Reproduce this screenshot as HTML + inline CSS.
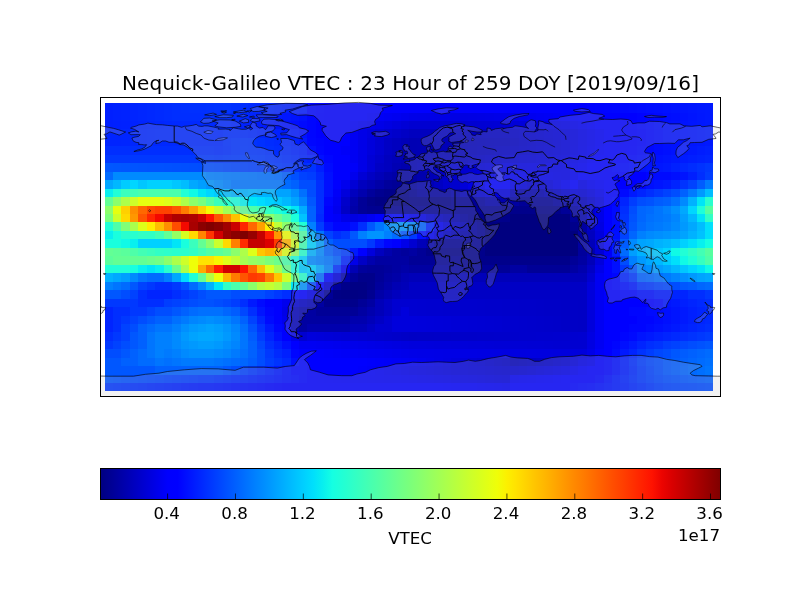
<!DOCTYPE html>
<html lang="en"><head><meta charset="utf-8"><title>Nequick-Galileo VTEC</title>
<style>
html,body{margin:0;padding:0;background:#fff;}
body{width:800px;height:600px;overflow:hidden;}
svg{display:block;}
text{font-family:"DejaVu Sans","Liberation Sans",sans-serif;fill:#000;filter:grayscale(100%);}
</style></head><body>
<svg width="800" height="600" viewBox="0 0 800 600">
<rect width="800" height="600" fill="#fff"/>
<defs>
<clipPath id="ax"><rect x="100" y="97" width="620" height="299"/></clipPath>
<linearGradient id="jet" x1="0" x2="1" y1="0" y2="0"><stop offset="0.0000" stop-color="#000080"/><stop offset="0.0156" stop-color="#000092"/><stop offset="0.0312" stop-color="#0000a4"/><stop offset="0.0469" stop-color="#0000b6"/><stop offset="0.0625" stop-color="#0000c8"/><stop offset="0.0781" stop-color="#0000da"/><stop offset="0.0938" stop-color="#0000ec"/><stop offset="0.1094" stop-color="#0000fe"/><stop offset="0.1250" stop-color="#0000ff"/><stop offset="0.1406" stop-color="#0010ff"/><stop offset="0.1562" stop-color="#0020ff"/><stop offset="0.1719" stop-color="#0030ff"/><stop offset="0.1875" stop-color="#0040ff"/><stop offset="0.2031" stop-color="#0050ff"/><stop offset="0.2188" stop-color="#0060ff"/><stop offset="0.2344" stop-color="#0070ff"/><stop offset="0.2500" stop-color="#0080ff"/><stop offset="0.2656" stop-color="#008fff"/><stop offset="0.2812" stop-color="#009fff"/><stop offset="0.2969" stop-color="#00afff"/><stop offset="0.3125" stop-color="#00bfff"/><stop offset="0.3281" stop-color="#00cfff"/><stop offset="0.3438" stop-color="#00dffc"/><stop offset="0.3594" stop-color="#08efef"/><stop offset="0.3750" stop-color="#15ffe2"/><stop offset="0.3906" stop-color="#21ffd5"/><stop offset="0.4062" stop-color="#2effc9"/><stop offset="0.4219" stop-color="#3bffbc"/><stop offset="0.4375" stop-color="#48ffaf"/><stop offset="0.4531" stop-color="#55ffa2"/><stop offset="0.4688" stop-color="#62ff95"/><stop offset="0.4844" stop-color="#6fff88"/><stop offset="0.5000" stop-color="#7bff7b"/><stop offset="0.5156" stop-color="#88ff6f"/><stop offset="0.5312" stop-color="#95ff62"/><stop offset="0.5469" stop-color="#a2ff55"/><stop offset="0.5625" stop-color="#afff48"/><stop offset="0.5781" stop-color="#bcff3b"/><stop offset="0.5938" stop-color="#c9ff2e"/><stop offset="0.6094" stop-color="#d5ff21"/><stop offset="0.6250" stop-color="#e2ff15"/><stop offset="0.6406" stop-color="#effe08"/><stop offset="0.6562" stop-color="#fcf000"/><stop offset="0.6719" stop-color="#ffe100"/><stop offset="0.6875" stop-color="#ffd200"/><stop offset="0.7031" stop-color="#ffc300"/><stop offset="0.7188" stop-color="#ffb500"/><stop offset="0.7344" stop-color="#ffa600"/><stop offset="0.7500" stop-color="#ff9700"/><stop offset="0.7656" stop-color="#ff8800"/><stop offset="0.7812" stop-color="#ff7a00"/><stop offset="0.7969" stop-color="#ff6b00"/><stop offset="0.8125" stop-color="#ff5c00"/><stop offset="0.8281" stop-color="#ff4d00"/><stop offset="0.8438" stop-color="#ff3f00"/><stop offset="0.8594" stop-color="#ff3000"/><stop offset="0.8750" stop-color="#ff2100"/><stop offset="0.8906" stop-color="#fe1200"/><stop offset="0.9062" stop-color="#ec0400"/><stop offset="0.9219" stop-color="#da0000"/><stop offset="0.9375" stop-color="#c80000"/><stop offset="0.9531" stop-color="#b60000"/><stop offset="0.9688" stop-color="#a40000"/><stop offset="0.9844" stop-color="#920000"/><stop offset="1.0000" stop-color="#800000"/></linearGradient>
</defs>
<g shape-rendering="crispEdges">
<rect x="105" y="103" width="8" height="10" fill="#001fff"/><rect x="113" y="103" width="8" height="10" fill="#0021ff"/><rect x="121" y="103" width="9" height="10" fill="#0022ff"/><rect x="130" y="103" width="8" height="10" fill="#0024ff"/><rect x="138" y="103" width="9" height="10" fill="#0026ff"/><rect x="147" y="103" width="8" height="10" fill="#0028ff"/><rect x="155" y="103" width="9" height="10" fill="#002aff"/><rect x="164" y="103" width="8" height="10" fill="#002cff"/><rect x="172" y="103" width="9" height="10" fill="#002eff"/><rect x="181" y="103" width="8" height="10" fill="#002fff"/><rect x="189" y="103" width="17" height="10" fill="#0030ff"/><rect x="206" y="103" width="8" height="10" fill="#0031ff"/><rect x="214" y="103" width="9" height="10" fill="#0032ff"/><rect x="223" y="103" width="8" height="10" fill="#0033ff"/><rect x="231" y="103" width="9" height="10" fill="#0030ff"/><rect x="240" y="103" width="8" height="10" fill="#002dff"/><rect x="248" y="103" width="9" height="10" fill="#002aff"/><rect x="257" y="103" width="8" height="10" fill="#0028ff"/><rect x="265" y="103" width="9" height="10" fill="#0025ff"/><rect x="274" y="103" width="8" height="10" fill="#0022ff"/><rect x="282" y="103" width="9" height="10" fill="#001fff"/><rect x="291" y="103" width="8" height="10" fill="#001cff"/><rect x="299" y="103" width="8" height="10" fill="#0019ff"/><rect x="307" y="103" width="9" height="10" fill="#0005ff"/><rect x="316" y="103" width="8" height="10" fill="#0003ff"/><rect x="324" y="103" width="263" height="10" fill="#0000ff"/><rect x="587" y="103" width="8" height="10" fill="#0002ff"/><rect x="595" y="103" width="9" height="10" fill="#0003ff"/><rect x="604" y="103" width="8" height="10" fill="#0004ff"/><rect x="612" y="103" width="8" height="10" fill="#0005ff"/><rect x="620" y="103" width="9" height="10" fill="#0007ff"/><rect x="629" y="103" width="8" height="10" fill="#0009ff"/><rect x="637" y="103" width="9" height="10" fill="#000bff"/><rect x="646" y="103" width="8" height="10" fill="#000dff"/><rect x="654" y="103" width="9" height="10" fill="#000eff"/><rect x="663" y="103" width="8" height="10" fill="#0010ff"/><rect x="671" y="103" width="9" height="10" fill="#0012ff"/><rect x="680" y="103" width="8" height="10" fill="#0014ff"/><rect x="688" y="103" width="9" height="10" fill="#0016ff"/><rect x="697" y="103" width="8" height="10" fill="#0018ff"/><rect x="705" y="103" width="8" height="10" fill="#0019ff"/>
<rect x="105" y="113" width="8" height="8" fill="#001fff"/><rect x="113" y="113" width="8" height="8" fill="#0021ff"/><rect x="121" y="113" width="9" height="8" fill="#0022ff"/><rect x="130" y="113" width="8" height="8" fill="#0024ff"/><rect x="138" y="113" width="9" height="8" fill="#0026ff"/><rect x="147" y="113" width="8" height="8" fill="#0028ff"/><rect x="155" y="113" width="9" height="8" fill="#002aff"/><rect x="164" y="113" width="8" height="8" fill="#002cff"/><rect x="172" y="113" width="59" height="8" fill="#002eff"/><rect x="231" y="113" width="9" height="8" fill="#002bff"/><rect x="240" y="113" width="8" height="8" fill="#0027ff"/><rect x="248" y="113" width="9" height="8" fill="#0024ff"/><rect x="257" y="113" width="8" height="8" fill="#0020ff"/><rect x="265" y="113" width="9" height="8" fill="#001dff"/><rect x="274" y="113" width="8" height="8" fill="#001aff"/><rect x="282" y="113" width="9" height="8" fill="#0016ff"/><rect x="291" y="113" width="8" height="8" fill="#0013ff"/><rect x="299" y="113" width="8" height="8" fill="#000fff"/><rect x="307" y="113" width="9" height="8" fill="#0005ff"/><rect x="316" y="113" width="8" height="8" fill="#0002ff"/><rect x="324" y="113" width="43" height="8" fill="#0000ff"/><rect x="367" y="113" width="8" height="8" fill="#0000fb"/><rect x="375" y="113" width="9" height="8" fill="#0000f7"/><rect x="384" y="113" width="8" height="8" fill="#0000f3"/><rect x="392" y="113" width="9" height="8" fill="#0000f0"/><rect x="401" y="113" width="8" height="8" fill="#0000ec"/><rect x="409" y="113" width="8" height="8" fill="#0000e8"/><rect x="417" y="113" width="9" height="8" fill="#0000e7"/><rect x="426" y="113" width="8" height="8" fill="#0000e6"/><rect x="434" y="113" width="9" height="8" fill="#0000e5"/><rect x="443" y="113" width="8" height="8" fill="#0000e4"/><rect x="451" y="113" width="9" height="8" fill="#0000e3"/><rect x="460" y="113" width="8" height="8" fill="#0000e2"/><rect x="468" y="113" width="9" height="8" fill="#0000e3"/><rect x="477" y="113" width="8" height="8" fill="#0000e4"/><rect x="485" y="113" width="9" height="8" fill="#0000e5"/><rect x="494" y="113" width="8" height="8" fill="#0000e7"/><rect x="502" y="113" width="8" height="8" fill="#0000e8"/><rect x="510" y="113" width="9" height="8" fill="#0000ea"/><rect x="519" y="113" width="8" height="8" fill="#0000ed"/><rect x="527" y="113" width="9" height="8" fill="#0000f0"/><rect x="536" y="113" width="8" height="8" fill="#0000f3"/><rect x="544" y="113" width="9" height="8" fill="#0000f5"/><rect x="553" y="113" width="8" height="8" fill="#0000f8"/><rect x="561" y="113" width="9" height="8" fill="#0000fb"/><rect x="570" y="113" width="8" height="8" fill="#0000fd"/><rect x="578" y="113" width="59" height="8" fill="#0000ff"/><rect x="637" y="113" width="9" height="8" fill="#0003ff"/><rect x="646" y="113" width="8" height="8" fill="#0006ff"/><rect x="654" y="113" width="9" height="8" fill="#0009ff"/><rect x="663" y="113" width="8" height="8" fill="#000cff"/><rect x="671" y="113" width="9" height="8" fill="#000eff"/><rect x="680" y="113" width="8" height="8" fill="#0011ff"/><rect x="688" y="113" width="9" height="8" fill="#0014ff"/><rect x="697" y="113" width="8" height="8" fill="#0017ff"/><rect x="705" y="113" width="8" height="8" fill="#0019ff"/>
<rect x="105" y="121" width="8" height="8" fill="#001fff"/><rect x="113" y="121" width="8" height="8" fill="#0020ff"/><rect x="121" y="121" width="9" height="8" fill="#0021ff"/><rect x="130" y="121" width="8" height="8" fill="#0022ff"/><rect x="138" y="121" width="9" height="8" fill="#0024ff"/><rect x="147" y="121" width="8" height="8" fill="#0025ff"/><rect x="155" y="121" width="9" height="8" fill="#0026ff"/><rect x="164" y="121" width="8" height="8" fill="#0028ff"/><rect x="172" y="121" width="59" height="8" fill="#0029ff"/><rect x="231" y="121" width="9" height="8" fill="#0025ff"/><rect x="240" y="121" width="8" height="8" fill="#0022ff"/><rect x="248" y="121" width="9" height="8" fill="#001fff"/><rect x="257" y="121" width="8" height="8" fill="#001bff"/><rect x="265" y="121" width="9" height="8" fill="#0018ff"/><rect x="274" y="121" width="8" height="8" fill="#0014ff"/><rect x="282" y="121" width="9" height="8" fill="#0011ff"/><rect x="291" y="121" width="8" height="8" fill="#000eff"/><rect x="299" y="121" width="8" height="8" fill="#000aff"/><rect x="307" y="121" width="9" height="8" fill="#0005ff"/><rect x="316" y="121" width="34" height="8" fill="#0000ff"/><rect x="350" y="121" width="8" height="8" fill="#0000f9"/><rect x="358" y="121" width="9" height="8" fill="#0000f3"/><rect x="367" y="121" width="8" height="8" fill="#0000ee"/><rect x="375" y="121" width="9" height="8" fill="#0000e8"/><rect x="384" y="121" width="8" height="8" fill="#0000e2"/><rect x="392" y="121" width="9" height="8" fill="#0000dc"/><rect x="401" y="121" width="8" height="8" fill="#0000d6"/><rect x="409" y="121" width="59" height="8" fill="#0000d1"/><rect x="468" y="121" width="9" height="8" fill="#0000d2"/><rect x="477" y="121" width="8" height="8" fill="#0000d3"/><rect x="485" y="121" width="9" height="8" fill="#0000d4"/><rect x="494" y="121" width="8" height="8" fill="#0000d5"/><rect x="502" y="121" width="8" height="8" fill="#0000d6"/><rect x="510" y="121" width="9" height="8" fill="#0000d9"/><rect x="519" y="121" width="8" height="8" fill="#0000db"/><rect x="527" y="121" width="9" height="8" fill="#0000de"/><rect x="536" y="121" width="8" height="8" fill="#0000e0"/><rect x="544" y="121" width="9" height="8" fill="#0000e3"/><rect x="553" y="121" width="8" height="8" fill="#0000e5"/><rect x="561" y="121" width="9" height="8" fill="#0000e8"/><rect x="570" y="121" width="8" height="8" fill="#0000ee"/><rect x="578" y="121" width="9" height="8" fill="#0000f3"/><rect x="587" y="121" width="8" height="8" fill="#0000f9"/><rect x="595" y="121" width="34" height="8" fill="#0000ff"/><rect x="629" y="121" width="8" height="8" fill="#0002ff"/><rect x="637" y="121" width="9" height="8" fill="#0005ff"/><rect x="646" y="121" width="8" height="8" fill="#0008ff"/><rect x="654" y="121" width="9" height="8" fill="#000cff"/><rect x="663" y="121" width="8" height="8" fill="#000fff"/><rect x="671" y="121" width="9" height="8" fill="#0011ff"/><rect x="680" y="121" width="8" height="8" fill="#0013ff"/><rect x="688" y="121" width="9" height="8" fill="#0015ff"/><rect x="697" y="121" width="8" height="8" fill="#0017ff"/><rect x="705" y="121" width="8" height="8" fill="#0019ff"/>
<rect x="105" y="129" width="16" height="9" fill="#0024ff"/><rect x="121" y="129" width="9" height="9" fill="#0025ff"/><rect x="130" y="129" width="17" height="9" fill="#0026ff"/><rect x="147" y="129" width="8" height="9" fill="#0027ff"/><rect x="155" y="129" width="17" height="9" fill="#0028ff"/><rect x="172" y="129" width="51" height="9" fill="#0029ff"/><rect x="223" y="129" width="17" height="9" fill="#002cff"/><rect x="240" y="129" width="8" height="9" fill="#002bff"/><rect x="248" y="129" width="9" height="9" fill="#0029ff"/><rect x="257" y="129" width="8" height="9" fill="#0025ff"/><rect x="265" y="129" width="9" height="9" fill="#0022ff"/><rect x="274" y="129" width="8" height="9" fill="#001fff"/><rect x="282" y="129" width="9" height="9" fill="#001bff"/><rect x="291" y="129" width="8" height="9" fill="#0017ff"/><rect x="299" y="129" width="8" height="9" fill="#0011ff"/><rect x="307" y="129" width="9" height="9" fill="#0005ff"/><rect x="316" y="129" width="34" height="9" fill="#0000ff"/><rect x="350" y="129" width="8" height="9" fill="#0000f3"/><rect x="358" y="129" width="9" height="9" fill="#0000e8"/><rect x="367" y="129" width="8" height="9" fill="#0000e0"/><rect x="375" y="129" width="9" height="9" fill="#0000d8"/><rect x="384" y="129" width="8" height="9" fill="#0000d1"/><rect x="392" y="129" width="9" height="9" fill="#0000cb"/><rect x="401" y="129" width="8" height="9" fill="#0000c5"/><rect x="409" y="129" width="59" height="9" fill="#0000bf"/><rect x="468" y="129" width="9" height="9" fill="#0000c0"/><rect x="477" y="129" width="8" height="9" fill="#0000c2"/><rect x="485" y="129" width="9" height="9" fill="#0000c3"/><rect x="494" y="129" width="8" height="9" fill="#0000c4"/><rect x="502" y="129" width="8" height="9" fill="#0000c5"/><rect x="510" y="129" width="9" height="9" fill="#0000c8"/><rect x="519" y="129" width="8" height="9" fill="#0000cc"/><rect x="527" y="129" width="9" height="9" fill="#0000cf"/><rect x="536" y="129" width="8" height="9" fill="#0000d2"/><rect x="544" y="129" width="9" height="9" fill="#0000d6"/><rect x="553" y="129" width="8" height="9" fill="#0000d9"/><rect x="561" y="129" width="9" height="9" fill="#0000dc"/><rect x="570" y="129" width="8" height="9" fill="#0000e3"/><rect x="578" y="129" width="9" height="9" fill="#0000ea"/><rect x="587" y="129" width="8" height="9" fill="#0000f1"/><rect x="595" y="129" width="9" height="9" fill="#0000f7"/><rect x="604" y="129" width="8" height="9" fill="#0000fe"/><rect x="612" y="129" width="25" height="9" fill="#0000ff"/><rect x="637" y="129" width="9" height="9" fill="#0003ff"/><rect x="646" y="129" width="8" height="9" fill="#0007ff"/><rect x="654" y="129" width="9" height="9" fill="#000bff"/><rect x="663" y="129" width="8" height="9" fill="#000fff"/><rect x="671" y="129" width="9" height="9" fill="#0011ff"/><rect x="680" y="129" width="8" height="9" fill="#0013ff"/><rect x="688" y="129" width="9" height="9" fill="#0015ff"/><rect x="697" y="129" width="8" height="9" fill="#0017ff"/><rect x="705" y="129" width="8" height="9" fill="#0019ff"/>
<rect x="105" y="138" width="16" height="8" fill="#0024ff"/><rect x="121" y="138" width="9" height="8" fill="#0025ff"/><rect x="130" y="138" width="17" height="8" fill="#0026ff"/><rect x="147" y="138" width="8" height="8" fill="#0027ff"/><rect x="155" y="138" width="17" height="8" fill="#0028ff"/><rect x="172" y="138" width="51" height="8" fill="#0029ff"/><rect x="223" y="138" width="8" height="8" fill="#002fff"/><rect x="231" y="138" width="9" height="8" fill="#0032ff"/><rect x="240" y="138" width="8" height="8" fill="#0034ff"/><rect x="248" y="138" width="9" height="8" fill="#0033ff"/><rect x="257" y="138" width="8" height="8" fill="#0030ff"/><rect x="265" y="138" width="9" height="8" fill="#002cff"/><rect x="274" y="138" width="8" height="8" fill="#0029ff"/><rect x="282" y="138" width="9" height="8" fill="#0025ff"/><rect x="291" y="138" width="8" height="8" fill="#0020ff"/><rect x="299" y="138" width="8" height="8" fill="#0018ff"/><rect x="307" y="138" width="9" height="8" fill="#0006ff"/><rect x="316" y="138" width="8" height="8" fill="#0003ff"/><rect x="324" y="138" width="26" height="8" fill="#0000ff"/><rect x="350" y="138" width="8" height="8" fill="#0000f3"/><rect x="358" y="138" width="9" height="8" fill="#0000e8"/><rect x="367" y="138" width="8" height="8" fill="#0000dc"/><rect x="375" y="138" width="9" height="8" fill="#0000d1"/><rect x="384" y="138" width="8" height="8" fill="#0000c5"/><rect x="392" y="138" width="9" height="8" fill="#0000bf"/><rect x="401" y="138" width="8" height="8" fill="#0000b9"/><rect x="409" y="138" width="8" height="8" fill="#0000b4"/><rect x="417" y="138" width="9" height="8" fill="#0000b5"/><rect x="426" y="138" width="8" height="8" fill="#0000b6"/><rect x="434" y="138" width="9" height="8" fill="#0000b7"/><rect x="443" y="138" width="17" height="8" fill="#0000b8"/><rect x="460" y="138" width="8" height="8" fill="#0000b9"/><rect x="468" y="138" width="9" height="8" fill="#0000bb"/><rect x="477" y="138" width="8" height="8" fill="#0000bc"/><rect x="485" y="138" width="9" height="8" fill="#0000bd"/><rect x="494" y="138" width="8" height="8" fill="#0000be"/><rect x="502" y="138" width="8" height="8" fill="#0000bf"/><rect x="510" y="138" width="9" height="8" fill="#0000c3"/><rect x="519" y="138" width="8" height="8" fill="#0000c8"/><rect x="527" y="138" width="9" height="8" fill="#0000cc"/><rect x="536" y="138" width="8" height="8" fill="#0000d0"/><rect x="544" y="138" width="9" height="8" fill="#0000d4"/><rect x="553" y="138" width="8" height="8" fill="#0000d8"/><rect x="561" y="138" width="9" height="8" fill="#0000dc"/><rect x="570" y="138" width="8" height="8" fill="#0000e3"/><rect x="578" y="138" width="9" height="8" fill="#0000ea"/><rect x="587" y="138" width="8" height="8" fill="#0000f1"/><rect x="595" y="138" width="9" height="8" fill="#0000f7"/><rect x="604" y="138" width="8" height="8" fill="#0000fe"/><rect x="612" y="138" width="25" height="8" fill="#0000ff"/><rect x="637" y="138" width="9" height="8" fill="#0003ff"/><rect x="646" y="138" width="8" height="8" fill="#0007ff"/><rect x="654" y="138" width="9" height="8" fill="#000bff"/><rect x="663" y="138" width="8" height="8" fill="#000fff"/><rect x="671" y="138" width="9" height="8" fill="#0011ff"/><rect x="680" y="138" width="8" height="8" fill="#0013ff"/><rect x="688" y="138" width="9" height="8" fill="#0015ff"/><rect x="697" y="138" width="8" height="8" fill="#0017ff"/><rect x="705" y="138" width="8" height="8" fill="#0019ff"/>
<rect x="105" y="146" width="109" height="9" fill="#002eff"/><rect x="214" y="146" width="9" height="9" fill="#002bff"/><rect x="223" y="146" width="8" height="9" fill="#002eff"/><rect x="231" y="146" width="9" height="9" fill="#0032ff"/><rect x="240" y="146" width="8" height="9" fill="#0035ff"/><rect x="248" y="146" width="9" height="9" fill="#0034ff"/><rect x="257" y="146" width="8" height="9" fill="#0032ff"/><rect x="265" y="146" width="9" height="9" fill="#002fff"/><rect x="274" y="146" width="8" height="9" fill="#002cff"/><rect x="282" y="146" width="9" height="9" fill="#0029ff"/><rect x="291" y="146" width="8" height="9" fill="#0024ff"/><rect x="299" y="146" width="8" height="9" fill="#001eff"/><rect x="307" y="146" width="9" height="9" fill="#000fff"/><rect x="316" y="146" width="8" height="9" fill="#0005ff"/><rect x="324" y="146" width="17" height="9" fill="#0000ff"/><rect x="341" y="146" width="9" height="9" fill="#0000f9"/><rect x="350" y="146" width="8" height="9" fill="#0000f3"/><rect x="358" y="146" width="9" height="9" fill="#0000e8"/><rect x="367" y="146" width="8" height="9" fill="#0000dc"/><rect x="375" y="146" width="9" height="9" fill="#0000d1"/><rect x="384" y="146" width="8" height="9" fill="#0000c5"/><rect x="392" y="146" width="9" height="9" fill="#0000bf"/><rect x="401" y="146" width="8" height="9" fill="#0000b9"/><rect x="409" y="146" width="8" height="9" fill="#0000b4"/><rect x="417" y="146" width="9" height="9" fill="#0000b5"/><rect x="426" y="146" width="8" height="9" fill="#0000b6"/><rect x="434" y="146" width="9" height="9" fill="#0000b7"/><rect x="443" y="146" width="17" height="9" fill="#0000b8"/><rect x="460" y="146" width="8" height="9" fill="#0000b9"/><rect x="468" y="146" width="9" height="9" fill="#0000bc"/><rect x="477" y="146" width="8" height="9" fill="#0000be"/><rect x="485" y="146" width="9" height="9" fill="#0000c0"/><rect x="494" y="146" width="8" height="9" fill="#0000c3"/><rect x="502" y="146" width="8" height="9" fill="#0000c5"/><rect x="510" y="146" width="9" height="9" fill="#0000c8"/><rect x="519" y="146" width="8" height="9" fill="#0000cc"/><rect x="527" y="146" width="9" height="9" fill="#0000cf"/><rect x="536" y="146" width="8" height="9" fill="#0000d2"/><rect x="544" y="146" width="9" height="9" fill="#0000d6"/><rect x="553" y="146" width="8" height="9" fill="#0000d9"/><rect x="561" y="146" width="9" height="9" fill="#0000dc"/><rect x="570" y="146" width="8" height="9" fill="#0000e4"/><rect x="578" y="146" width="9" height="9" fill="#0000ec"/><rect x="587" y="146" width="8" height="9" fill="#0000f3"/><rect x="595" y="146" width="9" height="9" fill="#0000fb"/><rect x="604" y="146" width="25" height="9" fill="#0000ff"/><rect x="629" y="146" width="8" height="9" fill="#0002ff"/><rect x="637" y="146" width="9" height="9" fill="#0005ff"/><rect x="646" y="146" width="8" height="9" fill="#0008ff"/><rect x="654" y="146" width="9" height="9" fill="#000cff"/><rect x="663" y="146" width="8" height="9" fill="#000fff"/><rect x="671" y="146" width="9" height="9" fill="#0012ff"/><rect x="680" y="146" width="8" height="9" fill="#0015ff"/><rect x="688" y="146" width="9" height="9" fill="#0018ff"/><rect x="697" y="146" width="8" height="9" fill="#001cff"/><rect x="705" y="146" width="8" height="9" fill="#001fff"/>
<rect x="105" y="155" width="109" height="8" fill="#0038ff"/><rect x="214" y="155" width="9" height="8" fill="#0035ff"/><rect x="223" y="155" width="8" height="8" fill="#0037ff"/><rect x="231" y="155" width="9" height="8" fill="#0039ff"/><rect x="240" y="155" width="8" height="8" fill="#003bff"/><rect x="248" y="155" width="9" height="8" fill="#0039ff"/><rect x="257" y="155" width="8" height="8" fill="#0037ff"/><rect x="265" y="155" width="9" height="8" fill="#0034ff"/><rect x="274" y="155" width="8" height="8" fill="#0031ff"/><rect x="282" y="155" width="9" height="8" fill="#002eff"/><rect x="291" y="155" width="8" height="8" fill="#002aff"/><rect x="299" y="155" width="8" height="8" fill="#0024ff"/><rect x="307" y="155" width="9" height="8" fill="#001fff"/><rect x="316" y="155" width="8" height="8" fill="#000fff"/><rect x="324" y="155" width="9" height="8" fill="#0005ff"/><rect x="333" y="155" width="17" height="8" fill="#0000ff"/><rect x="350" y="155" width="8" height="8" fill="#0000f3"/><rect x="358" y="155" width="9" height="8" fill="#0000e8"/><rect x="367" y="155" width="8" height="8" fill="#0000d6"/><rect x="375" y="155" width="9" height="8" fill="#0000cb"/><rect x="384" y="155" width="8" height="8" fill="#0000bf"/><rect x="392" y="155" width="9" height="8" fill="#0000b9"/><rect x="401" y="155" width="16" height="8" fill="#0000b4"/><rect x="417" y="155" width="9" height="8" fill="#0000b6"/><rect x="426" y="155" width="8" height="8" fill="#0000b8"/><rect x="434" y="155" width="9" height="8" fill="#0000b9"/><rect x="443" y="155" width="8" height="8" fill="#0000bb"/><rect x="451" y="155" width="9" height="8" fill="#0000bd"/><rect x="460" y="155" width="8" height="8" fill="#0000bf"/><rect x="468" y="155" width="9" height="8" fill="#0000c3"/><rect x="477" y="155" width="8" height="8" fill="#0000c6"/><rect x="485" y="155" width="9" height="8" fill="#0000ca"/><rect x="494" y="155" width="8" height="8" fill="#0000cd"/><rect x="502" y="155" width="8" height="8" fill="#0000d1"/><rect x="510" y="155" width="9" height="8" fill="#0000d3"/><rect x="519" y="155" width="8" height="8" fill="#0000d6"/><rect x="527" y="155" width="9" height="8" fill="#0000d8"/><rect x="536" y="155" width="8" height="8" fill="#0000db"/><rect x="544" y="155" width="9" height="8" fill="#0000dd"/><rect x="553" y="155" width="8" height="8" fill="#0000e0"/><rect x="561" y="155" width="9" height="8" fill="#0000e2"/><rect x="570" y="155" width="8" height="8" fill="#0000ea"/><rect x="578" y="155" width="9" height="8" fill="#0000f1"/><rect x="587" y="155" width="8" height="8" fill="#0000f9"/><rect x="595" y="155" width="25" height="8" fill="#0000ff"/><rect x="620" y="155" width="9" height="8" fill="#0003ff"/><rect x="629" y="155" width="8" height="8" fill="#0007ff"/><rect x="637" y="155" width="9" height="8" fill="#000aff"/><rect x="646" y="155" width="8" height="8" fill="#000eff"/><rect x="654" y="155" width="9" height="8" fill="#0011ff"/><rect x="663" y="155" width="8" height="8" fill="#0014ff"/><rect x="671" y="155" width="9" height="8" fill="#0017ff"/><rect x="680" y="155" width="8" height="8" fill="#001bff"/><rect x="688" y="155" width="9" height="8" fill="#001eff"/><rect x="697" y="155" width="8" height="8" fill="#0021ff"/><rect x="705" y="155" width="8" height="8" fill="#0024ff"/>
<rect x="105" y="163" width="8" height="9" fill="#0057ff"/><rect x="113" y="163" width="8" height="9" fill="#0056ff"/><rect x="121" y="163" width="9" height="9" fill="#0055ff"/><rect x="130" y="163" width="8" height="9" fill="#0054ff"/><rect x="138" y="163" width="9" height="9" fill="#0053ff"/><rect x="147" y="163" width="17" height="9" fill="#0052ff"/><rect x="164" y="163" width="8" height="9" fill="#0051ff"/><rect x="172" y="163" width="9" height="9" fill="#0050ff"/><rect x="181" y="163" width="8" height="9" fill="#004fff"/><rect x="189" y="163" width="9" height="9" fill="#004eff"/><rect x="198" y="163" width="16" height="9" fill="#004dff"/><rect x="214" y="163" width="9" height="9" fill="#004aff"/><rect x="223" y="163" width="8" height="9" fill="#0047ff"/><rect x="231" y="163" width="9" height="9" fill="#0044ff"/><rect x="240" y="163" width="8" height="9" fill="#0041ff"/><rect x="248" y="163" width="9" height="9" fill="#003fff"/><rect x="257" y="163" width="8" height="9" fill="#003cff"/><rect x="265" y="163" width="9" height="9" fill="#0039ff"/><rect x="274" y="163" width="8" height="9" fill="#0036ff"/><rect x="282" y="163" width="9" height="9" fill="#0033ff"/><rect x="291" y="163" width="8" height="9" fill="#0031ff"/><rect x="299" y="163" width="8" height="9" fill="#002eff"/><rect x="307" y="163" width="9" height="9" fill="#0033ff"/><rect x="316" y="163" width="8" height="9" fill="#001fff"/><rect x="324" y="163" width="9" height="9" fill="#000aff"/><rect x="333" y="163" width="17" height="9" fill="#0000ff"/><rect x="350" y="163" width="8" height="9" fill="#0000f9"/><rect x="358" y="163" width="9" height="9" fill="#0000e8"/><rect x="367" y="163" width="8" height="9" fill="#0000d6"/><rect x="375" y="163" width="9" height="9" fill="#0000c5"/><rect x="384" y="163" width="8" height="9" fill="#0000bf"/><rect x="392" y="163" width="9" height="9" fill="#0000b4"/><rect x="401" y="163" width="8" height="9" fill="#0000ae"/><rect x="409" y="163" width="8" height="9" fill="#0000b4"/><rect x="417" y="163" width="9" height="9" fill="#0000bb"/><rect x="426" y="163" width="8" height="9" fill="#0000c2"/><rect x="434" y="163" width="9" height="9" fill="#0000c9"/><rect x="443" y="163" width="25" height="9" fill="#0000d1"/><rect x="468" y="163" width="9" height="9" fill="#0000d4"/><rect x="477" y="163" width="8" height="9" fill="#0000d8"/><rect x="485" y="163" width="9" height="9" fill="#0000db"/><rect x="494" y="163" width="8" height="9" fill="#0000df"/><rect x="502" y="163" width="8" height="9" fill="#0000e2"/><rect x="510" y="163" width="9" height="9" fill="#0000e3"/><rect x="519" y="163" width="8" height="9" fill="#0000e4"/><rect x="527" y="163" width="17" height="9" fill="#0000e5"/><rect x="544" y="163" width="9" height="9" fill="#0000e6"/><rect x="553" y="163" width="8" height="9" fill="#0000e7"/><rect x="561" y="163" width="9" height="9" fill="#0000e8"/><rect x="570" y="163" width="8" height="9" fill="#0000f0"/><rect x="578" y="163" width="9" height="9" fill="#0000f7"/><rect x="587" y="163" width="25" height="9" fill="#0000ff"/><rect x="612" y="163" width="8" height="9" fill="#0005ff"/><rect x="620" y="163" width="9" height="9" fill="#0008ff"/><rect x="629" y="163" width="8" height="9" fill="#000cff"/><rect x="637" y="163" width="9" height="9" fill="#000fff"/><rect x="646" y="163" width="8" height="9" fill="#0013ff"/><rect x="654" y="163" width="9" height="9" fill="#0016ff"/><rect x="663" y="163" width="8" height="9" fill="#0019ff"/><rect x="671" y="163" width="9" height="9" fill="#0020ff"/><rect x="680" y="163" width="8" height="9" fill="#0026ff"/><rect x="688" y="163" width="9" height="9" fill="#002cff"/><rect x="697" y="163" width="8" height="9" fill="#0032ff"/><rect x="705" y="163" width="8" height="9" fill="#0038ff"/>
<rect x="105" y="172" width="8" height="8" fill="#006bff"/><rect x="113" y="172" width="93" height="8" fill="#008aff"/><rect x="206" y="172" width="8" height="8" fill="#0080ff"/><rect x="214" y="172" width="9" height="8" fill="#007dff"/><rect x="223" y="172" width="8" height="8" fill="#007aff"/><rect x="231" y="172" width="9" height="8" fill="#0078ff"/><rect x="240" y="172" width="8" height="8" fill="#0075ff"/><rect x="248" y="172" width="9" height="8" fill="#0073ff"/><rect x="257" y="172" width="8" height="8" fill="#0070ff"/><rect x="265" y="172" width="9" height="8" fill="#006eff"/><rect x="274" y="172" width="8" height="8" fill="#006bff"/><rect x="282" y="172" width="9" height="8" fill="#005eff"/><rect x="291" y="172" width="8" height="8" fill="#0050ff"/><rect x="299" y="172" width="8" height="8" fill="#0042ff"/><rect x="307" y="172" width="9" height="8" fill="#003dff"/><rect x="316" y="172" width="8" height="8" fill="#0029ff"/><rect x="324" y="172" width="9" height="8" fill="#000fff"/><rect x="333" y="172" width="17" height="8" fill="#0000ff"/><rect x="350" y="172" width="8" height="8" fill="#0000ee"/><rect x="358" y="172" width="9" height="8" fill="#0000d6"/><rect x="367" y="172" width="8" height="8" fill="#0000c5"/><rect x="375" y="172" width="9" height="8" fill="#0000b9"/><rect x="384" y="172" width="8" height="8" fill="#0000ae"/><rect x="392" y="172" width="9" height="8" fill="#0000a8"/><rect x="401" y="172" width="8" height="8" fill="#0000a2"/><rect x="409" y="172" width="8" height="8" fill="#0000a6"/><rect x="417" y="172" width="9" height="8" fill="#0000ae"/><rect x="426" y="172" width="8" height="8" fill="#0000b7"/><rect x="434" y="172" width="9" height="8" fill="#0000c0"/><rect x="443" y="172" width="8" height="8" fill="#0000c9"/><rect x="451" y="172" width="9" height="8" fill="#0000cd"/><rect x="460" y="172" width="8" height="8" fill="#0000d1"/><rect x="468" y="172" width="9" height="8" fill="#0000d6"/><rect x="477" y="172" width="8" height="8" fill="#0000da"/><rect x="485" y="172" width="9" height="8" fill="#0000ec"/><rect x="494" y="172" width="8" height="8" fill="#0000f0"/><rect x="502" y="172" width="8" height="8" fill="#0000f3"/><rect x="510" y="172" width="9" height="8" fill="#0000f2"/><rect x="519" y="172" width="8" height="8" fill="#0000f0"/><rect x="527" y="172" width="9" height="8" fill="#0000ee"/><rect x="536" y="172" width="8" height="8" fill="#0000ed"/><rect x="544" y="172" width="9" height="8" fill="#0000eb"/><rect x="553" y="172" width="8" height="8" fill="#0000e9"/><rect x="561" y="172" width="9" height="8" fill="#0000e8"/><rect x="570" y="172" width="8" height="8" fill="#0000f0"/><rect x="578" y="172" width="68" height="8" fill="#0000ff"/><rect x="646" y="172" width="8" height="8" fill="#0005ff"/><rect x="654" y="172" width="17" height="8" fill="#000aff"/><rect x="671" y="172" width="9" height="8" fill="#000fff"/><rect x="680" y="172" width="8" height="8" fill="#0014ff"/><rect x="688" y="172" width="9" height="8" fill="#001fff"/><rect x="697" y="172" width="8" height="8" fill="#002eff"/><rect x="705" y="172" width="8" height="8" fill="#003dff"/>
<rect x="105" y="180" width="8" height="9" fill="#00a8ff"/><rect x="113" y="180" width="8" height="9" fill="#00b8ff"/><rect x="121" y="180" width="9" height="9" fill="#00ccff"/><rect x="130" y="180" width="8" height="9" fill="#00d6ff"/><rect x="138" y="180" width="9" height="9" fill="#00c7ff"/><rect x="147" y="180" width="25" height="9" fill="#00d1ff"/><rect x="172" y="180" width="9" height="9" fill="#00c7ff"/><rect x="181" y="180" width="8" height="9" fill="#00bdff"/><rect x="189" y="180" width="9" height="9" fill="#00a8ff"/><rect x="198" y="180" width="8" height="9" fill="#009eff"/><rect x="206" y="180" width="8" height="9" fill="#0094ff"/><rect x="214" y="180" width="9" height="9" fill="#008aff"/><rect x="223" y="180" width="8" height="9" fill="#0080ff"/><rect x="231" y="180" width="51" height="9" fill="#0075ff"/><rect x="282" y="180" width="9" height="9" fill="#006bff"/><rect x="291" y="180" width="8" height="9" fill="#0061ff"/><rect x="299" y="180" width="17" height="9" fill="#004dff"/><rect x="316" y="180" width="8" height="9" fill="#002eff"/><rect x="324" y="180" width="9" height="9" fill="#000fff"/><rect x="333" y="180" width="8" height="9" fill="#0000ff"/><rect x="341" y="180" width="9" height="9" fill="#0000ee"/><rect x="350" y="180" width="8" height="9" fill="#0000d6"/><rect x="358" y="180" width="9" height="9" fill="#0000bf"/><rect x="367" y="180" width="8" height="9" fill="#0000b4"/><rect x="375" y="180" width="9" height="9" fill="#0000a8"/><rect x="384" y="180" width="8" height="9" fill="#00009c"/><rect x="392" y="180" width="17" height="9" fill="#000097"/><rect x="409" y="180" width="8" height="9" fill="#0000a0"/><rect x="417" y="180" width="9" height="9" fill="#0000ac"/><rect x="426" y="180" width="8" height="9" fill="#0000b7"/><rect x="434" y="180" width="9" height="9" fill="#0000c3"/><rect x="443" y="180" width="17" height="9" fill="#0000ce"/><rect x="460" y="180" width="8" height="9" fill="#0000da"/><rect x="468" y="180" width="17" height="9" fill="#0000e6"/><rect x="485" y="180" width="25" height="9" fill="#0000ff"/><rect x="510" y="180" width="9" height="9" fill="#0000e8"/><rect x="519" y="180" width="8" height="9" fill="#0000dc"/><rect x="527" y="180" width="17" height="9" fill="#0000d1"/><rect x="544" y="180" width="9" height="9" fill="#0000dc"/><rect x="553" y="180" width="8" height="9" fill="#0000e8"/><rect x="561" y="180" width="9" height="9" fill="#0000f3"/><rect x="570" y="180" width="8" height="9" fill="#0000ff"/><rect x="578" y="180" width="9" height="9" fill="#0000e8"/><rect x="587" y="180" width="8" height="9" fill="#0000f3"/><rect x="595" y="180" width="9" height="9" fill="#0000f9"/><rect x="604" y="180" width="33" height="9" fill="#0000ff"/><rect x="637" y="180" width="9" height="9" fill="#0005ff"/><rect x="646" y="180" width="8" height="9" fill="#000fff"/><rect x="654" y="180" width="9" height="9" fill="#0014ff"/><rect x="663" y="180" width="8" height="9" fill="#0019ff"/><rect x="671" y="180" width="9" height="9" fill="#0024ff"/><rect x="680" y="180" width="8" height="9" fill="#0033ff"/><rect x="688" y="180" width="9" height="9" fill="#0042ff"/><rect x="697" y="180" width="8" height="9" fill="#005cff"/><rect x="705" y="180" width="8" height="9" fill="#007aff"/>
<rect x="105" y="189" width="8" height="8" fill="#08f0ef"/><rect x="113" y="189" width="8" height="8" fill="#21ffd6"/><rect x="121" y="189" width="9" height="8" fill="#3affbd"/><rect x="130" y="189" width="8" height="8" fill="#42ffb5"/><rect x="138" y="189" width="43" height="8" fill="#4affad"/><rect x="181" y="189" width="8" height="8" fill="#21ffd6"/><rect x="189" y="189" width="9" height="8" fill="#10fae6"/><rect x="198" y="189" width="8" height="8" fill="#00e5f7"/><rect x="206" y="189" width="8" height="8" fill="#00d6ff"/><rect x="214" y="189" width="9" height="8" fill="#00ccff"/><rect x="223" y="189" width="8" height="8" fill="#00bdff"/><rect x="231" y="189" width="17" height="8" fill="#00b2ff"/><rect x="248" y="189" width="9" height="8" fill="#00b8ff"/><rect x="257" y="189" width="17" height="8" fill="#00b2ff"/><rect x="274" y="189" width="17" height="8" fill="#00a3ff"/><rect x="291" y="189" width="8" height="8" fill="#008fff"/><rect x="299" y="189" width="8" height="8" fill="#0070ff"/><rect x="307" y="189" width="9" height="8" fill="#004dff"/><rect x="316" y="189" width="8" height="8" fill="#002eff"/><rect x="324" y="189" width="9" height="8" fill="#000fff"/><rect x="333" y="189" width="8" height="8" fill="#0000f9"/><rect x="341" y="189" width="9" height="8" fill="#0000dc"/><rect x="350" y="189" width="8" height="8" fill="#0000bf"/><rect x="358" y="189" width="9" height="8" fill="#0000ae"/><rect x="367" y="189" width="8" height="8" fill="#00009c"/><rect x="375" y="189" width="9" height="8" fill="#000091"/><rect x="384" y="189" width="25" height="8" fill="#00008b"/><rect x="409" y="189" width="8" height="8" fill="#000097"/><rect x="417" y="189" width="34" height="8" fill="#0000a2"/><rect x="451" y="189" width="9" height="8" fill="#0000ae"/><rect x="460" y="189" width="8" height="8" fill="#0000b9"/><rect x="468" y="189" width="9" height="8" fill="#0000c5"/><rect x="477" y="189" width="8" height="8" fill="#0000d1"/><rect x="485" y="189" width="25" height="8" fill="#0000dc"/><rect x="510" y="189" width="9" height="8" fill="#0000b9"/><rect x="519" y="189" width="25" height="8" fill="#0000ae"/><rect x="544" y="189" width="9" height="8" fill="#0000b9"/><rect x="553" y="189" width="8" height="8" fill="#0000c5"/><rect x="561" y="189" width="9" height="8" fill="#0000d1"/><rect x="570" y="189" width="8" height="8" fill="#0000dc"/><rect x="578" y="189" width="9" height="8" fill="#0000d6"/><rect x="587" y="189" width="8" height="8" fill="#0000e2"/><rect x="595" y="189" width="9" height="8" fill="#0000ee"/><rect x="604" y="189" width="16" height="8" fill="#0000ff"/><rect x="620" y="189" width="9" height="8" fill="#000aff"/><rect x="629" y="189" width="8" height="8" fill="#0019ff"/><rect x="637" y="189" width="9" height="8" fill="#0024ff"/><rect x="646" y="189" width="8" height="8" fill="#002eff"/><rect x="654" y="189" width="9" height="8" fill="#0038ff"/><rect x="663" y="189" width="8" height="8" fill="#0042ff"/><rect x="671" y="189" width="9" height="8" fill="#004dff"/><rect x="680" y="189" width="8" height="8" fill="#0061ff"/><rect x="688" y="189" width="9" height="8" fill="#007aff"/><rect x="697" y="189" width="8" height="8" fill="#0099ff"/><rect x="705" y="189" width="8" height="8" fill="#00bdff"/>
<rect x="105" y="197" width="8" height="9" fill="#63ff94"/><rect x="113" y="197" width="8" height="9" fill="#8cff6b"/><rect x="121" y="197" width="9" height="9" fill="#adff4a"/><rect x="130" y="197" width="8" height="9" fill="#ceff29"/><rect x="138" y="197" width="26" height="9" fill="#e6ff10"/><rect x="164" y="197" width="8" height="9" fill="#deff19"/><rect x="172" y="197" width="9" height="9" fill="#ceff29"/><rect x="181" y="197" width="8" height="9" fill="#adff4a"/><rect x="189" y="197" width="9" height="9" fill="#8cff6b"/><rect x="198" y="197" width="8" height="9" fill="#77ff80"/><rect x="206" y="197" width="8" height="9" fill="#56ffa0"/><rect x="214" y="197" width="9" height="9" fill="#3affbd"/><rect x="223" y="197" width="8" height="9" fill="#29ffce"/><rect x="231" y="197" width="9" height="9" fill="#19ffde"/><rect x="240" y="197" width="8" height="9" fill="#08f0ef"/><rect x="248" y="197" width="9" height="9" fill="#00e5f7"/><rect x="257" y="197" width="8" height="9" fill="#00dbff"/><rect x="265" y="197" width="9" height="9" fill="#00d1ff"/><rect x="274" y="197" width="8" height="9" fill="#00c7ff"/><rect x="282" y="197" width="9" height="9" fill="#00b8ff"/><rect x="291" y="197" width="8" height="9" fill="#00a3ff"/><rect x="299" y="197" width="8" height="9" fill="#0085ff"/><rect x="307" y="197" width="9" height="9" fill="#0057ff"/><rect x="316" y="197" width="8" height="9" fill="#002eff"/><rect x="324" y="197" width="9" height="9" fill="#0005ff"/><rect x="333" y="197" width="8" height="9" fill="#0000f3"/><rect x="341" y="197" width="9" height="9" fill="#0000cb"/><rect x="350" y="197" width="8" height="9" fill="#0000ae"/><rect x="358" y="197" width="9" height="9" fill="#000097"/><rect x="367" y="197" width="8" height="9" fill="#00008b"/><rect x="375" y="197" width="34" height="9" fill="#000085"/><rect x="409" y="197" width="42" height="9" fill="#00008b"/><rect x="451" y="197" width="26" height="9" fill="#000097"/><rect x="477" y="197" width="8" height="9" fill="#0000a2"/><rect x="485" y="197" width="25" height="9" fill="#0000ae"/><rect x="510" y="197" width="9" height="9" fill="#0000a2"/><rect x="519" y="197" width="34" height="9" fill="#000097"/><rect x="553" y="197" width="8" height="9" fill="#0000a2"/><rect x="561" y="197" width="9" height="9" fill="#0000ae"/><rect x="570" y="197" width="8" height="9" fill="#0000b9"/><rect x="578" y="197" width="9" height="9" fill="#0000bf"/><rect x="587" y="197" width="8" height="9" fill="#0000d1"/><rect x="595" y="197" width="9" height="9" fill="#0000e2"/><rect x="604" y="197" width="8" height="9" fill="#0000ff"/><rect x="612" y="197" width="8" height="9" fill="#0005ff"/><rect x="620" y="197" width="9" height="9" fill="#0024ff"/><rect x="629" y="197" width="8" height="9" fill="#003dff"/><rect x="637" y="197" width="9" height="9" fill="#004dff"/><rect x="646" y="197" width="8" height="9" fill="#0052ff"/><rect x="654" y="197" width="9" height="9" fill="#005cff"/><rect x="663" y="197" width="8" height="9" fill="#0061ff"/><rect x="671" y="197" width="9" height="9" fill="#0070ff"/><rect x="680" y="197" width="8" height="9" fill="#008aff"/><rect x="688" y="197" width="9" height="9" fill="#00b2ff"/><rect x="697" y="197" width="8" height="9" fill="#00e5f7"/><rect x="705" y="197" width="8" height="9" fill="#29ffce"/>
<rect x="105" y="206" width="8" height="8" fill="#8cff6b"/><rect x="113" y="206" width="8" height="8" fill="#e6ff10"/><rect x="121" y="206" width="9" height="8" fill="#ffd000"/><rect x="130" y="206" width="8" height="8" fill="#ff8e00"/><rect x="138" y="206" width="9" height="8" fill="#ff6800"/><rect x="147" y="206" width="8" height="8" fill="#ff4c00"/><rect x="155" y="206" width="17" height="8" fill="#ff4200"/><rect x="172" y="206" width="9" height="8" fill="#ff5500"/><rect x="181" y="206" width="8" height="8" fill="#ff7b00"/><rect x="189" y="206" width="9" height="8" fill="#ffa100"/><rect x="198" y="206" width="8" height="8" fill="#ffd000"/><rect x="206" y="206" width="8" height="8" fill="#f3fa04"/><rect x="214" y="206" width="9" height="8" fill="#caff2d"/><rect x="223" y="206" width="8" height="8" fill="#a0ff56"/><rect x="231" y="206" width="9" height="8" fill="#80ff77"/><rect x="240" y="206" width="8" height="8" fill="#63ff94"/><rect x="248" y="206" width="9" height="8" fill="#4effa9"/><rect x="257" y="206" width="8" height="8" fill="#42ffb5"/><rect x="265" y="206" width="9" height="8" fill="#31ffc5"/><rect x="274" y="206" width="8" height="8" fill="#21ffd6"/><rect x="282" y="206" width="9" height="8" fill="#10fae6"/><rect x="291" y="206" width="8" height="8" fill="#00e5f7"/><rect x="299" y="206" width="8" height="8" fill="#00adff"/><rect x="307" y="206" width="9" height="8" fill="#0061ff"/><rect x="316" y="206" width="8" height="8" fill="#002eff"/><rect x="324" y="206" width="9" height="8" fill="#0000ff"/><rect x="333" y="206" width="8" height="8" fill="#0000ee"/><rect x="341" y="206" width="9" height="8" fill="#0000c5"/><rect x="350" y="206" width="8" height="8" fill="#0000a8"/><rect x="358" y="206" width="9" height="8" fill="#000097"/><rect x="367" y="206" width="17" height="8" fill="#000091"/><rect x="384" y="206" width="118" height="8" fill="#000097"/><rect x="502" y="206" width="59" height="8" fill="#00008b"/><rect x="561" y="206" width="9" height="8" fill="#000097"/><rect x="570" y="206" width="8" height="8" fill="#0000a2"/><rect x="578" y="206" width="9" height="8" fill="#0000b4"/><rect x="587" y="206" width="8" height="8" fill="#0000d1"/><rect x="595" y="206" width="9" height="8" fill="#0000e8"/><rect x="604" y="206" width="8" height="8" fill="#0000ff"/><rect x="612" y="206" width="8" height="8" fill="#000aff"/><rect x="620" y="206" width="9" height="8" fill="#002eff"/><rect x="629" y="206" width="8" height="8" fill="#004dff"/><rect x="637" y="206" width="9" height="8" fill="#0066ff"/><rect x="646" y="206" width="8" height="8" fill="#006bff"/><rect x="654" y="206" width="9" height="8" fill="#0075ff"/><rect x="663" y="206" width="8" height="8" fill="#0080ff"/><rect x="671" y="206" width="9" height="8" fill="#008fff"/><rect x="680" y="206" width="8" height="8" fill="#00a8ff"/><rect x="688" y="206" width="9" height="8" fill="#00d6ff"/><rect x="697" y="206" width="8" height="8" fill="#1dffda"/><rect x="705" y="206" width="8" height="8" fill="#56ffa0"/>
<rect x="105" y="214" width="8" height="8" fill="#7bff7b"/><rect x="113" y="214" width="8" height="8" fill="#ceff29"/><rect x="121" y="214" width="9" height="8" fill="#ffd900"/><rect x="130" y="214" width="8" height="8" fill="#ff9700"/><rect x="138" y="214" width="9" height="8" fill="#ff5500"/><rect x="147" y="214" width="8" height="8" fill="#ff2600"/><rect x="155" y="214" width="9" height="8" fill="#f30900"/><rect x="164" y="214" width="8" height="8" fill="#c50000"/><rect x="172" y="214" width="9" height="8" fill="#ae0000"/><rect x="181" y="214" width="8" height="8" fill="#a80000"/><rect x="189" y="214" width="9" height="8" fill="#ae0000"/><rect x="198" y="214" width="8" height="8" fill="#cb0000"/><rect x="206" y="214" width="8" height="8" fill="#ff1300"/><rect x="214" y="214" width="9" height="8" fill="#ff5500"/><rect x="223" y="214" width="8" height="8" fill="#ff8900"/><rect x="231" y="214" width="9" height="8" fill="#ffc200"/><rect x="240" y="214" width="8" height="8" fill="#efff08"/><rect x="248" y="214" width="9" height="8" fill="#c1ff35"/><rect x="257" y="214" width="8" height="8" fill="#adff4a"/><rect x="265" y="214" width="9" height="8" fill="#8cff6b"/><rect x="274" y="214" width="8" height="8" fill="#6bff8c"/><rect x="282" y="214" width="9" height="8" fill="#4effa9"/><rect x="291" y="214" width="8" height="8" fill="#1dffda"/><rect x="299" y="214" width="8" height="8" fill="#00c2ff"/><rect x="307" y="214" width="9" height="8" fill="#0061ff"/><rect x="316" y="214" width="8" height="8" fill="#0029ff"/><rect x="324" y="214" width="9" height="8" fill="#0000ff"/><rect x="333" y="214" width="8" height="8" fill="#0000f9"/><rect x="341" y="214" width="9" height="8" fill="#0000e8"/><rect x="350" y="214" width="8" height="8" fill="#0000e2"/><rect x="358" y="214" width="9" height="8" fill="#0000e8"/><rect x="367" y="214" width="8" height="8" fill="#0000f3"/><rect x="375" y="214" width="17" height="8" fill="#0000ff"/><rect x="392" y="214" width="9" height="8" fill="#0005ff"/><rect x="401" y="214" width="8" height="8" fill="#0000ff"/><rect x="409" y="214" width="8" height="8" fill="#0000f3"/><rect x="417" y="214" width="9" height="8" fill="#0000e8"/><rect x="426" y="214" width="8" height="8" fill="#0000d1"/><rect x="434" y="214" width="9" height="8" fill="#0000c5"/><rect x="443" y="214" width="8" height="8" fill="#0000b9"/><rect x="451" y="214" width="9" height="8" fill="#0000ae"/><rect x="460" y="214" width="8" height="8" fill="#0000a2"/><rect x="468" y="214" width="9" height="8" fill="#000097"/><rect x="477" y="214" width="33" height="8" fill="#00008b"/><rect x="510" y="214" width="60" height="8" fill="#000080"/><rect x="570" y="214" width="8" height="8" fill="#000097"/><rect x="578" y="214" width="9" height="8" fill="#0000ae"/><rect x="587" y="214" width="8" height="8" fill="#0000d1"/><rect x="595" y="214" width="9" height="8" fill="#0000e8"/><rect x="604" y="214" width="8" height="8" fill="#0000ff"/><rect x="612" y="214" width="8" height="8" fill="#000aff"/><rect x="620" y="214" width="9" height="8" fill="#0033ff"/><rect x="629" y="214" width="8" height="8" fill="#0052ff"/><rect x="637" y="214" width="9" height="8" fill="#0066ff"/><rect x="646" y="214" width="8" height="8" fill="#0070ff"/><rect x="654" y="214" width="9" height="8" fill="#0075ff"/><rect x="663" y="214" width="8" height="8" fill="#007aff"/><rect x="671" y="214" width="9" height="8" fill="#0085ff"/><rect x="680" y="214" width="8" height="8" fill="#009eff"/><rect x="688" y="214" width="9" height="8" fill="#00b8ff"/><rect x="697" y="214" width="8" height="8" fill="#00e5f7"/><rect x="705" y="214" width="8" height="8" fill="#31ffc5"/>
<rect x="105" y="222" width="8" height="9" fill="#21ffd6"/><rect x="113" y="222" width="8" height="9" fill="#4effa9"/><rect x="121" y="222" width="9" height="9" fill="#80ff77"/><rect x="130" y="222" width="8" height="9" fill="#a9ff4e"/><rect x="138" y="222" width="9" height="9" fill="#deff19"/><rect x="147" y="222" width="8" height="9" fill="#ffec00"/><rect x="155" y="222" width="9" height="9" fill="#ffbd00"/><rect x="164" y="222" width="8" height="9" fill="#ff8e00"/><rect x="172" y="222" width="9" height="9" fill="#ff4c00"/><rect x="181" y="222" width="8" height="9" fill="#f30900"/><rect x="189" y="222" width="9" height="9" fill="#a80000"/><rect x="198" y="222" width="8" height="9" fill="#8b0000"/><rect x="206" y="222" width="8" height="9" fill="#800000"/><rect x="214" y="222" width="9" height="9" fill="#8b0000"/><rect x="223" y="222" width="8" height="9" fill="#a20000"/><rect x="231" y="222" width="9" height="9" fill="#cb0000"/><rect x="240" y="222" width="8" height="9" fill="#ff2600"/><rect x="248" y="222" width="9" height="9" fill="#ff6800"/><rect x="257" y="222" width="8" height="9" fill="#ffa100"/><rect x="265" y="222" width="9" height="9" fill="#ffec00"/><rect x="274" y="222" width="8" height="9" fill="#bdff3a"/><rect x="282" y="222" width="9" height="9" fill="#8cff6b"/><rect x="291" y="222" width="8" height="9" fill="#56ffa0"/><rect x="299" y="222" width="8" height="9" fill="#21ffd6"/><rect x="307" y="222" width="9" height="9" fill="#0080ff"/><rect x="316" y="222" width="8" height="9" fill="#003dff"/><rect x="324" y="222" width="9" height="9" fill="#0014ff"/><rect x="333" y="222" width="17" height="9" fill="#0005ff"/><rect x="350" y="222" width="8" height="9" fill="#000fff"/><rect x="358" y="222" width="9" height="9" fill="#002eff"/><rect x="367" y="222" width="8" height="9" fill="#0057ff"/><rect x="375" y="222" width="9" height="9" fill="#0075ff"/><rect x="384" y="222" width="8" height="9" fill="#008aff"/><rect x="392" y="222" width="17" height="9" fill="#0094ff"/><rect x="409" y="222" width="8" height="9" fill="#008aff"/><rect x="417" y="222" width="9" height="9" fill="#0061ff"/><rect x="426" y="222" width="8" height="9" fill="#0024ff"/><rect x="434" y="222" width="9" height="9" fill="#0000f3"/><rect x="443" y="222" width="8" height="9" fill="#0000dc"/><rect x="451" y="222" width="9" height="9" fill="#0000c5"/><rect x="460" y="222" width="8" height="9" fill="#0000b9"/><rect x="468" y="222" width="9" height="9" fill="#0000a2"/><rect x="477" y="222" width="8" height="9" fill="#000097"/><rect x="485" y="222" width="85" height="9" fill="#000080"/><rect x="570" y="222" width="8" height="9" fill="#00008b"/><rect x="578" y="222" width="9" height="9" fill="#0000a2"/><rect x="587" y="222" width="8" height="9" fill="#0000c5"/><rect x="595" y="222" width="9" height="9" fill="#0000e2"/><rect x="604" y="222" width="8" height="9" fill="#0000ff"/><rect x="612" y="222" width="8" height="9" fill="#000aff"/><rect x="620" y="222" width="9" height="9" fill="#0038ff"/><rect x="629" y="222" width="8" height="9" fill="#0057ff"/><rect x="637" y="222" width="9" height="9" fill="#006bff"/><rect x="646" y="222" width="8" height="9" fill="#0075ff"/><rect x="654" y="222" width="9" height="9" fill="#007aff"/><rect x="663" y="222" width="8" height="9" fill="#0080ff"/><rect x="671" y="222" width="9" height="9" fill="#008aff"/><rect x="680" y="222" width="8" height="9" fill="#0099ff"/><rect x="688" y="222" width="9" height="9" fill="#00a8ff"/><rect x="697" y="222" width="8" height="9" fill="#00bdff"/><rect x="705" y="222" width="8" height="9" fill="#00e0fb"/>
<rect x="105" y="231" width="8" height="8" fill="#08f0ef"/><rect x="113" y="231" width="8" height="8" fill="#19ffde"/><rect x="121" y="231" width="17" height="8" fill="#29ffce"/><rect x="138" y="231" width="17" height="8" fill="#31ffc5"/><rect x="155" y="231" width="9" height="8" fill="#42ffb5"/><rect x="164" y="231" width="8" height="8" fill="#63ff94"/><rect x="172" y="231" width="9" height="8" fill="#94ff63"/><rect x="181" y="231" width="8" height="8" fill="#d6ff21"/><rect x="189" y="231" width="9" height="8" fill="#ffd900"/><rect x="198" y="231" width="8" height="8" fill="#ff8400"/><rect x="206" y="231" width="8" height="8" fill="#ff3400"/><rect x="214" y="231" width="9" height="8" fill="#d10000"/><rect x="223" y="231" width="8" height="8" fill="#9c0000"/><rect x="231" y="231" width="9" height="8" fill="#8b0000"/><rect x="240" y="231" width="8" height="8" fill="#800000"/><rect x="248" y="231" width="9" height="8" fill="#970000"/><rect x="257" y="231" width="8" height="8" fill="#c50000"/><rect x="265" y="231" width="9" height="8" fill="#ff1c00"/><rect x="274" y="231" width="8" height="8" fill="#ff9700"/><rect x="282" y="231" width="9" height="8" fill="#efff08"/><rect x="291" y="231" width="8" height="8" fill="#a5ff52"/><rect x="299" y="231" width="8" height="8" fill="#52ffa5"/><rect x="307" y="231" width="9" height="8" fill="#00b2ff"/><rect x="316" y="231" width="8" height="8" fill="#0075ff"/><rect x="324" y="231" width="9" height="8" fill="#0042ff"/><rect x="333" y="231" width="8" height="8" fill="#002eff"/><rect x="341" y="231" width="9" height="8" fill="#0038ff"/><rect x="350" y="231" width="8" height="8" fill="#0057ff"/><rect x="358" y="231" width="9" height="8" fill="#0080ff"/><rect x="367" y="231" width="17" height="8" fill="#0094ff"/><rect x="384" y="231" width="8" height="8" fill="#0080ff"/><rect x="392" y="231" width="9" height="8" fill="#006bff"/><rect x="401" y="231" width="8" height="8" fill="#0057ff"/><rect x="409" y="231" width="8" height="8" fill="#0038ff"/><rect x="417" y="231" width="9" height="8" fill="#000fff"/><rect x="426" y="231" width="8" height="8" fill="#0000f3"/><rect x="434" y="231" width="9" height="8" fill="#0000dc"/><rect x="443" y="231" width="8" height="8" fill="#0000c5"/><rect x="451" y="231" width="9" height="8" fill="#0000b9"/><rect x="460" y="231" width="8" height="8" fill="#0000ae"/><rect x="468" y="231" width="9" height="8" fill="#0000a2"/><rect x="477" y="231" width="8" height="8" fill="#000097"/><rect x="485" y="231" width="93" height="8" fill="#000080"/><rect x="578" y="231" width="9" height="8" fill="#0000a2"/><rect x="587" y="231" width="8" height="8" fill="#0000bf"/><rect x="595" y="231" width="9" height="8" fill="#0000dc"/><rect x="604" y="231" width="8" height="8" fill="#0000ff"/><rect x="612" y="231" width="8" height="8" fill="#000fff"/><rect x="620" y="231" width="9" height="8" fill="#0042ff"/><rect x="629" y="231" width="8" height="8" fill="#0066ff"/><rect x="637" y="231" width="9" height="8" fill="#0080ff"/><rect x="646" y="231" width="8" height="8" fill="#008aff"/><rect x="654" y="231" width="9" height="8" fill="#008fff"/><rect x="663" y="231" width="8" height="8" fill="#0094ff"/><rect x="671" y="231" width="9" height="8" fill="#0099ff"/><rect x="680" y="231" width="8" height="8" fill="#00a3ff"/><rect x="688" y="231" width="9" height="8" fill="#00b2ff"/><rect x="697" y="231" width="8" height="8" fill="#00c2ff"/><rect x="705" y="231" width="8" height="8" fill="#00e0fb"/>
<rect x="105" y="239" width="16" height="9" fill="#19ffde"/><rect x="121" y="239" width="9" height="9" fill="#10fae6"/><rect x="130" y="239" width="8" height="9" fill="#08f0ef"/><rect x="138" y="239" width="34" height="9" fill="#00d1ff"/><rect x="172" y="239" width="9" height="9" fill="#00e5f7"/><rect x="181" y="239" width="8" height="9" fill="#19ffde"/><rect x="189" y="239" width="9" height="9" fill="#3affbd"/><rect x="198" y="239" width="8" height="9" fill="#63ff94"/><rect x="206" y="239" width="8" height="9" fill="#8cff6b"/><rect x="214" y="239" width="9" height="9" fill="#caff2d"/><rect x="223" y="239" width="8" height="9" fill="#ffd900"/><rect x="231" y="239" width="9" height="9" fill="#ff8000"/><rect x="240" y="239" width="8" height="9" fill="#ff2b00"/><rect x="248" y="239" width="17" height="9" fill="#c50000"/><rect x="265" y="239" width="9" height="9" fill="#dc0000"/><rect x="274" y="239" width="8" height="9" fill="#ff3900"/><rect x="282" y="239" width="9" height="9" fill="#ffb300"/><rect x="291" y="239" width="8" height="9" fill="#ceff29"/><rect x="299" y="239" width="8" height="9" fill="#42ffb5"/><rect x="307" y="239" width="9" height="9" fill="#00d1ff"/><rect x="316" y="239" width="8" height="9" fill="#009eff"/><rect x="324" y="239" width="9" height="9" fill="#0061ff"/><rect x="333" y="239" width="34" height="9" fill="#004dff"/><rect x="367" y="239" width="8" height="9" fill="#0038ff"/><rect x="375" y="239" width="9" height="9" fill="#0019ff"/><rect x="384" y="239" width="8" height="9" fill="#0005ff"/><rect x="392" y="239" width="9" height="9" fill="#0000ff"/><rect x="401" y="239" width="8" height="9" fill="#0000e8"/><rect x="409" y="239" width="8" height="9" fill="#0000d1"/><rect x="417" y="239" width="9" height="9" fill="#0000b9"/><rect x="426" y="239" width="8" height="9" fill="#0000ae"/><rect x="434" y="239" width="51" height="9" fill="#000097"/><rect x="485" y="239" width="93" height="9" fill="#000080"/><rect x="578" y="239" width="9" height="9" fill="#0000a2"/><rect x="587" y="239" width="8" height="9" fill="#0000b9"/><rect x="595" y="239" width="9" height="9" fill="#0000dc"/><rect x="604" y="239" width="8" height="9" fill="#0000ff"/><rect x="612" y="239" width="8" height="9" fill="#0019ff"/><rect x="620" y="239" width="9" height="9" fill="#005cff"/><rect x="629" y="239" width="8" height="9" fill="#008aff"/><rect x="637" y="239" width="9" height="9" fill="#00a3ff"/><rect x="646" y="239" width="8" height="9" fill="#00a8ff"/><rect x="654" y="239" width="9" height="9" fill="#00b2ff"/><rect x="663" y="239" width="8" height="9" fill="#00b8ff"/><rect x="671" y="239" width="9" height="9" fill="#00c2ff"/><rect x="680" y="239" width="8" height="9" fill="#00d1ff"/><rect x="688" y="239" width="9" height="9" fill="#00e0fb"/><rect x="697" y="239" width="8" height="9" fill="#08f0ef"/><rect x="705" y="239" width="8" height="9" fill="#15ffe2"/>
<rect x="105" y="248" width="8" height="8" fill="#63ff94"/><rect x="113" y="248" width="8" height="8" fill="#5fff98"/><rect x="121" y="248" width="9" height="8" fill="#5aff9c"/><rect x="130" y="248" width="8" height="8" fill="#4effa9"/><rect x="138" y="248" width="9" height="8" fill="#42ffb5"/><rect x="147" y="248" width="8" height="8" fill="#3affbd"/><rect x="155" y="248" width="9" height="8" fill="#31ffc5"/><rect x="164" y="248" width="8" height="8" fill="#2dffca"/><rect x="172" y="248" width="17" height="8" fill="#29ffce"/><rect x="189" y="248" width="9" height="8" fill="#31ffc5"/><rect x="198" y="248" width="8" height="8" fill="#42ffb5"/><rect x="206" y="248" width="8" height="8" fill="#52ffa5"/><rect x="214" y="248" width="9" height="8" fill="#5aff9c"/><rect x="223" y="248" width="8" height="8" fill="#67ff90"/><rect x="231" y="248" width="9" height="8" fill="#8cff6b"/><rect x="240" y="248" width="8" height="8" fill="#adff4a"/><rect x="248" y="248" width="9" height="8" fill="#deff19"/><rect x="257" y="248" width="8" height="8" fill="#ffc600"/><rect x="265" y="248" width="9" height="8" fill="#ffb300"/><rect x="274" y="248" width="8" height="8" fill="#ffc600"/><rect x="282" y="248" width="9" height="8" fill="#deff19"/><rect x="291" y="248" width="8" height="8" fill="#8cff6b"/><rect x="299" y="248" width="8" height="8" fill="#29ffce"/><rect x="307" y="248" width="9" height="8" fill="#00b2ff"/><rect x="316" y="248" width="8" height="8" fill="#008aff"/><rect x="324" y="248" width="9" height="8" fill="#0061ff"/><rect x="333" y="248" width="8" height="8" fill="#004dff"/><rect x="341" y="248" width="9" height="8" fill="#003dff"/><rect x="350" y="248" width="8" height="8" fill="#0019ff"/><rect x="358" y="248" width="9" height="8" fill="#0000ff"/><rect x="367" y="248" width="8" height="8" fill="#0000dc"/><rect x="375" y="248" width="9" height="8" fill="#0000bf"/><rect x="384" y="248" width="8" height="8" fill="#0000ae"/><rect x="392" y="248" width="9" height="8" fill="#0000a2"/><rect x="401" y="248" width="8" height="8" fill="#00009c"/><rect x="409" y="248" width="8" height="8" fill="#0000a2"/><rect x="417" y="248" width="9" height="8" fill="#000097"/><rect x="426" y="248" width="59" height="8" fill="#00008b"/><rect x="485" y="248" width="93" height="8" fill="#000080"/><rect x="578" y="248" width="9" height="8" fill="#00009c"/><rect x="587" y="248" width="8" height="8" fill="#0000b4"/><rect x="595" y="248" width="9" height="8" fill="#0000d6"/><rect x="604" y="248" width="8" height="8" fill="#0000f9"/><rect x="612" y="248" width="8" height="8" fill="#001fff"/><rect x="620" y="248" width="9" height="8" fill="#006bff"/><rect x="629" y="248" width="8" height="8" fill="#009eff"/><rect x="637" y="248" width="9" height="8" fill="#00b2ff"/><rect x="646" y="248" width="8" height="8" fill="#00c2ff"/><rect x="654" y="248" width="9" height="8" fill="#00c7ff"/><rect x="663" y="248" width="8" height="8" fill="#00d6ff"/><rect x="671" y="248" width="9" height="8" fill="#10fae6"/><rect x="680" y="248" width="8" height="8" fill="#21ffd6"/><rect x="688" y="248" width="9" height="8" fill="#31ffc5"/><rect x="697" y="248" width="8" height="8" fill="#42ffb5"/><rect x="705" y="248" width="8" height="8" fill="#56ffa0"/>
<rect x="105" y="256" width="8" height="9" fill="#5aff9c"/><rect x="113" y="256" width="34" height="9" fill="#63ff94"/><rect x="147" y="256" width="8" height="9" fill="#6bff8c"/><rect x="155" y="256" width="9" height="9" fill="#73ff84"/><rect x="164" y="256" width="8" height="9" fill="#8cff6b"/><rect x="172" y="256" width="9" height="9" fill="#adff4a"/><rect x="181" y="256" width="8" height="9" fill="#ceff29"/><rect x="189" y="256" width="9" height="9" fill="#efff08"/><rect x="198" y="256" width="16" height="9" fill="#ffe300"/><rect x="214" y="256" width="9" height="9" fill="#f7f600"/><rect x="223" y="256" width="8" height="9" fill="#deff19"/><rect x="231" y="256" width="9" height="9" fill="#c5ff31"/><rect x="240" y="256" width="8" height="9" fill="#a5ff52"/><rect x="248" y="256" width="9" height="9" fill="#94ff63"/><rect x="257" y="256" width="8" height="9" fill="#8cff6b"/><rect x="265" y="256" width="9" height="9" fill="#7bff7b"/><rect x="274" y="256" width="8" height="9" fill="#6bff8c"/><rect x="282" y="256" width="9" height="9" fill="#4affad"/><rect x="291" y="256" width="8" height="9" fill="#19ffde"/><rect x="299" y="256" width="8" height="9" fill="#00d1ff"/><rect x="307" y="256" width="9" height="9" fill="#008aff"/><rect x="316" y="256" width="8" height="9" fill="#0080ff"/><rect x="324" y="256" width="9" height="9" fill="#0075ff"/><rect x="333" y="256" width="8" height="9" fill="#0061ff"/><rect x="341" y="256" width="9" height="9" fill="#0024ff"/><rect x="350" y="256" width="8" height="9" fill="#0000e8"/><rect x="358" y="256" width="9" height="9" fill="#0000c5"/><rect x="367" y="256" width="8" height="9" fill="#0000ae"/><rect x="375" y="256" width="34" height="9" fill="#0000a2"/><rect x="409" y="256" width="51" height="9" fill="#000097"/><rect x="460" y="256" width="8" height="9" fill="#000091"/><rect x="468" y="256" width="102" height="9" fill="#00008b"/><rect x="570" y="256" width="8" height="9" fill="#000097"/><rect x="578" y="256" width="9" height="9" fill="#0000a2"/><rect x="587" y="256" width="8" height="9" fill="#0000b9"/><rect x="595" y="256" width="9" height="9" fill="#0000dc"/><rect x="604" y="256" width="8" height="9" fill="#0000ff"/><rect x="612" y="256" width="8" height="9" fill="#000fff"/><rect x="620" y="256" width="9" height="9" fill="#004dff"/><rect x="629" y="256" width="8" height="9" fill="#0080ff"/><rect x="637" y="256" width="9" height="9" fill="#0099ff"/><rect x="646" y="256" width="8" height="9" fill="#00a8ff"/><rect x="654" y="256" width="9" height="9" fill="#00b8ff"/><rect x="663" y="256" width="8" height="9" fill="#00ccff"/><rect x="671" y="256" width="9" height="9" fill="#00e0fb"/><rect x="680" y="256" width="8" height="9" fill="#10fae6"/><rect x="688" y="256" width="9" height="9" fill="#21ffd6"/><rect x="697" y="256" width="8" height="9" fill="#35ffc1"/><rect x="705" y="256" width="8" height="9" fill="#4effa9"/>
<rect x="105" y="265" width="25" height="8" fill="#21ffd6"/><rect x="130" y="265" width="8" height="8" fill="#19ffde"/><rect x="138" y="265" width="9" height="8" fill="#08f0ef"/><rect x="147" y="265" width="8" height="8" fill="#00e5f7"/><rect x="155" y="265" width="9" height="8" fill="#08f0ef"/><rect x="164" y="265" width="8" height="8" fill="#29ffce"/><rect x="172" y="265" width="9" height="8" fill="#6bff8c"/><rect x="181" y="265" width="8" height="8" fill="#adff4a"/><rect x="189" y="265" width="9" height="8" fill="#efff08"/><rect x="198" y="265" width="8" height="8" fill="#ffaa00"/><rect x="206" y="265" width="8" height="8" fill="#ff6800"/><rect x="214" y="265" width="9" height="8" fill="#ff1c00"/><rect x="223" y="265" width="17" height="8" fill="#d10000"/><rect x="240" y="265" width="8" height="8" fill="#ff1300"/><rect x="248" y="265" width="9" height="8" fill="#ff6800"/><rect x="257" y="265" width="8" height="8" fill="#ffbd00"/><rect x="265" y="265" width="9" height="8" fill="#deff19"/><rect x="274" y="265" width="8" height="8" fill="#a5ff52"/><rect x="282" y="265" width="9" height="8" fill="#6bff8c"/><rect x="291" y="265" width="8" height="8" fill="#19ffde"/><rect x="299" y="265" width="8" height="8" fill="#00c7ff"/><rect x="307" y="265" width="9" height="8" fill="#00d1ff"/><rect x="316" y="265" width="8" height="8" fill="#00a8ff"/><rect x="324" y="265" width="9" height="8" fill="#0080ff"/><rect x="333" y="265" width="8" height="8" fill="#002eff"/><rect x="341" y="265" width="9" height="8" fill="#0000f3"/><rect x="350" y="265" width="8" height="8" fill="#0000b4"/><rect x="358" y="265" width="9" height="8" fill="#00009c"/><rect x="367" y="265" width="17" height="8" fill="#000097"/><rect x="384" y="265" width="8" height="8" fill="#00009c"/><rect x="392" y="265" width="9" height="8" fill="#0000a2"/><rect x="401" y="265" width="8" height="8" fill="#0000a8"/><rect x="409" y="265" width="51" height="8" fill="#0000a2"/><rect x="460" y="265" width="50" height="8" fill="#000097"/><rect x="510" y="265" width="17" height="8" fill="#0000a2"/><rect x="527" y="265" width="43" height="8" fill="#000097"/><rect x="570" y="265" width="8" height="8" fill="#0000a2"/><rect x="578" y="265" width="9" height="8" fill="#0000ae"/><rect x="587" y="265" width="8" height="8" fill="#0000c5"/><rect x="595" y="265" width="9" height="8" fill="#0000e8"/><rect x="604" y="265" width="8" height="8" fill="#0000ff"/><rect x="612" y="265" width="8" height="8" fill="#000fff"/><rect x="620" y="265" width="9" height="8" fill="#0038ff"/><rect x="629" y="265" width="8" height="8" fill="#0057ff"/><rect x="637" y="265" width="9" height="8" fill="#0085ff"/><rect x="646" y="265" width="8" height="8" fill="#008fff"/><rect x="654" y="265" width="9" height="8" fill="#009eff"/><rect x="663" y="265" width="8" height="8" fill="#00a8ff"/><rect x="671" y="265" width="9" height="8" fill="#00b8ff"/><rect x="680" y="265" width="8" height="8" fill="#00c7ff"/><rect x="688" y="265" width="9" height="8" fill="#00d6ff"/><rect x="697" y="265" width="8" height="8" fill="#00e5f7"/><rect x="705" y="265" width="8" height="8" fill="#10fae6"/>
<rect x="105" y="273" width="8" height="9" fill="#00b2ff"/><rect x="113" y="273" width="8" height="9" fill="#00a8ff"/><rect x="121" y="273" width="9" height="9" fill="#009eff"/><rect x="130" y="273" width="8" height="9" fill="#008aff"/><rect x="138" y="273" width="9" height="9" fill="#0075ff"/><rect x="147" y="273" width="17" height="9" fill="#006bff"/><rect x="164" y="273" width="8" height="9" fill="#0080ff"/><rect x="172" y="273" width="9" height="9" fill="#00a8ff"/><rect x="181" y="273" width="8" height="9" fill="#00dbff"/><rect x="189" y="273" width="9" height="9" fill="#21ffd6"/><rect x="198" y="273" width="8" height="9" fill="#63ff94"/><rect x="206" y="273" width="8" height="9" fill="#b5ff42"/><rect x="214" y="273" width="9" height="9" fill="#efff08"/><rect x="223" y="273" width="8" height="9" fill="#ffb300"/><rect x="231" y="273" width="9" height="9" fill="#ff7b00"/><rect x="240" y="273" width="8" height="9" fill="#ff5500"/><rect x="248" y="273" width="9" height="9" fill="#ff3900"/><rect x="257" y="273" width="8" height="9" fill="#ff4200"/><rect x="265" y="273" width="9" height="9" fill="#ff7b00"/><rect x="274" y="273" width="8" height="9" fill="#ffc600"/><rect x="282" y="273" width="9" height="9" fill="#ceff29"/><rect x="291" y="273" width="8" height="9" fill="#6bff8c"/><rect x="299" y="273" width="8" height="9" fill="#29ffce"/><rect x="307" y="273" width="9" height="9" fill="#00bdff"/><rect x="316" y="273" width="8" height="9" fill="#006bff"/><rect x="324" y="273" width="9" height="9" fill="#0005ff"/><rect x="333" y="273" width="8" height="9" fill="#0000dc"/><rect x="341" y="273" width="9" height="9" fill="#0000ae"/><rect x="350" y="273" width="8" height="9" fill="#000097"/><rect x="358" y="273" width="17" height="9" fill="#00008b"/><rect x="375" y="273" width="9" height="9" fill="#000097"/><rect x="384" y="273" width="8" height="9" fill="#0000a2"/><rect x="392" y="273" width="9" height="9" fill="#0000a8"/><rect x="401" y="273" width="8" height="9" fill="#0000b4"/><rect x="409" y="273" width="178" height="9" fill="#0000b9"/><rect x="587" y="273" width="8" height="9" fill="#0000d1"/><rect x="595" y="273" width="9" height="9" fill="#0000f3"/><rect x="604" y="273" width="8" height="9" fill="#0000ff"/><rect x="612" y="273" width="8" height="9" fill="#0005ff"/><rect x="620" y="273" width="9" height="9" fill="#0024ff"/><rect x="629" y="273" width="8" height="9" fill="#0038ff"/><rect x="637" y="273" width="9" height="9" fill="#0061ff"/><rect x="646" y="273" width="8" height="9" fill="#0066ff"/><rect x="654" y="273" width="9" height="9" fill="#0070ff"/><rect x="663" y="273" width="8" height="9" fill="#007aff"/><rect x="671" y="273" width="9" height="9" fill="#0085ff"/><rect x="680" y="273" width="8" height="9" fill="#008fff"/><rect x="688" y="273" width="9" height="9" fill="#0099ff"/><rect x="697" y="273" width="8" height="9" fill="#00a3ff"/><rect x="705" y="273" width="8" height="9" fill="#00a8ff"/>
<rect x="105" y="282" width="8" height="8" fill="#0080ff"/><rect x="113" y="282" width="8" height="8" fill="#0075ff"/><rect x="121" y="282" width="9" height="8" fill="#006bff"/><rect x="130" y="282" width="8" height="8" fill="#0057ff"/><rect x="138" y="282" width="9" height="8" fill="#0042ff"/><rect x="147" y="282" width="8" height="8" fill="#0038ff"/><rect x="155" y="282" width="17" height="8" fill="#002eff"/><rect x="172" y="282" width="9" height="8" fill="#0038ff"/><rect x="181" y="282" width="8" height="8" fill="#004dff"/><rect x="189" y="282" width="9" height="8" fill="#006bff"/><rect x="198" y="282" width="8" height="8" fill="#008aff"/><rect x="206" y="282" width="8" height="8" fill="#00b2ff"/><rect x="214" y="282" width="9" height="8" fill="#00e5f7"/><rect x="223" y="282" width="8" height="8" fill="#31ffc5"/><rect x="231" y="282" width="9" height="8" fill="#4affad"/><rect x="240" y="282" width="8" height="8" fill="#63ff94"/><rect x="248" y="282" width="9" height="8" fill="#8cff6b"/><rect x="257" y="282" width="8" height="8" fill="#b5ff42"/><rect x="265" y="282" width="9" height="8" fill="#c5ff31"/><rect x="274" y="282" width="8" height="8" fill="#b5ff42"/><rect x="282" y="282" width="9" height="8" fill="#7bff7b"/><rect x="291" y="282" width="8" height="8" fill="#00e5f7"/><rect x="299" y="282" width="8" height="8" fill="#0094ff"/><rect x="307" y="282" width="9" height="8" fill="#004dff"/><rect x="316" y="282" width="8" height="8" fill="#0000ff"/><rect x="324" y="282" width="9" height="8" fill="#0000d1"/><rect x="333" y="282" width="8" height="8" fill="#00009c"/><rect x="341" y="282" width="9" height="8" fill="#00008b"/><rect x="350" y="282" width="17" height="8" fill="#000085"/><rect x="367" y="282" width="8" height="8" fill="#00008b"/><rect x="375" y="282" width="9" height="8" fill="#00009c"/><rect x="384" y="282" width="8" height="8" fill="#0000a8"/><rect x="392" y="282" width="9" height="8" fill="#0000b4"/><rect x="401" y="282" width="8" height="8" fill="#0000b9"/><rect x="409" y="282" width="178" height="8" fill="#0000c5"/><rect x="587" y="282" width="8" height="8" fill="#0000dc"/><rect x="595" y="282" width="9" height="8" fill="#0000f3"/><rect x="604" y="282" width="8" height="8" fill="#0000ff"/><rect x="612" y="282" width="8" height="8" fill="#0005ff"/><rect x="620" y="282" width="9" height="8" fill="#000fff"/><rect x="629" y="282" width="8" height="8" fill="#0019ff"/><rect x="637" y="282" width="9" height="8" fill="#0033ff"/><rect x="646" y="282" width="8" height="8" fill="#0038ff"/><rect x="654" y="282" width="9" height="8" fill="#0042ff"/><rect x="663" y="282" width="8" height="8" fill="#0047ff"/><rect x="671" y="282" width="9" height="8" fill="#004dff"/><rect x="680" y="282" width="8" height="8" fill="#0057ff"/><rect x="688" y="282" width="9" height="8" fill="#005cff"/><rect x="697" y="282" width="8" height="8" fill="#0066ff"/><rect x="705" y="282" width="8" height="8" fill="#006bff"/>
<rect x="105" y="290" width="16" height="9" fill="#0057ff"/><rect x="121" y="290" width="9" height="9" fill="#004dff"/><rect x="130" y="290" width="8" height="9" fill="#0042ff"/><rect x="138" y="290" width="9" height="9" fill="#002eff"/><rect x="147" y="290" width="25" height="9" fill="#0024ff"/><rect x="172" y="290" width="9" height="9" fill="#002eff"/><rect x="181" y="290" width="8" height="9" fill="#0038ff"/><rect x="189" y="290" width="9" height="9" fill="#0042ff"/><rect x="198" y="290" width="8" height="9" fill="#004dff"/><rect x="206" y="290" width="25" height="9" fill="#0057ff"/><rect x="231" y="290" width="34" height="9" fill="#004dff"/><rect x="265" y="290" width="9" height="9" fill="#0042ff"/><rect x="274" y="290" width="8" height="9" fill="#0038ff"/><rect x="282" y="290" width="9" height="9" fill="#002eff"/><rect x="291" y="290" width="8" height="9" fill="#0005ff"/><rect x="299" y="290" width="8" height="9" fill="#0000ff"/><rect x="307" y="290" width="9" height="9" fill="#0000e8"/><rect x="316" y="290" width="8" height="9" fill="#0000c5"/><rect x="324" y="290" width="9" height="9" fill="#000097"/><rect x="333" y="290" width="8" height="9" fill="#000085"/><rect x="341" y="290" width="17" height="9" fill="#000083"/><rect x="358" y="290" width="9" height="9" fill="#000085"/><rect x="367" y="290" width="8" height="9" fill="#000091"/><rect x="375" y="290" width="9" height="9" fill="#0000a8"/><rect x="384" y="290" width="8" height="9" fill="#0000b4"/><rect x="392" y="290" width="9" height="9" fill="#0000bf"/><rect x="401" y="290" width="186" height="9" fill="#0000c5"/><rect x="587" y="290" width="8" height="9" fill="#0000dc"/><rect x="595" y="290" width="9" height="9" fill="#0000f3"/><rect x="604" y="290" width="16" height="9" fill="#0000ff"/><rect x="620" y="290" width="17" height="9" fill="#0005ff"/><rect x="637" y="290" width="17" height="9" fill="#000fff"/><rect x="654" y="290" width="17" height="9" fill="#0019ff"/><rect x="671" y="290" width="17" height="9" fill="#0024ff"/><rect x="688" y="290" width="17" height="9" fill="#002eff"/><rect x="705" y="290" width="8" height="9" fill="#0038ff"/>
<rect x="105" y="299" width="33" height="8" fill="#0038ff"/><rect x="138" y="299" width="26" height="8" fill="#002eff"/><rect x="164" y="299" width="8" height="8" fill="#003dff"/><rect x="172" y="299" width="9" height="8" fill="#0042ff"/><rect x="181" y="299" width="8" height="8" fill="#0047ff"/><rect x="189" y="299" width="9" height="8" fill="#004dff"/><rect x="198" y="299" width="16" height="8" fill="#0052ff"/><rect x="214" y="299" width="9" height="8" fill="#004dff"/><rect x="223" y="299" width="8" height="8" fill="#0047ff"/><rect x="231" y="299" width="9" height="8" fill="#003dff"/><rect x="240" y="299" width="8" height="8" fill="#002eff"/><rect x="248" y="299" width="9" height="8" fill="#0019ff"/><rect x="257" y="299" width="8" height="8" fill="#000aff"/><rect x="265" y="299" width="17" height="8" fill="#0000ff"/><rect x="282" y="299" width="9" height="8" fill="#0000ee"/><rect x="291" y="299" width="8" height="8" fill="#0000d1"/><rect x="299" y="299" width="8" height="8" fill="#0000c5"/><rect x="307" y="299" width="9" height="8" fill="#0000b9"/><rect x="316" y="299" width="8" height="8" fill="#0000a2"/><rect x="324" y="299" width="34" height="8" fill="#00008b"/><rect x="358" y="299" width="9" height="8" fill="#000097"/><rect x="367" y="299" width="8" height="8" fill="#0000a2"/><rect x="375" y="299" width="9" height="8" fill="#0000b9"/><rect x="384" y="299" width="8" height="8" fill="#0000c5"/><rect x="392" y="299" width="25" height="8" fill="#0000d1"/><rect x="417" y="299" width="9" height="8" fill="#0000d0"/><rect x="426" y="299" width="17" height="8" fill="#0000cf"/><rect x="443" y="299" width="17" height="8" fill="#0000ce"/><rect x="460" y="299" width="17" height="8" fill="#0000cd"/><rect x="477" y="299" width="8" height="8" fill="#0000cc"/><rect x="485" y="299" width="17" height="8" fill="#0000cb"/><rect x="502" y="299" width="17" height="8" fill="#0000ca"/><rect x="519" y="299" width="17" height="8" fill="#0000c9"/><rect x="536" y="299" width="8" height="8" fill="#0000c8"/><rect x="544" y="299" width="17" height="8" fill="#0000c7"/><rect x="561" y="299" width="17" height="8" fill="#0000c6"/><rect x="578" y="299" width="9" height="8" fill="#0000c5"/><rect x="587" y="299" width="8" height="8" fill="#0000dc"/><rect x="595" y="299" width="9" height="8" fill="#0000f3"/><rect x="604" y="299" width="50" height="8" fill="#0000ff"/><rect x="654" y="299" width="9" height="8" fill="#0005ff"/><rect x="663" y="299" width="8" height="8" fill="#0014ff"/><rect x="671" y="299" width="9" height="8" fill="#0019ff"/><rect x="680" y="299" width="8" height="8" fill="#001fff"/><rect x="688" y="299" width="9" height="8" fill="#0024ff"/><rect x="697" y="299" width="8" height="8" fill="#0029ff"/><rect x="705" y="299" width="8" height="8" fill="#002eff"/>
<rect x="105" y="307" width="8" height="9" fill="#0024ff"/><rect x="113" y="307" width="17" height="9" fill="#002eff"/><rect x="130" y="307" width="17" height="9" fill="#0038ff"/><rect x="147" y="307" width="8" height="9" fill="#0042ff"/><rect x="155" y="307" width="17" height="9" fill="#004dff"/><rect x="172" y="307" width="9" height="9" fill="#0057ff"/><rect x="181" y="307" width="8" height="9" fill="#0061ff"/><rect x="189" y="307" width="9" height="9" fill="#006bff"/><rect x="198" y="307" width="25" height="9" fill="#0070ff"/><rect x="223" y="307" width="8" height="9" fill="#0066ff"/><rect x="231" y="307" width="9" height="9" fill="#005cff"/><rect x="240" y="307" width="8" height="9" fill="#0047ff"/><rect x="248" y="307" width="9" height="9" fill="#002eff"/><rect x="257" y="307" width="8" height="9" fill="#0014ff"/><rect x="265" y="307" width="9" height="9" fill="#0005ff"/><rect x="274" y="307" width="8" height="9" fill="#0000ff"/><rect x="282" y="307" width="9" height="9" fill="#0000e8"/><rect x="291" y="307" width="8" height="9" fill="#0000b9"/><rect x="299" y="307" width="8" height="9" fill="#0000ae"/><rect x="307" y="307" width="9" height="9" fill="#0000a2"/><rect x="316" y="307" width="42" height="9" fill="#000097"/><rect x="358" y="307" width="9" height="9" fill="#0000a2"/><rect x="367" y="307" width="8" height="9" fill="#0000ae"/><rect x="375" y="307" width="9" height="9" fill="#0000b9"/><rect x="384" y="307" width="8" height="9" fill="#0000c5"/><rect x="392" y="307" width="9" height="9" fill="#0000d1"/><rect x="401" y="307" width="8" height="9" fill="#0000dc"/><rect x="409" y="307" width="8" height="9" fill="#0000d1"/><rect x="417" y="307" width="9" height="9" fill="#0000d0"/><rect x="426" y="307" width="17" height="9" fill="#0000cf"/><rect x="443" y="307" width="17" height="9" fill="#0000ce"/><rect x="460" y="307" width="17" height="9" fill="#0000cd"/><rect x="477" y="307" width="8" height="9" fill="#0000cc"/><rect x="485" y="307" width="17" height="9" fill="#0000cb"/><rect x="502" y="307" width="17" height="9" fill="#0000ca"/><rect x="519" y="307" width="17" height="9" fill="#0000c9"/><rect x="536" y="307" width="8" height="9" fill="#0000c8"/><rect x="544" y="307" width="17" height="9" fill="#0000c7"/><rect x="561" y="307" width="17" height="9" fill="#0000c6"/><rect x="578" y="307" width="9" height="9" fill="#0000c5"/><rect x="587" y="307" width="8" height="9" fill="#0000dc"/><rect x="595" y="307" width="9" height="9" fill="#0000f3"/><rect x="604" y="307" width="25" height="9" fill="#0000ff"/><rect x="629" y="307" width="17" height="9" fill="#0005ff"/><rect x="646" y="307" width="17" height="9" fill="#000aff"/><rect x="663" y="307" width="8" height="9" fill="#000fff"/><rect x="671" y="307" width="9" height="9" fill="#0014ff"/><rect x="680" y="307" width="8" height="9" fill="#0019ff"/><rect x="688" y="307" width="9" height="9" fill="#001fff"/><rect x="697" y="307" width="8" height="9" fill="#0024ff"/><rect x="705" y="307" width="8" height="9" fill="#0029ff"/>
<rect x="105" y="316" width="8" height="8" fill="#0024ff"/><rect x="113" y="316" width="8" height="8" fill="#002eff"/><rect x="121" y="316" width="9" height="8" fill="#0038ff"/><rect x="130" y="316" width="8" height="8" fill="#0042ff"/><rect x="138" y="316" width="9" height="8" fill="#004dff"/><rect x="147" y="316" width="8" height="8" fill="#0057ff"/><rect x="155" y="316" width="17" height="8" fill="#0061ff"/><rect x="172" y="316" width="9" height="8" fill="#0070ff"/><rect x="181" y="316" width="8" height="8" fill="#007aff"/><rect x="189" y="316" width="9" height="8" fill="#0085ff"/><rect x="198" y="316" width="8" height="8" fill="#008aff"/><rect x="206" y="316" width="8" height="8" fill="#008fff"/><rect x="214" y="316" width="9" height="8" fill="#008aff"/><rect x="223" y="316" width="8" height="8" fill="#0085ff"/><rect x="231" y="316" width="9" height="8" fill="#0075ff"/><rect x="240" y="316" width="8" height="8" fill="#0061ff"/><rect x="248" y="316" width="9" height="8" fill="#0042ff"/><rect x="257" y="316" width="8" height="8" fill="#0024ff"/><rect x="265" y="316" width="9" height="8" fill="#000aff"/><rect x="274" y="316" width="8" height="8" fill="#0000ff"/><rect x="282" y="316" width="9" height="8" fill="#0000ee"/><rect x="291" y="316" width="8" height="8" fill="#0000b9"/><rect x="299" y="316" width="51" height="8" fill="#0000a2"/><rect x="350" y="316" width="17" height="8" fill="#0000ae"/><rect x="367" y="316" width="8" height="8" fill="#0000b9"/><rect x="375" y="316" width="9" height="8" fill="#0000c5"/><rect x="384" y="316" width="8" height="8" fill="#0000d1"/><rect x="392" y="316" width="25" height="8" fill="#0000dc"/><rect x="417" y="316" width="9" height="8" fill="#0000db"/><rect x="426" y="316" width="8" height="8" fill="#0000da"/><rect x="434" y="316" width="9" height="8" fill="#0000d9"/><rect x="443" y="316" width="8" height="8" fill="#0000d8"/><rect x="451" y="316" width="9" height="8" fill="#0000d6"/><rect x="460" y="316" width="8" height="8" fill="#0000d5"/><rect x="468" y="316" width="9" height="8" fill="#0000d4"/><rect x="477" y="316" width="8" height="8" fill="#0000d3"/><rect x="485" y="316" width="9" height="8" fill="#0000d2"/><rect x="494" y="316" width="8" height="8" fill="#0000d1"/><rect x="502" y="316" width="8" height="8" fill="#0000cf"/><rect x="510" y="316" width="9" height="8" fill="#0000ce"/><rect x="519" y="316" width="8" height="8" fill="#0000cd"/><rect x="527" y="316" width="9" height="8" fill="#0000cc"/><rect x="536" y="316" width="8" height="8" fill="#0000cb"/><rect x="544" y="316" width="9" height="8" fill="#0000ca"/><rect x="553" y="316" width="8" height="8" fill="#0000c9"/><rect x="561" y="316" width="9" height="8" fill="#0000c7"/><rect x="570" y="316" width="8" height="8" fill="#0000c6"/><rect x="578" y="316" width="9" height="8" fill="#0000c5"/><rect x="587" y="316" width="8" height="8" fill="#0000dc"/><rect x="595" y="316" width="9" height="8" fill="#0000f3"/><rect x="604" y="316" width="33" height="8" fill="#0000ff"/><rect x="637" y="316" width="17" height="8" fill="#0005ff"/><rect x="654" y="316" width="9" height="8" fill="#000aff"/><rect x="663" y="316" width="8" height="8" fill="#000fff"/><rect x="671" y="316" width="9" height="8" fill="#0014ff"/><rect x="680" y="316" width="8" height="8" fill="#0019ff"/><rect x="688" y="316" width="9" height="8" fill="#001fff"/><rect x="697" y="316" width="8" height="8" fill="#0024ff"/><rect x="705" y="316" width="8" height="8" fill="#0029ff"/>
<rect x="105" y="324" width="8" height="8" fill="#0024ff"/><rect x="113" y="324" width="8" height="8" fill="#002eff"/><rect x="121" y="324" width="9" height="8" fill="#0042ff"/><rect x="130" y="324" width="8" height="8" fill="#004dff"/><rect x="138" y="324" width="9" height="8" fill="#0061ff"/><rect x="147" y="324" width="8" height="8" fill="#006bff"/><rect x="155" y="324" width="17" height="8" fill="#0075ff"/><rect x="172" y="324" width="9" height="8" fill="#0080ff"/><rect x="181" y="324" width="8" height="8" fill="#008fff"/><rect x="189" y="324" width="9" height="8" fill="#0099ff"/><rect x="198" y="324" width="8" height="8" fill="#009eff"/><rect x="206" y="324" width="8" height="8" fill="#00a3ff"/><rect x="214" y="324" width="9" height="8" fill="#009eff"/><rect x="223" y="324" width="8" height="8" fill="#0094ff"/><rect x="231" y="324" width="9" height="8" fill="#0085ff"/><rect x="240" y="324" width="8" height="8" fill="#0070ff"/><rect x="248" y="324" width="9" height="8" fill="#0052ff"/><rect x="257" y="324" width="8" height="8" fill="#0033ff"/><rect x="265" y="324" width="9" height="8" fill="#0019ff"/><rect x="274" y="324" width="8" height="8" fill="#0005ff"/><rect x="282" y="324" width="9" height="8" fill="#0000ff"/><rect x="291" y="324" width="8" height="8" fill="#0000b9"/><rect x="299" y="324" width="8" height="8" fill="#0000a2"/><rect x="307" y="324" width="43" height="8" fill="#0000ae"/><rect x="350" y="324" width="17" height="8" fill="#0000b9"/><rect x="367" y="324" width="8" height="8" fill="#0000c5"/><rect x="375" y="324" width="17" height="8" fill="#0000d1"/><rect x="392" y="324" width="25" height="8" fill="#0000dc"/><rect x="417" y="324" width="9" height="8" fill="#0000db"/><rect x="426" y="324" width="8" height="8" fill="#0000da"/><rect x="434" y="324" width="9" height="8" fill="#0000d9"/><rect x="443" y="324" width="8" height="8" fill="#0000d8"/><rect x="451" y="324" width="9" height="8" fill="#0000d6"/><rect x="460" y="324" width="8" height="8" fill="#0000d5"/><rect x="468" y="324" width="9" height="8" fill="#0000d4"/><rect x="477" y="324" width="8" height="8" fill="#0000d3"/><rect x="485" y="324" width="9" height="8" fill="#0000d2"/><rect x="494" y="324" width="8" height="8" fill="#0000d1"/><rect x="502" y="324" width="8" height="8" fill="#0000cf"/><rect x="510" y="324" width="9" height="8" fill="#0000ce"/><rect x="519" y="324" width="8" height="8" fill="#0000cd"/><rect x="527" y="324" width="9" height="8" fill="#0000cc"/><rect x="536" y="324" width="8" height="8" fill="#0000cb"/><rect x="544" y="324" width="9" height="8" fill="#0000ca"/><rect x="553" y="324" width="8" height="8" fill="#0000c9"/><rect x="561" y="324" width="9" height="8" fill="#0000c7"/><rect x="570" y="324" width="8" height="8" fill="#0000c6"/><rect x="578" y="324" width="9" height="8" fill="#0000c5"/><rect x="587" y="324" width="8" height="8" fill="#0000dc"/><rect x="595" y="324" width="9" height="8" fill="#0000f3"/><rect x="604" y="324" width="25" height="8" fill="#0000ff"/><rect x="629" y="324" width="17" height="8" fill="#0005ff"/><rect x="646" y="324" width="8" height="8" fill="#000aff"/><rect x="654" y="324" width="9" height="8" fill="#000fff"/><rect x="663" y="324" width="8" height="8" fill="#0014ff"/><rect x="671" y="324" width="9" height="8" fill="#0019ff"/><rect x="680" y="324" width="8" height="8" fill="#001fff"/><rect x="688" y="324" width="9" height="8" fill="#0024ff"/><rect x="697" y="324" width="8" height="8" fill="#0029ff"/><rect x="705" y="324" width="8" height="8" fill="#002eff"/>
<rect x="105" y="332" width="8" height="9" fill="#002eff"/><rect x="113" y="332" width="8" height="9" fill="#0038ff"/><rect x="121" y="332" width="9" height="9" fill="#0042ff"/><rect x="130" y="332" width="8" height="9" fill="#0057ff"/><rect x="138" y="332" width="9" height="9" fill="#0061ff"/><rect x="147" y="332" width="8" height="9" fill="#0075ff"/><rect x="155" y="332" width="17" height="9" fill="#0080ff"/><rect x="172" y="332" width="9" height="9" fill="#008aff"/><rect x="181" y="332" width="8" height="9" fill="#0099ff"/><rect x="189" y="332" width="9" height="9" fill="#00a3ff"/><rect x="198" y="332" width="16" height="9" fill="#00a8ff"/><rect x="214" y="332" width="9" height="9" fill="#00a3ff"/><rect x="223" y="332" width="8" height="9" fill="#0099ff"/><rect x="231" y="332" width="9" height="9" fill="#008aff"/><rect x="240" y="332" width="8" height="9" fill="#0075ff"/><rect x="248" y="332" width="9" height="9" fill="#005cff"/><rect x="257" y="332" width="8" height="9" fill="#003dff"/><rect x="265" y="332" width="9" height="9" fill="#0024ff"/><rect x="274" y="332" width="8" height="9" fill="#000fff"/><rect x="282" y="332" width="9" height="9" fill="#0000ff"/><rect x="291" y="332" width="8" height="9" fill="#0000e8"/><rect x="299" y="332" width="8" height="9" fill="#0000d1"/><rect x="307" y="332" width="9" height="9" fill="#0000dc"/><rect x="316" y="332" width="8" height="9" fill="#0000da"/><rect x="324" y="332" width="9" height="9" fill="#0000d8"/><rect x="333" y="332" width="8" height="9" fill="#0000d6"/><rect x="341" y="332" width="9" height="9" fill="#0000d4"/><rect x="350" y="332" width="8" height="9" fill="#0000d3"/><rect x="358" y="332" width="9" height="9" fill="#0000d1"/><rect x="367" y="332" width="8" height="9" fill="#0000cf"/><rect x="375" y="332" width="9" height="9" fill="#0000cd"/><rect x="384" y="332" width="8" height="9" fill="#0000cb"/><rect x="392" y="332" width="9" height="9" fill="#0000c9"/><rect x="401" y="332" width="8" height="9" fill="#0000c7"/><rect x="409" y="332" width="8" height="9" fill="#0000c5"/><rect x="417" y="332" width="17" height="9" fill="#0000c6"/><rect x="434" y="332" width="17" height="9" fill="#0000c7"/><rect x="451" y="332" width="9" height="9" fill="#0000c8"/><rect x="460" y="332" width="17" height="9" fill="#0000c9"/><rect x="477" y="332" width="17" height="9" fill="#0000ca"/><rect x="494" y="332" width="16" height="9" fill="#0000cb"/><rect x="510" y="332" width="9" height="9" fill="#0000cc"/><rect x="519" y="332" width="17" height="9" fill="#0000cd"/><rect x="536" y="332" width="17" height="9" fill="#0000ce"/><rect x="553" y="332" width="17" height="9" fill="#0000cf"/><rect x="570" y="332" width="8" height="9" fill="#0000d0"/><rect x="578" y="332" width="9" height="9" fill="#0000d1"/><rect x="587" y="332" width="8" height="9" fill="#0000e2"/><rect x="595" y="332" width="9" height="9" fill="#0000f3"/><rect x="604" y="332" width="16" height="9" fill="#0000ff"/><rect x="620" y="332" width="9" height="9" fill="#0005ff"/><rect x="629" y="332" width="8" height="9" fill="#000aff"/><rect x="637" y="332" width="9" height="9" fill="#0014ff"/><rect x="646" y="332" width="8" height="9" fill="#0019ff"/><rect x="654" y="332" width="9" height="9" fill="#001fff"/><rect x="663" y="332" width="8" height="9" fill="#0024ff"/><rect x="671" y="332" width="9" height="9" fill="#0029ff"/><rect x="680" y="332" width="8" height="9" fill="#002eff"/><rect x="688" y="332" width="9" height="9" fill="#0033ff"/><rect x="697" y="332" width="8" height="9" fill="#0038ff"/><rect x="705" y="332" width="8" height="9" fill="#003dff"/>
<rect x="105" y="341" width="8" height="8" fill="#0038ff"/><rect x="113" y="341" width="8" height="8" fill="#0042ff"/><rect x="121" y="341" width="9" height="8" fill="#004dff"/><rect x="130" y="341" width="8" height="8" fill="#0057ff"/><rect x="138" y="341" width="9" height="8" fill="#0061ff"/><rect x="147" y="341" width="8" height="8" fill="#0075ff"/><rect x="155" y="341" width="17" height="8" fill="#0080ff"/><rect x="172" y="341" width="9" height="8" fill="#008aff"/><rect x="181" y="341" width="8" height="8" fill="#0094ff"/><rect x="189" y="341" width="9" height="8" fill="#0099ff"/><rect x="198" y="341" width="16" height="8" fill="#009eff"/><rect x="214" y="341" width="9" height="8" fill="#0099ff"/><rect x="223" y="341" width="8" height="8" fill="#008fff"/><rect x="231" y="341" width="9" height="8" fill="#0085ff"/><rect x="240" y="341" width="8" height="8" fill="#0075ff"/><rect x="248" y="341" width="9" height="8" fill="#0061ff"/><rect x="257" y="341" width="8" height="8" fill="#0047ff"/><rect x="265" y="341" width="9" height="8" fill="#002eff"/><rect x="274" y="341" width="8" height="8" fill="#001fff"/><rect x="282" y="341" width="9" height="8" fill="#000fff"/><rect x="291" y="341" width="8" height="8" fill="#0000ff"/><rect x="299" y="341" width="17" height="8" fill="#0000f3"/><rect x="316" y="341" width="8" height="8" fill="#0000f1"/><rect x="324" y="341" width="9" height="8" fill="#0000f0"/><rect x="333" y="341" width="8" height="8" fill="#0000ee"/><rect x="341" y="341" width="9" height="8" fill="#0000ec"/><rect x="350" y="341" width="8" height="8" fill="#0000ea"/><rect x="358" y="341" width="9" height="8" fill="#0000e8"/><rect x="367" y="341" width="8" height="8" fill="#0000e6"/><rect x="375" y="341" width="9" height="8" fill="#0000e4"/><rect x="384" y="341" width="8" height="8" fill="#0000e2"/><rect x="392" y="341" width="9" height="8" fill="#0000e0"/><rect x="401" y="341" width="8" height="8" fill="#0000de"/><rect x="409" y="341" width="17" height="8" fill="#0000dc"/><rect x="426" y="341" width="8" height="8" fill="#0000db"/><rect x="434" y="341" width="17" height="8" fill="#0000da"/><rect x="451" y="341" width="17" height="8" fill="#0000d9"/><rect x="468" y="341" width="17" height="8" fill="#0000d8"/><rect x="485" y="341" width="9" height="8" fill="#0000d7"/><rect x="494" y="341" width="16" height="8" fill="#0000d6"/><rect x="510" y="341" width="17" height="8" fill="#0000d5"/><rect x="527" y="341" width="17" height="8" fill="#0000d4"/><rect x="544" y="341" width="9" height="8" fill="#0000d3"/><rect x="553" y="341" width="17" height="8" fill="#0000d2"/><rect x="570" y="341" width="17" height="8" fill="#0000d1"/><rect x="587" y="341" width="8" height="8" fill="#0000e2"/><rect x="595" y="341" width="9" height="8" fill="#0000f3"/><rect x="604" y="341" width="8" height="8" fill="#0000ff"/><rect x="612" y="341" width="8" height="8" fill="#0005ff"/><rect x="620" y="341" width="9" height="8" fill="#000fff"/><rect x="629" y="341" width="8" height="8" fill="#0019ff"/><rect x="637" y="341" width="9" height="8" fill="#0024ff"/><rect x="646" y="341" width="8" height="8" fill="#002eff"/><rect x="654" y="341" width="9" height="8" fill="#0033ff"/><rect x="663" y="341" width="8" height="8" fill="#003dff"/><rect x="671" y="341" width="9" height="8" fill="#0042ff"/><rect x="680" y="341" width="8" height="8" fill="#0047ff"/><rect x="688" y="341" width="9" height="8" fill="#004dff"/><rect x="697" y="341" width="8" height="8" fill="#0052ff"/><rect x="705" y="341" width="8" height="8" fill="#0057ff"/>
<rect x="105" y="349" width="16" height="9" fill="#004dff"/><rect x="121" y="349" width="9" height="9" fill="#0057ff"/><rect x="130" y="349" width="8" height="9" fill="#0061ff"/><rect x="138" y="349" width="9" height="9" fill="#006bff"/><rect x="147" y="349" width="8" height="9" fill="#0075ff"/><rect x="155" y="349" width="9" height="9" fill="#0080ff"/><rect x="164" y="349" width="8" height="9" fill="#007aff"/><rect x="172" y="349" width="9" height="9" fill="#0080ff"/><rect x="181" y="349" width="8" height="9" fill="#008aff"/><rect x="189" y="349" width="25" height="9" fill="#008fff"/><rect x="214" y="349" width="9" height="9" fill="#008aff"/><rect x="223" y="349" width="8" height="9" fill="#0085ff"/><rect x="231" y="349" width="9" height="9" fill="#007aff"/><rect x="240" y="349" width="8" height="9" fill="#0070ff"/><rect x="248" y="349" width="9" height="9" fill="#0061ff"/><rect x="257" y="349" width="8" height="9" fill="#004dff"/><rect x="265" y="349" width="9" height="9" fill="#0038ff"/><rect x="274" y="349" width="8" height="9" fill="#0029ff"/><rect x="282" y="349" width="9" height="9" fill="#001fff"/><rect x="291" y="349" width="8" height="9" fill="#0005ff"/><rect x="299" y="349" width="17" height="9" fill="#0000ff"/><rect x="316" y="349" width="8" height="9" fill="#0000fd"/><rect x="324" y="349" width="9" height="9" fill="#0000fb"/><rect x="333" y="349" width="8" height="9" fill="#0000f9"/><rect x="341" y="349" width="9" height="9" fill="#0000f7"/><rect x="350" y="349" width="8" height="9" fill="#0000f5"/><rect x="358" y="349" width="9" height="9" fill="#0000f3"/><rect x="367" y="349" width="8" height="9" fill="#0000f1"/><rect x="375" y="349" width="9" height="9" fill="#0000f0"/><rect x="384" y="349" width="8" height="9" fill="#0000ee"/><rect x="392" y="349" width="9" height="9" fill="#0000ec"/><rect x="401" y="349" width="8" height="9" fill="#0000ea"/><rect x="409" y="349" width="8" height="9" fill="#0000e8"/><rect x="417" y="349" width="17" height="9" fill="#0000e7"/><rect x="434" y="349" width="9" height="9" fill="#0000e6"/><rect x="443" y="349" width="17" height="9" fill="#0000e5"/><rect x="460" y="349" width="17" height="9" fill="#0000e4"/><rect x="477" y="349" width="17" height="9" fill="#0000e3"/><rect x="494" y="349" width="8" height="9" fill="#0000e2"/><rect x="502" y="349" width="17" height="9" fill="#0000e1"/><rect x="519" y="349" width="17" height="9" fill="#0000e0"/><rect x="536" y="349" width="17" height="9" fill="#0000df"/><rect x="553" y="349" width="8" height="9" fill="#0000de"/><rect x="561" y="349" width="17" height="9" fill="#0000dd"/><rect x="578" y="349" width="9" height="9" fill="#0000dc"/><rect x="587" y="349" width="8" height="9" fill="#0000e8"/><rect x="595" y="349" width="9" height="9" fill="#0000f9"/><rect x="604" y="349" width="8" height="9" fill="#0000ff"/><rect x="612" y="349" width="8" height="9" fill="#000aff"/><rect x="620" y="349" width="9" height="9" fill="#0019ff"/><rect x="629" y="349" width="8" height="9" fill="#0024ff"/><rect x="637" y="349" width="9" height="9" fill="#0033ff"/><rect x="646" y="349" width="8" height="9" fill="#003dff"/><rect x="654" y="349" width="9" height="9" fill="#0047ff"/><rect x="663" y="349" width="8" height="9" fill="#004dff"/><rect x="671" y="349" width="9" height="9" fill="#0057ff"/><rect x="680" y="349" width="8" height="9" fill="#005cff"/><rect x="688" y="349" width="9" height="9" fill="#0061ff"/><rect x="697" y="349" width="8" height="9" fill="#0066ff"/><rect x="705" y="349" width="8" height="9" fill="#006bff"/>
<rect x="105" y="358" width="16" height="8" fill="#0057ff"/><rect x="121" y="358" width="17" height="8" fill="#0061ff"/><rect x="138" y="358" width="17" height="8" fill="#006bff"/><rect x="155" y="358" width="9" height="8" fill="#0075ff"/><rect x="164" y="358" width="8" height="8" fill="#0070ff"/><rect x="172" y="358" width="9" height="8" fill="#0075ff"/><rect x="181" y="358" width="33" height="8" fill="#007aff"/><rect x="214" y="358" width="9" height="8" fill="#0075ff"/><rect x="223" y="358" width="8" height="8" fill="#0070ff"/><rect x="231" y="358" width="9" height="8" fill="#006bff"/><rect x="240" y="358" width="8" height="8" fill="#0066ff"/><rect x="248" y="358" width="9" height="8" fill="#005cff"/><rect x="257" y="358" width="8" height="8" fill="#004dff"/><rect x="265" y="358" width="9" height="8" fill="#003dff"/><rect x="274" y="358" width="8" height="8" fill="#0033ff"/><rect x="282" y="358" width="9" height="8" fill="#0029ff"/><rect x="291" y="358" width="8" height="8" fill="#000fff"/><rect x="299" y="358" width="8" height="8" fill="#0005ff"/><rect x="307" y="358" width="60" height="8" fill="#0000ff"/><rect x="367" y="358" width="8" height="8" fill="#0000fd"/><rect x="375" y="358" width="9" height="8" fill="#0000fb"/><rect x="384" y="358" width="8" height="8" fill="#0000f9"/><rect x="392" y="358" width="9" height="8" fill="#0000f7"/><rect x="401" y="358" width="8" height="8" fill="#0000f5"/><rect x="409" y="358" width="8" height="8" fill="#0000f3"/><rect x="417" y="358" width="9" height="8" fill="#0000ef"/><rect x="426" y="358" width="8" height="8" fill="#0000eb"/><rect x="434" y="358" width="9" height="8" fill="#0000e7"/><rect x="443" y="358" width="8" height="8" fill="#0000e3"/><rect x="451" y="358" width="9" height="8" fill="#0000de"/><rect x="460" y="358" width="8" height="8" fill="#0000da"/><rect x="468" y="358" width="9" height="8" fill="#0000d6"/><rect x="477" y="358" width="8" height="8" fill="#0000d2"/><rect x="485" y="358" width="9" height="8" fill="#0000cd"/><rect x="494" y="358" width="8" height="8" fill="#0000c9"/><rect x="502" y="358" width="8" height="8" fill="#0000c5"/><rect x="510" y="358" width="9" height="8" fill="#0000b9"/><rect x="519" y="358" width="8" height="8" fill="#0000bd"/><rect x="527" y="358" width="9" height="8" fill="#0000c1"/><rect x="536" y="358" width="8" height="8" fill="#0000c5"/><rect x="544" y="358" width="9" height="8" fill="#0000c9"/><rect x="553" y="358" width="8" height="8" fill="#0000cd"/><rect x="561" y="358" width="9" height="8" fill="#0000d1"/><rect x="570" y="358" width="8" height="8" fill="#0000dc"/><rect x="578" y="358" width="9" height="8" fill="#0000e8"/><rect x="587" y="358" width="8" height="8" fill="#0000ee"/><rect x="595" y="358" width="9" height="8" fill="#0000ff"/><rect x="604" y="358" width="8" height="8" fill="#0005ff"/><rect x="612" y="358" width="8" height="8" fill="#000fff"/><rect x="620" y="358" width="9" height="8" fill="#001fff"/><rect x="629" y="358" width="8" height="8" fill="#002eff"/><rect x="637" y="358" width="9" height="8" fill="#003dff"/><rect x="646" y="358" width="8" height="8" fill="#0047ff"/><rect x="654" y="358" width="9" height="8" fill="#004dff"/><rect x="663" y="358" width="8" height="8" fill="#0057ff"/><rect x="671" y="358" width="9" height="8" fill="#005cff"/><rect x="680" y="358" width="8" height="8" fill="#0061ff"/><rect x="688" y="358" width="9" height="8" fill="#0066ff"/><rect x="697" y="358" width="8" height="8" fill="#006bff"/><rect x="705" y="358" width="8" height="8" fill="#0070ff"/>
<rect x="105" y="366" width="50" height="9" fill="#0057ff"/><rect x="155" y="366" width="68" height="9" fill="#0061ff"/><rect x="223" y="366" width="8" height="9" fill="#0057ff"/><rect x="231" y="366" width="9" height="9" fill="#004dff"/><rect x="240" y="366" width="8" height="9" fill="#0042ff"/><rect x="248" y="366" width="9" height="9" fill="#0038ff"/><rect x="257" y="366" width="8" height="9" fill="#002eff"/><rect x="265" y="366" width="9" height="9" fill="#0024ff"/><rect x="274" y="366" width="8" height="9" fill="#0019ff"/><rect x="282" y="366" width="9" height="9" fill="#000fff"/><rect x="291" y="366" width="16" height="9" fill="#0005ff"/><rect x="307" y="366" width="51" height="9" fill="#0000ff"/><rect x="358" y="366" width="9" height="9" fill="#0000fc"/><rect x="367" y="366" width="8" height="9" fill="#0000f9"/><rect x="375" y="366" width="9" height="9" fill="#0000f5"/><rect x="384" y="366" width="8" height="9" fill="#0000f2"/><rect x="392" y="366" width="9" height="9" fill="#0000ef"/><rect x="401" y="366" width="8" height="9" fill="#0000eb"/><rect x="409" y="366" width="8" height="9" fill="#0000e8"/><rect x="417" y="366" width="9" height="9" fill="#0000e6"/><rect x="426" y="366" width="8" height="9" fill="#0000e4"/><rect x="434" y="366" width="9" height="9" fill="#0000e1"/><rect x="443" y="366" width="8" height="9" fill="#0000df"/><rect x="451" y="366" width="9" height="9" fill="#0000dd"/><rect x="460" y="366" width="8" height="9" fill="#0000db"/><rect x="468" y="366" width="9" height="9" fill="#0000d9"/><rect x="477" y="366" width="8" height="9" fill="#0000d7"/><rect x="485" y="366" width="9" height="9" fill="#0000d5"/><rect x="494" y="366" width="8" height="9" fill="#0000d3"/><rect x="502" y="366" width="17" height="9" fill="#0000d1"/><rect x="519" y="366" width="8" height="9" fill="#0000d4"/><rect x="527" y="366" width="9" height="9" fill="#0000d8"/><rect x="536" y="366" width="8" height="9" fill="#0000dc"/><rect x="544" y="366" width="9" height="9" fill="#0000e0"/><rect x="553" y="366" width="8" height="9" fill="#0000e4"/><rect x="561" y="366" width="9" height="9" fill="#0000e8"/><rect x="570" y="366" width="8" height="9" fill="#0000f1"/><rect x="578" y="366" width="9" height="9" fill="#0000f9"/><rect x="587" y="366" width="17" height="9" fill="#0000ff"/><rect x="604" y="366" width="8" height="9" fill="#0005ff"/><rect x="612" y="366" width="8" height="9" fill="#000fff"/><rect x="620" y="366" width="9" height="9" fill="#001dff"/><rect x="629" y="366" width="8" height="9" fill="#002aff"/><rect x="637" y="366" width="9" height="9" fill="#0038ff"/><rect x="646" y="366" width="8" height="9" fill="#0042ff"/><rect x="654" y="366" width="9" height="9" fill="#004cff"/><rect x="663" y="366" width="8" height="9" fill="#0057ff"/><rect x="671" y="366" width="9" height="9" fill="#005dff"/><rect x="680" y="366" width="8" height="9" fill="#0063ff"/><rect x="688" y="366" width="9" height="9" fill="#0069ff"/><rect x="697" y="366" width="8" height="9" fill="#006fff"/><rect x="705" y="366" width="8" height="9" fill="#0075ff"/>
<rect x="105" y="375" width="8" height="8" fill="#0057ff"/><rect x="113" y="375" width="8" height="8" fill="#0054ff"/><rect x="121" y="375" width="9" height="8" fill="#0051ff"/><rect x="130" y="375" width="8" height="8" fill="#004eff"/><rect x="138" y="375" width="9" height="8" fill="#004cff"/><rect x="147" y="375" width="8" height="8" fill="#0049ff"/><rect x="155" y="375" width="9" height="8" fill="#0046ff"/><rect x="164" y="375" width="8" height="8" fill="#0043ff"/><rect x="172" y="375" width="9" height="8" fill="#0040ff"/><rect x="181" y="375" width="8" height="8" fill="#003eff"/><rect x="189" y="375" width="9" height="8" fill="#003bff"/><rect x="198" y="375" width="16" height="8" fill="#0038ff"/><rect x="214" y="375" width="9" height="8" fill="#0033ff"/><rect x="223" y="375" width="8" height="8" fill="#002fff"/><rect x="231" y="375" width="9" height="8" fill="#002aff"/><rect x="240" y="375" width="8" height="8" fill="#0026ff"/><rect x="248" y="375" width="9" height="8" fill="#0021ff"/><rect x="257" y="375" width="8" height="8" fill="#001cff"/><rect x="265" y="375" width="9" height="8" fill="#0018ff"/><rect x="274" y="375" width="8" height="8" fill="#0013ff"/><rect x="282" y="375" width="9" height="8" fill="#000eff"/><rect x="291" y="375" width="8" height="8" fill="#000aff"/><rect x="299" y="375" width="8" height="8" fill="#0005ff"/><rect x="307" y="375" width="9" height="8" fill="#0000ff"/><rect x="316" y="375" width="8" height="8" fill="#0000fe"/><rect x="324" y="375" width="9" height="8" fill="#0000fd"/><rect x="333" y="375" width="8" height="8" fill="#0000fc"/><rect x="341" y="375" width="9" height="8" fill="#0000fb"/><rect x="350" y="375" width="8" height="8" fill="#0000fa"/><rect x="358" y="375" width="9" height="8" fill="#0000f9"/><rect x="367" y="375" width="8" height="8" fill="#0000f8"/><rect x="375" y="375" width="9" height="8" fill="#0000f7"/><rect x="384" y="375" width="8" height="8" fill="#0000f6"/><rect x="392" y="375" width="9" height="8" fill="#0000f5"/><rect x="401" y="375" width="8" height="8" fill="#0000f4"/><rect x="409" y="375" width="8" height="8" fill="#0000f3"/><rect x="417" y="375" width="9" height="8" fill="#0000f1"/><rect x="426" y="375" width="8" height="8" fill="#0000ef"/><rect x="434" y="375" width="9" height="8" fill="#0000ed"/><rect x="443" y="375" width="8" height="8" fill="#0000eb"/><rect x="451" y="375" width="9" height="8" fill="#0000e9"/><rect x="460" y="375" width="8" height="8" fill="#0000e7"/><rect x="468" y="375" width="9" height="8" fill="#0000e5"/><rect x="477" y="375" width="8" height="8" fill="#0000e3"/><rect x="485" y="375" width="9" height="8" fill="#0000e0"/><rect x="494" y="375" width="8" height="8" fill="#0000de"/><rect x="502" y="375" width="8" height="8" fill="#0000dc"/><rect x="510" y="375" width="9" height="8" fill="#0000f3"/><rect x="519" y="375" width="8" height="8" fill="#0000f5"/><rect x="527" y="375" width="9" height="8" fill="#0000f7"/><rect x="536" y="375" width="8" height="8" fill="#0000f9"/><rect x="544" y="375" width="9" height="8" fill="#0000fb"/><rect x="553" y="375" width="8" height="8" fill="#0000fd"/><rect x="561" y="375" width="34" height="8" fill="#0000ff"/><rect x="595" y="375" width="9" height="8" fill="#0005ff"/><rect x="604" y="375" width="8" height="8" fill="#000fff"/><rect x="612" y="375" width="8" height="8" fill="#0019ff"/><rect x="620" y="375" width="9" height="8" fill="#0024ff"/><rect x="629" y="375" width="8" height="8" fill="#002eff"/><rect x="637" y="375" width="9" height="8" fill="#0038ff"/><rect x="646" y="375" width="8" height="8" fill="#003fff"/><rect x="654" y="375" width="9" height="8" fill="#0046ff"/><rect x="663" y="375" width="8" height="8" fill="#004dff"/><rect x="671" y="375" width="9" height="8" fill="#0051ff"/><rect x="680" y="375" width="8" height="8" fill="#0055ff"/><rect x="688" y="375" width="9" height="8" fill="#0059ff"/><rect x="697" y="375" width="8" height="8" fill="#005dff"/><rect x="705" y="375" width="8" height="8" fill="#0061ff"/>
<rect x="105" y="383" width="8" height="8" fill="#0038ff"/><rect x="113" y="383" width="8" height="8" fill="#0035ff"/><rect x="121" y="383" width="9" height="8" fill="#0033ff"/><rect x="130" y="383" width="8" height="8" fill="#0030ff"/><rect x="138" y="383" width="9" height="8" fill="#002dff"/><rect x="147" y="383" width="8" height="8" fill="#002aff"/><rect x="155" y="383" width="9" height="8" fill="#0027ff"/><rect x="164" y="383" width="8" height="8" fill="#0025ff"/><rect x="172" y="383" width="9" height="8" fill="#0022ff"/><rect x="181" y="383" width="8" height="8" fill="#001fff"/><rect x="189" y="383" width="9" height="8" fill="#001cff"/><rect x="198" y="383" width="16" height="8" fill="#0019ff"/><rect x="214" y="383" width="9" height="8" fill="#0017ff"/><rect x="223" y="383" width="8" height="8" fill="#0014ff"/><rect x="231" y="383" width="9" height="8" fill="#0011ff"/><rect x="240" y="383" width="8" height="8" fill="#000eff"/><rect x="248" y="383" width="9" height="8" fill="#000cff"/><rect x="257" y="383" width="8" height="8" fill="#0009ff"/><rect x="265" y="383" width="9" height="8" fill="#0006ff"/><rect x="274" y="383" width="8" height="8" fill="#0003ff"/><rect x="282" y="383" width="161" height="8" fill="#0000ff"/><rect x="443" y="383" width="8" height="8" fill="#0000fe"/><rect x="451" y="383" width="9" height="8" fill="#0000fd"/><rect x="460" y="383" width="8" height="8" fill="#0000fb"/><rect x="468" y="383" width="9" height="8" fill="#0000fa"/><rect x="477" y="383" width="8" height="8" fill="#0000f8"/><rect x="485" y="383" width="9" height="8" fill="#0000f7"/><rect x="494" y="383" width="8" height="8" fill="#0000f5"/><rect x="502" y="383" width="8" height="8" fill="#0000f3"/><rect x="510" y="383" width="60" height="8" fill="#0000ff"/><rect x="570" y="383" width="8" height="8" fill="#0004ff"/><rect x="578" y="383" width="9" height="8" fill="#0008ff"/><rect x="587" y="383" width="8" height="8" fill="#000bff"/><rect x="595" y="383" width="9" height="8" fill="#000fff"/><rect x="604" y="383" width="8" height="8" fill="#0014ff"/><rect x="612" y="383" width="8" height="8" fill="#0019ff"/><rect x="620" y="383" width="9" height="8" fill="#0020ff"/><rect x="629" y="383" width="8" height="8" fill="#0027ff"/><rect x="637" y="383" width="9" height="8" fill="#002eff"/><rect x="646" y="383" width="8" height="8" fill="#0035ff"/><rect x="654" y="383" width="9" height="8" fill="#003cff"/><rect x="663" y="383" width="8" height="8" fill="#0042ff"/><rect x="671" y="383" width="9" height="8" fill="#0044ff"/><rect x="680" y="383" width="8" height="8" fill="#0046ff"/><rect x="688" y="383" width="9" height="8" fill="#0048ff"/><rect x="697" y="383" width="8" height="8" fill="#004aff"/><rect x="705" y="383" width="8" height="8" fill="#004dff"/>
</g>
<g clip-path="url(#ax)">
<path d="M128.3 132.9L131.4 131.9L135.6 131.2L138.8 131.9L136.1 130.3L134.4 129.3L130.5 128.1L131.5 127.3L136.1 126.1L138.8 124.9L144.6 124.1L147.9 123.1L152.2 123.9L156.4 124.6L162.3 124.8L167.4 125.4L174.2 126.0L177.6 126.1L181.8 127.3L184.3 126.3L187.7 126.1L192.8 125.3L196.2 124.4L198.7 126.1L202.1 126.4L204.6 125.8L208.0 125.9L213.9 127.1L219.0 128.3L218.2 129.2L225.8 129.0L230.0 129.5L230.0 130.8L231.7 129.0L233.4 127.8L238.5 128.8L241.8 129.3L246.1 129.2L248.6 128.1L250.6 129.8L252.8 128.5L249.8 126.3L251.1 124.1L252.8 122.0L256.2 123.4L256.2 125.9L259.6 128.0L263.0 127.3L265.5 129.8L268.1 125.8L274.0 125.9L275.2 128.0L273.1 130.8L269.8 131.9L267.2 132.2L266.4 134.6L263.8 135.2L259.6 136.1L256.2 137.9L253.7 140.6L252.7 143.2L253.3 144.4L255.7 147.1L260.4 147.4L263.8 148.3L268.9 150.3L273.5 150.6L273.6 154.2L275.7 156.2L277.9 157.2L279.4 155.0L279.1 151.6L282.4 149.6L283.1 147.4L279.9 144.4L281.6 142.3L280.7 138.5L287.5 138.5L294.3 140.6L295.1 144.0L298.5 145.2L301.9 142.7L303.6 141.8L307.8 146.6L310.4 149.9L315.4 152.5L318.3 155.0L316.3 156.7L311.2 158.9L304.4 158.7L300.2 158.9L296.8 160.9L293.4 164.0L296.0 162.6L300.2 160.8L303.9 161.1L302.2 163.0L303.6 165.7L307.8 166.2L311.2 164.7L310.7 166.5L308.7 167.5L304.4 168.7L301.0 170.1L301.0 168.6L303.1 167.0L299.4 167.7L296.0 169.4L293.4 170.6L293.1 172.3L294.3 173.1L291.7 173.8L287.5 175.1L287.2 177.0L285.0 178.7L284.1 181.2L285.0 184.3L281.6 186.0L278.2 188.0L275.7 190.5L275.2 193.1L276.5 196.5L277.2 199.8L276.2 201.4L274.3 199.5L272.8 196.8L272.6 194.4L270.3 193.1L268.1 193.4L264.7 192.4L261.3 192.7L261.8 194.6L258.8 194.3L254.5 193.4L252.0 194.4L248.6 196.8L248.1 199.8L247.4 203.2L247.3 206.1L249.5 210.8L250.6 212.0L252.8 213.0L257.1 212.3L259.3 210.8L259.8 208.3L263.8 207.3L265.9 207.8L264.7 210.8L263.8 213.4L263.3 215.9L262.3 216.9L267.2 216.9L270.6 217.1L272.0 218.4L271.4 221.8L271.1 225.2L272.3 226.9L274.8 228.6L277.4 228.2L279.1 227.7L281.8 229.1L282.8 230.3L285.0 226.0L286.2 225.2L289.2 224.7L291.4 222.8L292.1 224.0L291.1 225.2L291.7 227.7L292.6 226.9L292.3 225.2L294.3 224.4L294.3 223.2L296.8 225.9L301.0 225.9L303.6 226.6L307.8 225.7L309.5 227.7L309.8 229.3L312.9 230.3L315.4 233.1L319.7 233.8L323.9 234.8L325.6 236.4L328.1 240.8L327.6 243.3L330.7 245.0L333.2 245.0L337.4 247.5L338.3 248.4L342.5 248.7L346.7 249.7L350.1 251.9L353.0 252.8L353.8 256.0L353.5 259.0L350.1 262.4L347.6 265.8L346.7 269.2L346.4 273.7L345.4 276.9L343.7 280.2L341.6 282.7L339.4 282.7L336.6 283.9L334.4 284.4L331.5 286.6L330.5 288.6L330.5 292.0L328.1 294.5L325.6 297.1L324.4 298.4L322.4 301.0L320.5 302.5L317.6 302.8L314.1 301.3L313.9 302.5L315.9 303.8L316.8 305.7L315.4 308.1L311.2 309.6L307.5 309.4L307.5 312.3L306.1 313.5L302.7 313.1L305.1 315.7L302.7 317.0L301.9 319.9L298.5 321.6L301.4 323.6L301.0 325.0L298.3 327.2L296.0 329.2L297.0 332.2L295.1 332.6L297.3 333.4L300.2 335.6L302.4 336.3L299.4 337.1L296.8 337.7L298.8 338.5L294.3 337.1L290.9 335.6L288.4 333.8L286.7 331.7L285.0 329.2L285.3 325.8L284.8 322.9L287.5 319.9L288.4 317.4L287.2 316.9L287.9 314.5L288.4 311.1L288.2 306.7L289.0 305.9L290.1 303.0L291.6 299.6L291.7 294.5L292.1 291.1L293.3 287.8L293.6 283.7L293.9 278.0L293.8 274.9L291.7 273.1L288.4 271.4L285.5 269.8L283.6 267.3L282.3 264.1L280.4 260.7L279.1 257.3L277.5 255.3L275.7 253.9L275.2 251.7L276.9 249.5L277.5 248.2L275.8 247.5L276.2 245.5L277.2 243.0L278.0 242.1L279.4 240.8L281.6 239.4L282.1 237.4L281.6 234.5L281.9 232.8L280.9 231.6L279.9 229.4L278.2 228.8L277.4 231.5L275.7 230.6L272.5 229.9L271.1 229.3L268.9 226.9L267.6 225.2L264.7 222.0L261.3 221.0L257.9 220.1L256.6 219.1L253.7 216.4L252.0 216.6L249.5 217.3L246.1 216.1L243.5 215.1L240.1 213.4L237.6 212.7L235.1 210.8L234.1 209.1L234.6 207.4L233.4 204.9L230.0 201.5L227.6 199.8L225.8 197.3L223.2 194.8L221.5 191.4L218.5 190.0L218.7 193.1L221.5 196.5L223.2 199.0L225.8 202.4L227.5 204.7L226.3 204.9L223.2 201.9L222.7 199.3L219.5 197.8L218.2 196.8L219.5 195.1L216.8 192.6L215.3 190.2L214.6 188.8L212.4 186.3L208.7 185.5L206.5 181.9L205.5 179.9L203.3 177.0L202.4 175.5L202.6 171.1L202.9 165.7L201.7 162.0L205.5 163.5L205.0 160.9L202.1 159.2L197.9 157.6L196.2 155.0L192.8 151.6L191.1 149.9L187.7 147.4L183.5 144.9L180.1 144.5L176.2 142.8L173.3 142.3L169.1 142.3L165.7 141.0L162.3 141.0L159.8 142.7L155.9 143.5L156.4 140.6L158.9 140.3L154.7 141.5L152.5 143.7L151.3 145.7L147.9 147.4L144.6 149.1L140.3 150.5L137.0 151.1L133.9 151.5L137.8 149.9L141.2 149.1L144.6 147.4L146.6 144.7L144.1 144.9L141.2 144.4L138.6 144.5L139.0 142.8L136.1 142.3L133.6 141.3L132.7 139.8L131.9 138.1L133.9 137.3L138.6 136.4L140.3 134.7L137.0 134.6L131.0 134.7ZM289.2 111.6L297.7 108.5L302.7 106.5L311.2 105.1L328.1 104.3L345.0 102.9L358.6 102.4L370.4 103.4L378.9 105.1L392.4 105.5L382.2 108.2L383.1 110.2L380.6 112.7L379.7 115.3L378.9 117.0L375.5 119.5L374.6 121.7L375.5 124.6L372.1 125.4L369.6 127.1L361.9 128.6L356.9 130.5L351.8 132.4L345.9 133.0L344.2 134.7L341.6 137.6L340.0 141.5L338.3 142.5L334.9 141.3L330.7 140.3L328.1 138.1L325.6 135.6L323.9 133.0L322.2 130.5L322.2 128.0L326.4 126.3L320.5 124.9L320.5 122.9L318.8 120.4L316.3 117.8L313.7 115.8L306.1 114.9L297.7 115.3L292.6 113.6ZM-205.8 182.9L-207.0 182.1L-208.8 180.9L-211.5 181.2L-212.4 178.4L-211.4 175.8L-211.0 174.1L-212.0 171.1L-209.8 169.9L-205.6 170.1L-202.2 170.2L-198.8 170.2L-198.3 168.4L-198.2 166.7L-200.0 164.0L-203.9 163.0L-204.4 162.0L-202.2 161.3L-199.0 161.6L-199.5 159.8L-198.3 160.3L-196.1 160.1L-193.8 159.1L-193.3 157.7L-190.9 157.1L-189.5 155.9L-188.4 154.2L-187.0 153.7L-184.5 153.3L-181.9 153.2L-181.6 152.0L-181.8 149.9L-182.6 148.3L-182.3 147.2L-178.4 146.2L-178.9 148.3L-179.4 149.9L-179.7 151.1L-177.7 152.5L-175.2 151.8L-172.3 152.7L-168.4 151.6L-165.0 151.1L-164.3 152.0L-162.8 151.8L-160.8 150.5L-160.8 147.8L-159.8 146.6L-158.1 146.2L-157.1 147.4L-155.7 147.2L-155.0 145.2L-156.6 144.5L-156.7 143.7L-154.4 143.2L-148.9 143.0L-145.2 142.5L-148.1 141.3L-152.3 141.7L-154.0 142.0L-157.6 142.5L-160.3 141.2L-159.9 139.0L-160.4 137.3L-158.2 135.9L-154.9 134.2L-153.3 133.7L-155.4 132.5L-159.1 132.9L-160.3 134.2L-161.6 135.9L-165.0 137.6L-167.0 139.0L-167.2 140.6L-166.7 141.5L-164.3 142.7L-165.9 144.0L-168.1 145.7L-168.4 147.8L-169.2 148.8L-172.1 149.8L-174.3 150.1L-175.0 148.8L-176.0 146.9L-176.3 146.2L-177.4 144.0L-178.4 142.8L-179.1 144.0L-182.4 145.6L-184.5 145.7L-186.8 144.4L-187.9 141.5L-187.9 139.0L-185.3 137.6L-181.9 136.4L-178.5 134.7L-176.0 133.0L-174.3 131.3L-171.8 129.7L-169.2 127.5L-164.2 125.8L-159.9 125.1L-155.7 124.1L-152.7 123.4L-148.1 123.7L-143.9 124.8L-145.6 125.8L-140.5 126.3L-135.4 126.8L-131.2 128.1L-127.0 130.2L-126.6 131.3L-128.6 132.0L-132.0 132.0L-137.1 131.3L-141.3 130.3L-138.8 132.2L-137.4 133.9L-137.1 134.9L-133.7 135.6L-132.4 133.9L-129.0 134.6L-127.8 134.6L-128.6 132.9L-125.3 131.5L-121.9 131.9L-121.9 130.2L-121.9 128.0L-118.5 128.5L-117.6 130.5L-115.4 129.5L-113.4 128.8L-106.7 128.0L-105.0 128.5L-101.6 127.8L-96.5 127.3L-94.0 125.8L-87.2 126.6L-83.0 127.5L-80.4 128.5L-83.0 126.3L-83.3 123.7L-80.4 121.2L-77.9 119.8L-73.7 120.7L-73.2 123.7L-73.7 126.3L-72.0 128.0L-73.7 130.5L-74.5 131.9L-71.1 130.5L-71.1 127.5L-70.3 123.7L-70.3 120.7L-66.1 121.7L-64.4 122.9L-56.7 124.6L-60.1 122.0L-60.1 119.5L-50.8 118.7L-49.1 117.0L-39.0 115.3L-28.8 114.4L-19.9 112.4L-15.3 113.6L-6.8 114.4L-4.3 116.1L-10.2 118.3L-5.1 119.2L3.3 119.5L11.8 119.0L18.5 119.5L21.9 120.7L23.6 123.7L28.7 122.9L35.5 122.9L40.5 121.2L50.7 121.5L57.4 122.6L60.8 123.9L71.0 123.9L75.2 125.9L82.8 126.3L91.3 125.4L93.0 126.8L101.4 125.8L108.2 127.3L113.3 128.3L118.3 129.7L125.6 132.0L120.9 134.4L119.2 135.1L116.7 134.2L109.9 131.9L106.5 133.9L104.0 134.4L106.5 137.3L107.0 138.5L99.7 139.3L93.0 142.3L85.4 142.5L81.1 142.7L79.9 144.9L77.7 145.7L79.9 148.6L77.7 151.1L74.4 153.8L71.8 155.5L68.8 157.6L66.9 154.2L67.1 150.8L68.4 147.4L71.0 145.4L74.4 142.3L77.7 140.6L81.1 138.1L74.4 139.8L69.3 139.8L65.9 143.4L59.1 143.2L50.7 143.5L45.6 143.5L41.4 145.7L38.0 147.4L35.5 151.3L36.3 152.8L40.5 153.3L42.7 154.0L42.2 155.9L41.4 158.4L41.2 161.8L38.0 164.7L33.8 168.0L29.5 171.3L26.8 170.9L24.8 172.3L23.3 174.5L20.2 176.2L19.4 177.3L20.9 178.7L22.6 181.2L22.6 183.8L21.9 184.4L19.4 185.1L17.5 185.5L17.7 182.9L18.2 181.2L15.7 179.9L15.2 178.5L15.5 177.0L14.0 176.2L10.1 177.9L8.9 178.2L9.7 175.7L8.4 174.6L5.3 177.0L3.0 177.7L4.2 179.5L5.0 180.7L8.0 179.9L10.9 180.7L8.4 182.1L5.8 184.1L7.2 186.3L8.4 188.8L9.7 191.4L10.1 193.1L9.2 194.8L9.2 196.5L6.7 199.0L5.5 200.7L3.3 202.4L1.1 204.6L-3.1 206.1L-7.7 207.4L-9.7 208.0L-9.9 209.5L-10.7 207.4L-13.3 207.3L-15.8 209.1L-17.3 211.7L-16.1 213.7L-14.5 215.9L-12.3 217.8L-11.4 221.0L-11.6 223.8L-14.5 226.0L-16.1 227.7L-18.7 229.3L-19.0 227.2L-21.2 225.9L-22.9 223.5L-25.5 222.3L-26.3 221.0L-27.1 222.2L-27.5 225.2L-28.5 227.7L-26.8 229.4L-26.3 231.6L-24.1 232.8L-22.1 234.5L-21.2 237.0L-21.2 239.6L-20.0 241.4L-21.4 241.3L-24.9 239.1L-26.5 234.8L-27.0 232.8L-30.0 230.3L-30.0 227.2L-29.5 223.5L-30.5 220.1L-31.2 216.2L-33.1 215.9L-35.1 217.1L-36.8 216.4L-36.6 213.4L-38.0 210.5L-40.2 208.3L-41.0 205.9L-43.2 206.1L-45.8 206.9L-48.8 207.6L-49.5 209.1L-52.2 210.7L-53.9 212.5L-57.1 215.6L-60.5 217.6L-60.6 221.3L-61.1 225.2L-62.3 227.2L-64.0 228.8L-65.2 230.1L-67.2 227.2L-68.4 224.0L-69.8 221.5L-70.8 218.4L-72.3 214.5L-73.2 211.7L-73.3 208.3L-74.0 206.9L-76.5 208.6L-79.6 206.1L-77.6 204.9L-80.4 203.9L-83.0 201.9L-83.8 200.8L-88.0 201.0L-92.3 201.2L-96.5 200.8L-99.5 200.0L-100.2 198.0L-104.1 198.8L-107.5 197.1L-110.0 195.1L-111.4 193.1L-113.8 192.6L-115.1 193.9L-113.9 196.1L-111.7 198.5L-111.4 200.3L-109.7 199.7L-109.0 201.5L-109.2 202.7L-105.0 203.0L-101.6 200.2L-100.9 199.3L-100.7 201.9L-97.2 203.9L-95.1 205.8L-97.3 209.1L-98.7 211.7L-101.6 213.5L-104.1 215.1L-108.0 217.4L-113.4 220.0L-120.2 222.2L-122.7 222.3L-123.9 218.8L-124.1 216.1L-127.0 211.7L-130.0 207.4L-132.0 203.2L-134.1 199.8L-137.1 196.3L-137.1 193.9L-138.1 196.5L-139.5 195.4L-141.2 193.2L-141.7 191.0L-138.8 190.9L-137.9 190.4L-137.1 188.0L-136.1 185.5L-135.4 182.9L-135.1 181.7L-137.8 181.7L-140.5 182.8L-142.2 181.9L-144.5 181.6L-146.4 182.6L-148.9 181.7L-150.1 180.4L-151.5 178.7L-151.0 177.0L-152.0 176.2L-149.8 175.5L-147.3 175.3L-147.3 174.3L-143.4 174.1L-139.6 172.8L-136.8 172.8L-134.6 174.0L-131.2 174.5L-126.1 173.6L-126.1 171.9L-129.2 170.2L-132.0 168.7L-133.2 167.2L-131.7 165.8L-129.8 164.0L-132.0 164.2L-134.6 164.8L-137.1 165.7L-136.6 167.2L-134.6 167.2L-136.6 167.9L-138.8 168.7L-139.6 167.7L-141.2 167.0L-139.5 165.8L-142.2 165.0L-143.9 165.0L-145.6 166.4L-146.1 167.4L-147.9 169.4L-148.6 170.6L-149.3 171.9L-148.6 173.5L-147.3 174.1L-148.9 174.5L-150.6 175.1L-152.0 175.1L-152.3 174.6L-154.9 174.6L-155.7 175.8L-157.6 175.5L-157.7 177.0L-156.6 178.5L-155.7 179.5L-157.1 179.7L-156.9 180.7L-157.7 182.1L-159.6 181.6L-160.3 180.0L-159.9 179.0L-161.1 178.0L-162.5 176.7L-163.5 175.3L-163.3 173.3L-165.0 172.1L-167.2 171.1L-169.2 170.2L-170.6 169.1L-171.8 167.4L-173.3 167.7L-173.1 166.5L-175.5 167.0L-175.3 169.1L-173.5 170.1L-172.3 171.9L-169.2 172.9L-167.6 174.5L-165.0 176.0L-166.0 175.8L-167.6 175.3L-168.2 176.8L-167.4 177.9L-168.4 179.0L-169.8 179.7L-169.8 179.0L-169.2 177.9L-170.1 176.2L-172.0 175.0L-174.3 174.0L-175.7 173.1L-177.7 171.9L-178.9 170.2L-179.7 169.2L-181.3 168.7L-183.6 169.7L-186.2 170.9L-188.2 170.4L-190.4 170.6L-191.1 172.1L-190.9 172.9L-192.6 173.8L-195.0 174.8L-196.8 177.0L-196.1 178.4L-197.2 179.0L-197.5 180.2L-199.7 181.6L-203.8 181.7ZM403.2 182.9L402.0 182.1L400.2 180.9L397.5 181.2L396.6 178.4L397.6 175.8L398.0 174.1L397.0 171.1L399.2 169.9L403.4 170.1L406.8 170.2L410.2 170.2L410.7 168.4L410.8 166.7L409.0 164.0L405.1 163.0L404.6 162.0L406.8 161.3L410.0 161.6L409.5 159.8L410.7 160.3L412.9 160.1L415.2 159.1L415.7 157.7L418.1 157.1L419.5 155.9L420.7 154.2L422.0 153.7L424.5 153.3L427.1 153.2L427.4 152.0L427.2 149.9L426.4 148.3L426.7 147.2L430.6 146.2L430.1 148.3L429.6 149.9L429.3 151.1L431.3 152.5L433.8 151.8L436.7 152.7L440.6 151.6L444.0 151.1L444.7 152.0L446.2 151.8L448.2 150.5L448.2 147.8L449.2 146.6L450.9 146.2L451.9 147.4L453.3 147.2L454.0 145.2L452.5 144.5L452.3 143.7L454.7 143.2L460.1 143.0L463.8 142.5L460.9 141.3L456.7 141.7L455.0 142.0L451.4 142.5L448.7 141.2L449.1 139.0L448.6 137.3L450.8 135.9L454.1 134.2L455.7 133.7L453.6 132.5L449.9 132.9L448.7 134.2L447.4 135.9L444.0 137.6L442.0 139.0L441.8 140.6L442.3 141.5L444.7 142.7L443.2 144.0L441.0 145.7L440.6 147.8L439.8 148.8L436.9 149.8L434.7 150.1L434.0 148.8L433.0 146.9L432.7 146.2L431.6 144.0L430.6 142.8L430.0 144.0L426.6 145.6L424.5 145.7L422.2 144.4L421.2 141.5L421.2 139.0L423.7 137.6L427.1 136.4L430.5 134.7L433.0 133.0L434.7 131.3L437.2 129.7L439.8 127.5L444.8 125.8L449.1 125.1L453.3 124.1L456.3 123.4L460.9 123.7L465.1 124.8L463.5 125.8L468.5 126.3L473.6 126.8L477.8 128.1L482.1 130.2L482.4 131.3L480.4 132.0L477.0 132.0L471.9 131.3L467.7 130.3L470.2 132.2L471.6 133.9L471.9 134.9L475.3 135.6L476.6 133.9L480.0 134.6L481.2 134.6L480.4 132.9L483.8 131.5L487.1 131.9L487.1 130.2L487.1 128.0L490.5 128.5L491.4 130.5L493.6 129.5L495.6 128.8L502.4 128.0L504.1 128.5L507.4 127.8L512.5 127.3L515.0 125.8L521.8 126.6L526.0 127.5L528.6 128.5L526.0 126.3L525.7 123.7L528.6 121.2L531.1 119.8L535.3 120.7L535.9 123.7L535.3 126.3L537.0 128.0L535.3 130.5L534.5 131.9L537.9 130.5L537.9 127.5L538.7 123.7L538.7 120.7L543.0 121.7L544.7 122.9L552.3 124.6L548.9 122.0L548.9 119.5L558.2 118.7L559.9 117.0L570.0 115.3L580.2 114.4L589.1 112.4L593.7 113.6L602.2 114.4L604.7 116.1L598.8 118.3L603.9 119.2L612.3 119.5L620.8 119.0L627.5 119.5L630.9 120.7L632.6 123.7L637.7 122.9L644.5 122.9L649.5 121.2L659.7 121.5L666.5 122.6L669.8 123.9L680.0 123.9L684.2 125.9L691.8 126.3L700.3 125.4L702.0 126.8L710.4 125.8L717.2 127.3L722.3 128.3L727.4 129.7L734.6 132.0L729.9 134.4L728.2 135.1L725.7 134.2L718.9 131.9L715.5 133.9L713.0 134.4L715.5 137.3L716.0 138.5L708.7 139.3L702.0 142.3L694.4 142.5L690.1 142.7L689.0 144.9L686.8 145.7L689.0 148.6L686.8 151.1L683.4 153.8L680.8 155.5L677.8 157.6L675.9 154.2L676.1 150.8L677.5 147.4L680.0 145.4L683.4 142.3L686.8 140.6L690.1 138.1L683.4 139.8L678.3 139.8L674.9 143.4L668.1 143.2L659.7 143.5L654.6 143.5L650.4 145.7L647.0 147.4L644.5 151.3L645.3 152.8L649.5 153.3L651.7 154.0L651.2 155.9L650.4 158.4L650.2 161.8L647.0 164.7L642.8 168.0L638.5 171.3L635.8 170.9L633.8 172.3L632.3 174.5L629.2 176.2L628.4 177.3L629.9 178.7L631.6 181.2L631.6 183.8L630.9 184.4L628.4 185.1L626.5 185.5L626.7 182.9L627.2 181.2L624.7 179.9L624.2 178.5L624.5 177.0L623.0 176.2L619.1 177.9L617.9 178.2L618.7 175.7L617.4 174.6L614.4 177.0L612.0 177.7L613.2 179.5L614.0 180.7L617.1 179.9L619.9 180.7L617.4 182.1L614.9 184.1L616.2 186.3L617.4 188.8L618.7 191.4L619.1 193.1L618.2 194.8L618.2 196.5L615.7 199.0L614.5 200.7L612.3 202.4L610.1 204.6L605.9 206.1L601.3 207.4L599.3 208.0L599.1 209.5L598.3 207.4L595.7 207.3L593.2 209.1L591.7 211.7L592.9 213.7L594.6 215.9L596.8 217.8L597.6 221.0L597.4 223.8L594.6 226.0L592.9 227.7L590.3 229.3L590.0 227.2L587.8 225.9L586.1 223.5L583.6 222.3L582.7 221.0L581.9 222.2L581.5 225.2L580.5 227.7L582.2 229.4L582.7 231.6L584.9 232.8L586.9 234.5L587.8 237.0L587.8 239.6L589.0 241.4L587.6 241.3L584.1 239.1L582.5 234.8L582.0 232.8L579.0 230.3L579.0 227.2L579.5 223.5L578.5 220.1L577.8 216.2L575.9 215.9L573.9 217.1L572.2 216.4L572.4 213.4L571.0 210.5L568.8 208.3L568.0 205.9L565.8 206.1L563.3 206.9L560.2 207.6L559.5 209.1L556.8 210.7L555.1 212.5L551.9 215.6L548.5 217.6L548.4 221.3L547.9 225.2L546.7 227.2L545.0 228.8L543.8 230.1L541.8 227.2L540.6 224.0L539.2 221.5L538.2 218.4L536.7 214.5L535.9 211.7L535.7 208.3L535.0 206.9L532.5 208.6L529.4 206.1L531.5 204.9L528.6 203.9L526.0 201.9L525.2 200.8L521.0 201.0L516.7 201.2L512.5 200.8L509.5 200.0L508.8 198.0L504.9 198.8L501.5 197.1L499.0 195.1L497.6 193.1L495.3 192.6L493.9 193.9L495.1 196.1L497.3 198.5L497.6 200.3L499.3 199.7L500.0 201.5L499.8 202.7L504.1 203.0L507.4 200.2L508.1 199.3L508.3 201.9L511.8 203.9L513.9 205.8L511.7 209.1L510.3 211.7L507.4 213.5L504.9 215.1L501.0 217.4L495.6 220.0L488.8 222.2L486.3 222.3L485.1 218.8L484.9 216.1L482.1 211.7L479.0 207.4L477.0 203.2L475.0 199.8L471.9 196.3L471.9 193.9L470.9 196.5L469.5 195.4L467.8 193.2L467.3 191.0L470.2 190.9L471.1 190.4L471.9 188.0L472.9 185.5L473.6 182.9L473.9 181.7L471.2 181.7L468.5 182.8L466.8 181.9L464.5 181.6L462.6 182.6L460.1 181.7L458.9 180.4L457.5 178.7L458.0 177.0L457.0 176.2L459.2 175.5L461.8 175.3L461.8 174.3L465.7 174.1L469.4 172.8L472.2 172.8L474.4 174.0L477.8 174.5L482.9 173.6L482.9 171.9L479.9 170.2L477.0 168.7L475.8 167.2L477.3 165.8L479.2 164.0L477.0 164.2L474.4 164.8L471.9 165.7L472.4 167.2L474.4 167.2L472.4 167.9L470.2 168.7L469.4 167.7L467.8 167.0L469.5 165.8L466.8 165.0L465.1 165.0L463.5 166.4L462.9 167.4L461.1 169.4L460.4 170.6L459.7 171.9L460.4 173.5L461.8 174.1L460.1 174.5L458.4 175.1L457.0 175.1L456.7 174.6L454.1 174.6L453.3 175.8L451.4 175.5L451.3 177.0L452.5 178.5L453.3 179.5L451.9 179.7L452.1 180.7L451.3 182.1L449.4 181.6L448.7 180.0L449.1 179.0L447.9 178.0L446.5 176.7L445.5 175.3L445.7 173.3L444.0 172.1L441.8 171.1L439.8 170.2L438.4 169.1L437.2 167.4L435.7 167.7L435.9 166.5L433.5 167.0L433.7 169.1L435.5 170.1L436.7 171.9L439.8 172.9L441.5 174.5L444.0 176.0L443.0 175.8L441.5 175.3L440.8 176.8L441.6 177.9L440.6 179.0L439.3 179.7L439.3 179.0L439.8 177.9L438.9 176.2L437.1 175.0L434.7 174.0L433.3 173.1L431.3 171.9L430.1 170.2L429.3 169.2L427.8 168.7L425.4 169.7L422.9 170.9L420.8 170.4L418.6 170.6L417.9 172.1L418.1 172.9L416.4 173.8L414.1 174.8L412.2 177.0L412.9 178.4L411.9 179.0L411.5 180.2L409.3 181.6L405.3 181.7ZM402.7 183.3L403.7 183.1L407.6 184.1L409.3 184.4L411.7 183.3L417.8 181.6L422.0 181.6L425.4 181.2L429.3 180.7L431.3 181.2L430.1 182.2L430.6 183.8L431.3 186.0L429.8 186.5L431.3 187.5L432.2 187.8L435.0 188.2L438.6 189.2L439.3 190.5L442.3 191.5L444.8 192.6L446.5 191.4L446.5 189.5L449.4 188.2L451.9 188.8L453.3 189.7L455.3 190.4L459.2 191.0L461.8 191.5L463.3 191.0L465.1 190.5L467.3 191.0L467.8 193.2L468.0 195.1L469.9 197.8L471.1 200.2L472.8 203.2L473.1 204.9L475.1 206.6L475.6 208.3L475.8 210.8L477.8 213.4L479.5 217.4L482.1 219.3L484.4 221.8L486.0 222.7L485.8 224.2L488.0 226.2L488.8 226.2L492.2 225.0L495.6 224.7L499.3 223.8L499.0 226.2L498.1 228.6L496.4 231.1L494.7 234.5L492.2 237.4L489.3 240.4L486.3 243.3L483.8 245.5L482.1 247.2L480.7 248.5L479.9 250.6L478.7 253.9L479.2 255.3L479.5 258.2L480.9 261.2L481.4 264.9L481.7 268.3L480.4 271.2L477.8 273.1L475.1 274.2L472.4 277.1L471.7 277.3L472.4 280.2L472.8 283.5L471.9 285.6L468.5 286.9L467.8 287.8L468.4 290.3L467.5 292.3L465.1 294.4L463.5 296.7L460.9 298.9L459.9 299.6L457.5 301.0L456.0 301.3L452.5 301.5L449.9 301.6L446.5 302.6L444.7 302.0L443.8 301.1L443.2 299.3L443.7 297.4L442.0 294.5L440.6 292.2L438.4 289.1L437.9 286.1L437.2 282.7L435.5 279.3L433.5 275.4L432.7 273.1L432.7 270.5L433.8 266.6L435.5 264.6L436.0 262.4L435.0 258.7L434.4 255.6L433.5 253.9L433.0 252.3L431.6 250.6L429.3 248.0L427.9 245.5L427.6 245.0L428.8 243.3L428.4 241.8L429.3 239.9L429.3 238.2L428.8 237.2L427.4 236.2L424.5 236.4L422.9 236.5L421.2 234.0L420.3 233.1L418.5 233.0L415.2 233.5L412.4 234.3L409.3 235.7L407.3 235.2L404.2 235.0L400.0 236.4L397.0 234.5L394.4 233.1L391.6 231.3L390.2 229.4L389.9 227.7L387.7 225.5L385.6 223.8L384.3 222.8L384.3 221.1L383.1 218.9L384.8 216.7L385.1 213.4L385.3 210.8L383.9 208.5L384.1 206.9L385.6 203.7L387.5 201.5L388.2 199.5L390.4 197.0L393.2 195.4L395.4 194.1L396.3 192.4L396.1 190.5L397.1 188.7L399.8 187.0L401.2 186.3L402.2 184.3ZM653.8 261.9L655.5 265.4L656.0 268.3L658.5 269.2L659.3 272.5L660.2 275.8L664.4 278.3L665.3 279.8L667.8 283.0L669.0 284.4L671.9 286.1L671.7 287.8L671.9 290.3L672.5 292.2L671.5 295.4L670.7 298.3L668.7 301.1L666.8 304.7L666.5 307.2L663.1 307.9L660.2 309.9L658.0 308.1L655.5 309.4L651.2 308.2L649.2 306.4L648.7 304.3L647.0 303.0L645.8 303.3L644.5 303.3L645.8 300.4L645.8 298.9L642.8 302.6L639.7 299.6L638.5 298.3L634.7 297.1L630.9 297.4L626.7 298.4L622.5 299.6L621.6 301.1L615.7 301.3L612.3 303.0L608.9 303.0L607.4 301.8L608.4 297.9L607.2 295.4L606.6 292.5L605.0 288.8L604.5 285.2L605.2 281.8L605.9 280.7L608.9 279.1L613.3 278.1L617.4 276.9L619.4 274.2L620.6 271.7L623.3 271.4L624.2 269.2L627.2 267.5L629.2 268.8L631.8 269.0L634.0 264.8L637.0 263.1L641.1 264.4L644.1 264.4L642.8 267.1L641.9 269.2L645.3 271.2L648.4 273.4L651.1 273.4L652.1 269.2L652.4 265.8L653.1 262.4ZM57.4 359.3L65.9 360.5L74.4 362.2L82.8 363.5L91.3 364.7L93.0 366.4L89.6 368.1L84.5 370.6L81.1 373.2L82.8 374.9L86.2 375.7L99.7 376.0L108.2 376.2L108.2 376.2L133.6 376.2L145.4 374.3L158.9 373.2L167.4 371.5L184.3 369.8L201.2 368.6L218.2 368.9L235.1 370.3L243.5 367.2L252.0 367.2L263.8 367.2L277.4 368.1L285.8 366.4L294.3 365.6L297.7 360.5L299.4 357.9L302.7 355.4L306.1 353.4L311.2 351.2L316.3 350.8L313.7 352.9L310.4 355.4L307.8 357.1L304.4 359.6L307.8 363.0L309.5 366.4L310.4 369.8L319.7 372.3L328.1 374.9L341.6 375.7L351.8 375.7L356.9 374.0L365.3 372.3L370.4 369.8L378.9 367.6L387.3 366.4L395.8 363.9L404.2 363.5L412.7 362.2L421.2 362.5L429.6 362.2L438.1 361.8L446.5 362.2L455.0 362.5L463.5 361.3L468.5 360.1L475.3 361.3L480.4 360.5L488.8 358.4L497.3 357.1L505.7 355.4L510.8 357.1L517.6 357.9L527.7 358.4L531.1 359.6L534.5 361.3L539.6 361.3L544.7 359.3L551.4 357.6L559.9 356.8L565.0 356.6L573.4 356.3L581.9 355.1L590.3 355.9L598.8 355.4L607.2 356.3L615.7 356.8L624.2 355.9L632.6 355.4L641.1 355.4L649.5 356.6L658.0 357.1L666.5 359.3L674.9 360.5L683.4 362.2L691.8 363.5L700.3 364.7L702.0 366.4L698.6 368.1L693.5 370.6L690.1 373.2L691.8 374.9L695.2 375.7L708.7 376.0L717.2 376.2L717.2 376.2L742.6 376.2L754.4 374.3L768.0 373.2L768.0 399.4L57.4 399.4ZM371.3 133.0L374.6 131.5L378.9 132.0L385.6 131.3L388.2 132.5L389.7 133.9L387.3 135.1L381.4 136.6L378.0 136.4L374.3 135.9L375.5 134.9L372.1 134.1L375.5 133.2ZM403.1 159.1L406.8 158.7L410.2 158.1L414.9 157.2L413.9 156.7L415.6 154.9L413.2 154.2L412.5 153.2L410.7 151.5L410.0 149.9L408.5 149.1L409.3 146.2L406.8 146.2L405.9 146.4L407.6 144.7L404.2 144.7L402.9 146.6L403.2 148.6L404.2 149.9L404.6 151.1L406.9 151.0L407.6 152.5L407.5 153.7L405.1 153.7L405.6 155.0L403.9 156.0L406.8 156.7L407.6 157.2L405.4 157.4ZM395.8 156.2L398.3 156.5L402.0 155.5L402.5 153.3L402.9 151.5L401.7 150.5L398.8 150.5L398.3 151.8L395.8 152.1L396.6 153.7L396.1 155.0ZM431.3 110.5L438.1 108.9L446.5 107.8L458.4 108.2L455.0 109.7L448.2 110.9L449.9 112.6L441.5 114.1L436.4 112.7ZM500.3 122.9L502.4 121.2L505.7 118.7L509.1 116.6L515.0 115.1L522.7 113.9L529.1 113.6L527.7 114.9L519.3 116.5L514.2 118.3L510.8 120.9L510.0 123.4L506.6 124.4L501.5 123.7ZM573.4 110.2L581.9 108.5L588.6 109.7L590.3 111.4L581.9 111.9L575.1 111.4ZM644.5 116.5L651.2 115.3L658.0 116.1L666.5 116.6L663.1 117.3L654.6 117.1L647.8 117.5ZM308.7 131.0L305.3 133.9L300.2 136.8L302.7 139.0L296.8 137.8L290.9 136.1L286.7 134.6L281.1 134.9L280.7 133.2L286.7 132.9L287.9 131.2L289.5 129.7L284.1 128.0L279.1 125.8L274.8 125.4L267.2 124.9L262.1 124.1L261.3 122.0L263.8 119.2L268.9 119.0L274.8 119.5L280.7 120.7L286.7 122.4L292.6 124.1L297.7 125.8L299.4 127.8L305.3 129.2ZM214.8 125.8L218.2 122.9L212.2 120.9L219.8 119.8L230.0 120.0L235.1 120.9L240.1 123.7L241.0 126.3L235.1 127.3L226.6 127.8L218.2 126.8ZM200.4 122.0L203.8 118.3L209.7 118.0L216.5 119.8L213.1 121.7L208.9 123.1L203.8 123.4ZM281.6 114.4L277.4 114.8L263.8 114.4L261.3 112.7L267.2 111.4L263.8 110.2L268.1 108.0L258.8 106.5L267.2 104.8L285.8 103.3L302.7 103.6L307.8 104.8L299.4 106.8L292.6 109.0L285.0 110.2L285.8 111.9L279.9 113.3ZM277.4 117.5L257.9 117.3L256.2 114.9L262.1 114.8L275.7 115.6L278.2 116.6ZM252.8 111.6L250.3 108.5L257.1 106.5L264.7 108.0L263.8 110.2L258.8 111.4ZM214.8 116.6L223.2 114.8L233.4 115.3L232.5 117.0L226.6 117.7L219.8 117.7ZM236.8 116.1L243.5 114.3L247.8 115.6L242.7 117.0ZM239.3 121.2L245.2 118.7L248.6 119.8L248.6 122.4L243.5 122.9ZM250.3 120.7L252.0 118.5L259.6 118.7L259.9 120.9L254.0 122.0ZM265.5 132.9L270.6 131.9L275.7 134.7L276.5 136.3L271.4 137.6L265.5 136.3ZM312.4 163.1L315.4 158.1L318.3 156.5L318.8 159.2L322.2 160.4L323.5 163.5L321.7 164.8L318.3 164.3ZM195.7 158.1L200.7 158.9L203.8 161.8L201.2 161.4L197.0 159.2ZM148.8 210.5L149.6 209.6L150.8 210.8L149.5 211.8ZM268.9 206.8L272.3 204.9L276.5 204.6L282.1 207.1L285.0 208.8L287.2 209.6L281.6 210.1L281.3 209.0L279.1 207.4L274.8 206.4L272.6 205.8L270.6 206.9ZM286.8 212.5L289.5 210.1L294.3 210.1L297.0 212.2L294.3 213.0L291.6 213.9L290.1 212.9ZM496.1 264.1L498.1 270.0L496.4 273.4L495.3 277.6L493.1 284.4L490.5 286.8L488.8 286.9L486.3 283.5L486.3 280.2L487.6 277.3L487.1 273.4L489.7 270.7L493.1 268.8L494.7 266.3ZM548.0 227.2L550.2 229.4L551.1 232.0L549.7 233.5L548.4 233.7L547.7 231.1ZM652.1 174.0L652.9 177.0L651.2 179.5L650.9 182.1L649.5 184.3L647.5 185.1L644.5 185.3L644.1 186.3L642.4 187.2L641.1 185.3L637.7 185.8L634.3 186.3L635.2 185.1L637.4 183.8L641.9 183.6L644.1 181.6L644.8 180.4L647.0 180.6L648.7 178.7L649.5 176.2L650.0 174.1ZM649.5 173.6L651.2 171.9L655.0 172.8L659.0 170.6L658.3 168.9L654.6 168.9L652.6 166.9L652.2 170.2L650.0 170.7ZM634.1 186.5L635.7 187.7L635.2 190.0L633.8 191.2L633.0 189.3L632.1 187.7ZM636.9 186.5L640.2 186.0L639.9 187.2L637.7 188.3L636.5 187.5ZM652.9 152.0L654.6 154.2L655.1 157.6L655.0 160.4L654.3 163.5L655.5 165.5L652.9 166.0L652.9 162.6L653.3 158.4L652.4 155.0ZM618.2 201.2L619.1 201.9L617.2 206.6L615.9 204.9L617.4 201.5ZM596.6 211.3L599.6 210.0L600.5 210.8L598.8 212.9L596.6 212.3ZM616.5 212.5L619.4 212.7L619.1 215.9L618.2 218.4L619.9 220.1L622.5 220.5L622.5 222.5L620.4 221.0L618.2 220.6L616.7 219.6L615.7 216.7L616.4 214.2ZM619.1 232.0L621.6 229.3L625.0 227.2L626.7 230.3L626.2 233.1L625.0 234.3L622.5 233.3L621.6 231.1ZM611.0 229.6L614.9 224.7L614.0 226.9L612.0 229.3ZM623.0 222.7L625.0 222.7L625.3 225.2L623.8 226.6L623.1 224.9ZM620.4 225.4L621.6 226.0L621.1 228.4L619.9 227.2ZM597.1 241.3L597.9 240.4L601.3 239.2L603.9 238.2L606.4 235.7L608.9 232.3L611.0 232.0L614.0 234.8L612.3 236.5L612.0 238.7L614.0 242.1L612.0 242.4L611.5 245.2L609.3 247.2L608.9 250.6L606.4 250.7L603.9 249.2L601.3 249.4L599.1 248.4L598.8 246.0L597.1 244.3ZM573.9 234.3L577.6 235.0L579.7 237.4L582.7 240.1L585.3 242.1L587.8 243.8L589.5 246.3L592.0 248.9L591.7 253.6L589.5 253.6L586.1 250.9L583.6 248.0L582.4 245.5L580.2 243.0L578.5 240.1L575.9 237.5ZM590.7 255.3L592.9 253.9L596.2 255.0L600.5 254.8L603.5 255.5L606.4 256.8L606.2 258.5L601.3 257.8L596.2 257.0L592.7 256.3ZM615.4 242.4L617.4 241.6L621.6 242.3L624.2 241.1L623.3 243.1L618.2 243.0L615.7 245.2L618.2 245.5L621.3 245.3L619.1 247.2L620.4 250.6L620.8 253.1L619.1 251.9L617.4 248.9L616.5 250.6L616.4 253.3L614.9 253.1L614.9 249.7L613.7 248.4L615.4 244.0ZM610.3 258.2L614.2 257.8L613.7 258.7L610.6 259.0ZM615.5 258.0L620.8 257.8L620.4 258.5L615.7 258.8ZM614.0 259.9L617.1 260.5L615.7 261.2ZM621.6 261.2L624.2 259.0L628.1 258.0L626.7 259.5L623.3 261.0ZM628.4 240.6L629.6 241.3L630.6 243.3L629.2 245.2L628.7 243.0ZM629.2 249.0L634.0 249.2L633.5 250.1L629.7 249.7ZM625.9 249.2L627.9 249.4L627.0 250.2ZM634.3 245.2L636.9 244.5L639.4 245.2L641.1 249.4L643.6 247.5L646.2 246.5L651.2 248.2L657.2 250.2L659.3 252.3L662.7 253.9L661.7 255.3L663.9 259.0L667.3 261.0L665.6 261.4L662.2 260.7L659.7 257.8L657.2 256.8L655.1 258.0L653.8 259.4L651.2 259.2L648.7 257.5L646.2 258.0L647.5 255.6L646.2 253.1L642.8 251.6L638.5 250.6L637.4 249.4L639.4 248.0L636.5 248.5L634.8 246.3ZM663.6 253.3L666.5 252.6L669.0 250.9L670.3 251.1L669.0 253.3L666.5 254.3ZM690.1 278.0L692.7 279.3L695.2 281.5L693.5 281.0L690.6 279.0ZM103.6 273.4L105.8 273.6L105.1 274.6L103.6 274.2ZM712.6 273.4L714.8 273.6L714.2 274.6L712.6 274.2ZM95.8 302.0L98.9 305.2L101.1 306.0L101.4 307.4L104.8 307.4L105.7 307.6L104.5 310.1L103.1 310.6L102.9 312.3L100.2 314.1L99.4 313.6L99.9 311.8L97.7 310.3L99.2 308.4L98.9 306.4L96.7 303.3ZM704.9 302.0L707.9 305.2L710.1 306.0L710.4 307.4L713.8 307.4L714.7 307.6L713.5 310.1L712.1 310.6L712.0 312.3L709.3 314.1L708.4 313.6L708.9 311.8L706.7 310.3L708.2 308.4L707.9 306.4L705.7 303.3ZM95.8 312.3L98.6 314.3L96.4 316.9L96.0 317.9L93.5 318.9L92.6 321.4L90.4 322.6L88.4 322.6L85.4 321.6L86.2 319.6L88.7 318.0L92.1 316.2L93.8 314.3L95.0 312.6ZM704.9 312.3L707.6 314.3L705.4 316.9L705.0 317.9L702.5 318.9L701.6 321.4L699.4 322.6L697.4 322.6L694.4 321.6L695.2 319.6L697.8 318.0L701.1 316.2L702.8 314.3L704.0 312.6ZM657.5 312.6L660.5 313.3L663.6 313.0L663.6 315.2L662.2 316.9L660.2 317.5L658.5 315.7ZM426.6 177.9L426.9 174.8L428.3 174.1L429.1 175.3L428.9 177.5L427.9 177.9ZM427.2 172.9L427.4 171.8L428.6 171.1L428.8 172.8L428.3 173.8ZM433.8 179.5L439.1 179.2L438.2 181.7L433.8 180.2ZM431.3 149.6L433.8 149.1L433.7 150.5L432.5 150.6ZM204.6 114.9L213.1 113.1L216.5 114.4L209.7 115.6ZM233.4 111.9L243.5 110.2L246.9 111.9L238.5 112.7ZM246.9 111.1L252.0 110.5L249.5 112.1ZM244.4 126.8L248.6 125.6L251.1 127.1L247.8 128.0ZM249.5 117.0L253.7 116.0L254.5 117.3ZM275.7 119.8L280.7 119.2L283.3 120.5L278.2 121.0ZM276.9 138.5L278.5 139.0L277.4 139.6ZM281.6 129.2L285.0 128.8L283.8 130.0ZM221.5 112.2L226.6 112.1L224.1 113.3ZM220.7 111.1L226.6 110.7L224.1 111.6ZM243.5 108.5L246.1 108.2L245.2 109.0ZM233.4 113.1L235.9 112.6L235.1 113.6ZM231.7 119.7L235.1 119.2L234.2 120.4Z" fill="#c0c0c0" fill-opacity="0.2" stroke="#000" stroke-width="0.6" stroke-linejoin="round"/>
<path d="M492.2 167.7L495.6 165.2L499.8 164.7L502.4 165.2L502.4 167.4L499.5 167.7L499.0 168.9L497.8 168.9L499.3 170.7L501.9 173.3L502.4 174.8L504.9 174.0L502.7 177.0L504.1 180.4L500.7 181.6L497.8 180.7L495.6 179.0L496.1 175.7L497.8 175.7L496.1 173.6L493.4 171.1L492.2 168.9ZM511.7 168.6L513.4 165.5L516.7 165.2L515.9 168.6L513.4 169.9ZM466.3 245.5L466.8 243.5L469.4 243.1L471.1 244.3L470.2 246.3L469.4 248.0L466.8 248.4ZM462.1 249.5L462.9 251.9L464.8 257.7L464.0 256.5L462.3 253.1ZM470.2 260.0L471.4 263.2L471.9 267.1L471.1 265.8L470.6 263.2ZM257.1 164.7L261.3 162.6L263.8 161.3L268.1 162.8L269.4 165.0L265.5 165.2L263.0 164.5L259.6 164.8ZM264.2 172.8L264.0 170.2L265.5 166.9L268.1 166.0L268.9 166.7L266.7 169.4L266.7 171.9L265.5 173.3ZM269.8 166.0L274.0 165.7L277.4 167.4L276.5 168.6L274.5 168.4L274.3 170.7L273.1 170.9L270.9 169.9L271.8 167.5ZM271.6 173.1L274.8 173.5L279.1 171.8L279.1 171.3L275.7 171.6L272.3 172.6ZM277.7 170.6L281.6 170.6L283.8 169.7L283.3 169.1L280.7 169.4L278.2 169.9ZM245.4 152.8L247.3 152.7L249.6 158.4L248.6 158.6L246.1 155.4ZM203.8 132.2L208.0 130.5L213.1 131.5L211.4 133.4L207.2 133.5ZM214.8 140.6L218.2 138.5L224.1 137.6L227.5 137.9L223.2 139.8L219.0 140.3ZM588.3 156.5L591.2 155.9L594.6 154.2L597.9 150.8L598.6 149.4L596.8 150.5L594.2 153.0L590.8 154.7ZM537.0 166.9L539.6 164.8L545.5 164.8L546.3 165.7L540.4 165.7L538.2 167.7ZM464.8 142.3L466.0 139.8L468.5 140.6L467.7 142.0ZM471.6 140.6L472.4 137.9L474.1 139.3L473.3 140.6Z" fill="#ffffff" fill-opacity="0.18" stroke="#000" stroke-width="0.5"/>
<path d="M534.5 131.9L529.4 131.5L525.2 131.3L523.5 133.5L524.0 136.4L528.6 139.8L530.3 141.0L536.2 140.3L542.1 140.6L546.3 142.3L550.6 144.9L555.1 147.1M537.9 129.7L543.8 129.8L546.0 129.3L548.0 131.3M552.3 124.6L554.0 126.3L559.0 129.7L561.6 132.5L565.5 135.9L566.0 139.8M603.9 119.2L598.8 119.8L592.0 121.2L586.1 122.0L581.5 123.2M627.5 121.0L628.1 124.1L623.3 127.1L621.6 130.0L623.3 132.5L625.9 135.1L630.9 137.3L632.1 139.0L626.7 140.6L619.1 141.7L616.4 141.7L610.6 140.8L607.1 141.2L603.2 143.0M625.9 135.1L621.6 135.6L618.4 135.9L613.3 136.3M631.6 136.8L636.0 136.8L639.4 137.4L641.4 139.3L641.1 141.0M665.6 123.1L663.1 125.4L662.2 127.5M685.6 126.3L681.7 128.0L674.9 129.7L672.4 132.2M327.3 245.2L323.9 246.3L318.5 247.7L313.7 249.2L309.5 249.2L304.4 249.5L300.4 248.9L296.8 249.5L293.6 250.2L289.0 249.4M185.2 127.1L186.5 129.7L191.9 131.3L196.2 133.4L201.2 135.1L203.8 138.1L208.9 140.1L213.9 140.5M504.1 128.5L501.5 129.5L502.4 130.8L505.7 132.2L509.1 133.0M482.9 146.4L487.1 148.1L491.4 148.9L495.6 149.9L496.4 151.6M617.4 190.0L614.0 189.3L611.5 191.4L608.1 193.1L606.1 192.2M650.4 154.2L649.5 156.7L646.2 158.7L643.6 160.1L641.4 161.8" fill="none" stroke="#000" stroke-width="0.6" stroke-linejoin="round"/>
<path d="M174.2 126.0L174.2 141.8L177.4 142.2L180.1 144.2L181.8 143.2L184.3 143.2L187.0 145.0L189.7 147.9L192.8 149.1L192.6 151.0M204.3 160.9L251.7 160.9L252.3 160.4L255.4 161.6L258.8 162.5L261.3 162.6L263.3 162.1L269.2 164.7L269.9 165.2L271.4 166.4L273.1 167.2L273.3 171.1L272.1 172.4L273.1 173.3L279.1 171.4L279.1 170.6L280.7 170.1L283.3 169.2L286.3 167.7L291.7 167.7L292.9 167.2L293.8 165.7L295.6 163.6L297.2 163.8L298.0 164.2L298.0 166.4L298.7 167.4L299.4 167.9M214.6 188.8L218.7 188.5L218.5 188.8L224.9 190.9L229.7 190.9L229.7 190.0L232.5 190.0L235.2 192.1L236.1 193.7L238.3 194.8L239.3 193.4L241.2 193.4L243.0 195.9L244.4 197.3L245.1 199.2L248.3 200.0M256.7 219.3L256.7 217.9L257.6 216.6L259.8 216.6L258.8 214.7L258.8 213.7L261.8 213.7L261.8 216.7L262.3 216.9M261.8 213.7L263.3 212.5M263.5 217.3L261.8 219.4L260.3 220.5M261.6 219.4L263.0 220.1L264.2 221.1M265.0 221.8L266.0 220.5L267.7 220.1L269.2 218.8L272.0 218.4M267.7 225.0L269.4 225.2L271.1 225.4M273.0 227.6L272.5 230.1M281.8 229.1L280.9 231.6M291.4 210.5L291.4 213.2M292.1 223.8L290.1 225.0L289.2 228.2L290.2 229.8L290.9 231.6L293.9 232.0L295.1 233.5L298.5 233.3L298.0 236.2L298.8 238.1L298.0 239.1L299.4 241.8M299.5 241.8L298.0 240.9L294.6 240.9L294.5 242.1L295.6 242.6L294.3 242.8L295.1 245.5L294.5 250.9M294.5 250.9L293.1 250.2L293.8 248.4L290.4 247.9L288.4 246.0L286.2 244.1L285.3 244.0M285.3 244.0L283.6 243.1L281.6 242.6L279.4 241.4M285.3 244.0L285.0 246.3L283.1 248.2L280.7 248.9L280.1 250.2L278.7 252.3L276.9 251.2L276.9 249.5M294.5 250.9L289.5 252.4L288.9 254.8L287.5 256.5L289.2 259.4L290.6 260.7L293.3 259.9L293.3 262.4L295.1 262.4M295.1 262.4L296.5 264.9L296.0 267.0L295.5 269.7L296.0 271.2L295.0 273.1L295.1 273.4M295.1 273.4L293.6 274.8M295.1 273.4L296.1 275.9L297.0 278.5L297.3 280.2L297.8 282.4L299.0 282.4M295.1 262.4L296.8 262.4L300.0 260.5L302.1 260.4L302.2 263.2L303.8 264.8L306.5 265.8L309.5 266.6L310.7 268.8L310.9 271.4L313.9 271.4L314.2 273.1L315.4 274.2L314.9 275.9L314.2 277.8M314.2 277.8L312.7 276.4L308.3 276.9L306.8 281.3M306.8 281.3L303.9 282.4L302.4 281.2L300.7 280.7L299.0 282.4M299.0 282.4L299.4 284.4L296.8 285.7L297.2 289.5L295.0 291.8L294.3 294.5L293.8 297.9L294.3 300.1L294.6 301.6L293.4 303.8L292.6 306.4L292.6 309.7L291.2 312.3L291.2 314.8L291.6 318.2L291.6 321.6L290.4 324.1L290.1 326.7L288.9 328.4L290.4 330.0L291.1 331.7L294.3 331.7L297.0 332.4M296.6 332.9L296.6 336.6M306.8 281.3L309.5 284.0L312.9 285.7L315.3 286.8L313.6 289.8L317.1 290.1L318.3 290.0L320.3 287.1M314.2 277.8L314.8 281.2L318.3 281.5L319.0 284.4L320.7 284.4L320.3 287.1M320.3 287.1L321.7 288.1L321.9 289.5L318.8 291.7L315.3 294.9M315.3 294.9L318.0 295.9L321.3 297.6L322.7 299.1L322.4 300.8M315.3 294.9L314.2 297.9L313.9 301.3M299.5 241.8L301.9 242.4L304.4 240.4L305.4 239.9L304.1 237.4L303.6 236.9L306.5 237.5L309.5 236.2L310.0 235.0M310.0 235.0L309.0 233.8L309.3 232.5L310.7 231.8L311.2 229.4M310.0 235.0L311.2 235.3L311.5 237.9L311.4 239.9L312.9 241.6L314.6 241.1L316.3 240.6L317.1 240.6M315.8 233.8L315.8 235.3L314.9 237.0L314.6 238.7L317.1 240.6M317.1 240.6L318.1 240.6L319.7 239.6L320.5 239.9M321.3 234.0L320.7 235.3L321.0 237.9L320.5 239.9M320.5 239.9L323.0 240.1L323.9 239.6L325.2 237.0M409.0 184.4L409.7 186.0L409.8 188.0L410.5 189.3L407.6 190.0L406.6 191.4L404.2 193.1L401.7 193.7L398.0 195.3L398.0 197.0M398.0 197.0L390.4 197.0M398.0 197.0L398.0 199.8L392.4 199.8L392.4 204.1L390.7 204.9L390.5 207.8L383.9 207.8M398.0 197.6L404.6 201.5M404.6 201.5L401.7 201.5L403.4 215.9L403.7 217.6L397.0 217.6L394.6 217.8L393.2 217.4L392.1 218.8M384.8 216.6L388.2 215.7L390.4 217.4L392.1 218.8M392.1 218.8L393.4 222.8M384.4 222.8L387.3 222.3L389.5 222.5L393.4 222.8M384.3 220.8L387.3 220.5L389.4 221.0L387.3 221.5L384.3 221.6M389.5 222.5L389.5 224.0L387.3 225.2M393.4 222.8L397.0 222.8L398.7 224.7L399.2 226.6M390.2 228.6L391.6 227.1L393.8 226.9L394.8 228.2L395.3 229.4M395.3 229.4L393.2 232.1M395.3 229.4L396.8 231.1L398.3 230.9M398.3 230.9L398.7 233.1L400.0 234.0L400.0 236.4M398.3 230.9L398.8 229.4L399.2 226.6M399.2 226.6L402.2 226.0L403.4 226.2M403.4 226.2L404.7 227.4L408.1 227.7M408.1 227.7L408.0 230.6L407.3 233.1L407.8 235.2M403.4 226.2L403.7 223.8L405.4 222.0L407.3 220.6L409.5 219.3L411.5 218.3L413.0 218.4M408.1 227.7L408.0 225.2L412.5 225.0M412.5 225.0L413.5 226.9L413.5 229.4L413.9 232.0L414.7 233.5M414.2 225.2L415.1 227.7L415.4 231.1L415.4 233.3M412.5 225.0L414.2 225.2L416.8 223.7M416.8 223.7L416.3 222.3L414.2 221.0L413.0 218.4M417.3 233.0L417.4 228.6L418.8 226.4L418.8 224.0M416.8 223.7L418.8 224.0M418.8 224.0L419.6 221.0L424.5 221.8L427.9 222.2L433.0 221.5L435.7 220.6M413.0 218.4L418.6 217.8L419.8 215.4L419.8 211.5M419.8 211.5L418.1 211.5L415.7 209.0L404.6 201.5M419.8 211.5L422.9 210.7L425.4 208.6L433.0 204.1M433.0 204.1L430.0 202.4L428.8 199.5L429.4 196.5L428.8 192.7M428.8 192.7L427.9 189.7L425.4 187.7L426.6 185.3L426.9 182.9L427.2 181.4M428.8 192.7L430.0 191.4L432.2 188.8L432.2 187.8M433.0 204.1L436.7 205.6L438.1 204.9M438.1 204.9L453.3 210.8M455.0 190.4L455.0 206.6M455.0 206.6L455.0 210.0L453.3 210.0L453.3 210.8M455.0 206.6L475.1 206.6M438.1 204.9L439.6 209.3L438.9 215.4L435.5 219.3L435.7 220.6M435.7 220.6L436.7 222.2L438.1 225.2L438.9 226.9L436.4 227.6L438.4 231.1M436.7 222.2L435.0 226.6L433.0 228.9L431.3 232.6L428.8 233.0L427.2 235.9M453.3 210.8L453.3 217.3L451.4 218.1L449.9 221.0L450.8 225.2L451.4 225.4M438.4 231.1L441.1 230.9L444.2 230.1L446.5 228.2L449.4 226.0L451.4 225.4M438.4 231.1L437.4 233.3L437.2 235.3L438.2 237.0L439.9 239.9L439.9 240.9M429.3 239.9L431.8 240.1L435.2 240.1L437.2 240.2L439.9 240.9M429.3 242.1L431.8 242.1L431.8 240.1M435.2 240.1L436.7 241.6L437.2 244.6L436.0 247.5L433.8 247.7L432.3 248.5L431.5 250.4M439.9 239.9L440.6 238.4L444.2 237.9M444.2 237.9L444.2 236.4L445.7 235.2L450.6 236.9L454.1 235.2L459.1 235.2M444.2 237.9L443.2 240.1L442.8 243.8L440.1 247.2L439.8 249.9L438.4 251.1L437.1 252.1L434.7 251.6L433.8 252.4L433.3 253.6M451.4 225.4L452.8 229.1L455.3 230.6L459.1 235.2M452.8 229.1L455.0 226.4L460.1 228.1L463.5 226.9L466.8 223.5L468.5 223.2L468.7 225.7L470.4 229.4M470.4 229.4L468.5 230.6L471.1 232.5L472.4 234.7L473.4 236.0M478.0 213.4L475.3 215.1L474.4 219.6M474.4 219.6L473.8 222.3L471.9 225.2L470.7 225.9L470.4 229.4M474.4 219.6L476.8 218.8L478.7 219.1L480.7 219.4L483.2 221.3L484.4 222.7L485.6 222.3M484.4 222.7L483.4 224.4L485.3 225.4L486.0 224.4M485.3 225.4L486.3 227.9L488.8 229.3L492.2 230.3L493.9 230.3L488.8 235.3L485.4 236.0L483.6 237.2M483.6 237.2L481.7 236.7L479.5 238.1L477.2 237.7L475.0 236.4L473.4 236.0M483.6 237.2L482.1 239.1L482.1 245.2L483.1 246.7M473.4 236.0L470.2 236.7L471.1 238.7L471.9 240.9L470.2 243.5L470.0 245.5M470.0 245.5L476.3 248.9L476.5 249.7L479.0 251.7M470.2 236.7L468.5 237.4L465.1 237.5L465.0 237.9M459.1 235.2L460.7 236.5L462.6 236.0L465.0 237.9M465.0 237.9L465.7 240.1L463.5 241.8L462.8 244.8L462.8 246.2M470.0 245.5L464.3 245.5M462.8 246.2L464.3 245.5L464.8 247.9L461.8 248.4L462.8 246.2M464.8 247.9L464.3 249.4L462.4 251.2L461.8 248.4M462.4 251.2L462.8 253.9L464.8 257.7M464.8 257.7L468.4 259.7M468.4 259.7L470.2 259.9L471.7 263.4M471.7 263.4L474.4 263.6L477.8 263.1L481.0 261.6M471.7 263.4L471.2 266.6L473.4 269.0L473.3 270.9L472.2 272.7L470.7 271.4L471.1 268.5L468.9 267.5M468.9 267.5L468.4 264.9L469.0 262.1L468.4 259.7M464.8 257.7L461.6 258.2L461.1 261.0L463.1 266.5L460.1 265.3L456.7 263.9L454.0 263.1L453.3 262.2L453.3 265.8L449.9 265.8M433.5 253.9L435.2 253.8L440.8 253.8L441.5 256.0L445.5 257.3L445.5 255.6L449.6 256.1L449.7 258.0L449.6 261.7L450.3 262.7L453.3 262.2M449.9 265.8L449.9 271.2L452.3 273.6M432.7 273.1L436.4 273.2L443.8 273.2L448.9 274.2L452.3 273.6L455.5 273.9M448.2 274.7L448.2 281.0L446.5 281.0L446.5 285.7M446.5 285.7L446.5 291.8L444.8 292.7L442.1 292.3L440.6 292.2M446.5 285.7L447.9 289.1L450.8 288.1L454.5 287.4L456.5 285.6L458.4 283.9L462.4 281.3M462.4 281.3L459.6 278.5L457.0 276.4L455.5 273.9M455.5 273.9L458.4 274.1L461.4 271.7L464.1 270.2M464.1 270.2L465.7 270.9L468.4 272.0L468.5 275.1L468.0 278.5L465.7 281.7M462.4 281.3L465.7 281.7M464.1 270.2L463.8 268.8L468.9 267.5M465.7 281.7L466.8 285.2L466.7 287.6M466.7 287.6L464.8 288.4L465.1 290.0L466.8 289.1L467.0 287.8L466.7 287.6M466.8 289.1L468.4 289.3M458.4 293.9L460.1 292.3L462.3 293.3L461.8 295.0L459.6 295.5L458.4 293.9M433.3 252.3L434.7 251.6M397.8 172.9L398.8 172.8L401.7 172.9L401.0 174.5L400.9 176.7L400.0 176.8L400.9 178.0L400.4 179.2L400.2 180.9M409.7 170.4L410.3 171.1L413.9 171.4L415.6 171.9L418.1 172.1M425.4 169.7L424.5 168.2L424.4 166.2M424.4 166.2L423.0 165.5L424.5 163.5L425.6 163.3M424.4 166.2L427.1 165.5L427.9 166.4L430.3 165.0M428.9 163.5L430.3 164.5L430.3 165.0M425.6 163.3L428.9 163.5M425.6 163.3L426.6 160.9L423.5 160.1M423.5 160.1L422.5 160.1L420.8 159.2L419.8 159.2L417.1 157.4M418.5 156.9L421.2 156.9L422.7 157.6L422.9 157.9M422.9 157.9L423.5 158.7L423.0 159.1L423.7 159.6L423.5 160.1M423.0 159.1L422.5 160.1M422.9 157.9L422.9 156.2L424.2 155.9L424.7 154.9L424.9 153.7M427.2 151.0L429.4 151.1M436.7 152.7L437.1 154.2L437.6 155.9L438.1 157.6L437.7 157.7M437.7 157.7L433.8 158.7L433.2 158.7L434.0 160.1L436.0 161.3M436.0 161.3L434.7 162.3L434.7 163.5L433.3 163.3L430.5 163.5L428.9 163.5M437.7 157.7L440.1 158.2L441.3 158.7L443.2 159.2L444.5 160.1M444.5 160.1L443.0 161.1L441.5 161.6M441.5 161.6L438.1 160.9L436.0 161.3M444.5 160.1L446.5 160.6L450.9 160.8M450.9 160.8L453.3 158.1L452.6 156.7M452.6 156.7L452.6 154.9L453.1 152.7L452.5 152.5M452.5 152.5L451.3 151.8M451.3 151.8L446.2 151.8M451.3 151.8L451.1 150.8L448.7 150.3M448.4 148.9L454.8 148.4L457.7 149.6M457.7 149.6L456.3 151.0L456.0 152.1L452.5 152.5M453.8 145.9L456.7 146.1L459.1 146.6M459.1 146.6L460.4 148.8L457.7 149.6M459.1 146.6L459.6 144.9L460.1 143.2M460.4 148.8L465.0 149.8L464.8 151.1L468.0 153.5L465.7 154.0L466.5 155.7M452.6 156.7L455.0 156.0L459.7 156.5L464.3 157.1L466.5 155.7M466.5 155.7L470.9 157.2L472.9 158.6L477.0 159.4L480.5 159.9L480.0 161.3L480.0 162.8L477.5 164.0M451.4 162.6L454.8 163.1L457.7 162.1M457.7 162.1L460.4 162.3L462.1 162.8L463.5 165.3L460.4 166.9L458.9 163.5L457.7 162.1M460.4 166.9L462.9 167.4M450.9 160.8L450.3 162.0M450.3 162.0L447.4 161.8L444.5 163.0L441.8 162.6M450.3 162.0L451.4 162.6M451.4 162.6L448.6 165.3L447.0 165.8M441.8 162.6L440.6 164.3L439.9 164.5M441.5 161.6L441.8 162.6M447.0 165.8L444.5 166.2L442.6 166.2L440.6 165.2L439.9 164.5M430.3 164.5L433.3 164.3L433.7 164.8L435.9 165.2M435.9 165.2L438.1 165.0L439.9 164.5M435.9 165.2L435.9 166.5M435.9 166.9L438.6 166.9L440.6 165.2M444.8 167.9L441.3 167.4L439.4 167.4L439.8 169.4L442.5 171.1L444.0 171.8M444.8 167.9L445.7 169.4L445.2 170.2L444.0 171.8M444.8 167.9L444.5 166.2M447.0 165.8L448.9 167.4L450.8 168.2L451.1 169.1M451.1 169.1L450.6 171.1L450.6 172.3M450.6 172.3L449.1 172.3L447.5 172.9L446.7 171.8L445.3 170.2M445.5 172.9L446.7 171.8M447.5 172.9L447.5 174.3L448.2 174.6M448.2 174.6L447.5 176.0L446.5 176.7M448.2 174.6L451.4 174.0M451.4 174.0L450.6 172.3M451.4 174.0L454.1 173.6L457.2 173.3M457.2 173.3L456.7 174.6M457.2 173.3L460.1 172.8M451.1 169.1L455.0 169.9L458.9 169.2L461.1 169.9M431.6 144.0L433.5 140.6L433.3 137.3L436.4 134.7L438.8 131.7L443.2 128.0L447.4 127.1M447.4 127.1L452.5 127.6L456.3 126.1L460.1 125.3L461.8 127.0L464.8 125.8M447.4 127.1L452.6 129.0L452.8 131.9L453.6 132.5M461.8 127.0L460.9 128.5L463.5 129.3L461.9 130.8L463.6 132.7L462.9 134.2L464.3 135.4L466.0 137.4L462.6 140.1L459.7 141.5M400.4 150.8L398.8 151.8L402.4 152.3M473.8 183.1L474.8 181.6L478.2 181.7L484.3 180.9M484.3 180.9L488.5 180.9M488.5 180.9L487.5 179.0L488.0 176.7M488.0 176.7L486.6 176.0L486.3 174.3L482.9 173.6M480.4 170.4L484.6 170.7L488.0 171.6L491.4 172.9M491.4 172.9L494.7 173.1M486.3 174.3L488.8 174.0L491.4 172.9M488.8 174.0L491.4 178.0M488.0 176.7L491.4 178.0L493.9 177.2L495.4 178.9M484.3 180.9L482.6 182.1L482.4 185.0L478.3 187.3M478.3 187.3L473.6 188.8L473.1 188.5M472.1 187.8L473.3 187.3L474.6 186.0L473.6 185.3M472.9 188.5L472.8 190.5L471.9 193.9M470.6 190.9L471.7 193.9M471.8 194.2L473.8 194.4L476.1 193.1L475.3 190.5L478.7 189.7L479.0 189.5M479.0 189.5L478.3 187.3M479.0 189.5L481.0 189.9L483.8 191.2L488.3 194.4L491.4 194.6M491.4 194.6L493.1 193.1L493.9 193.1M491.4 194.6L493.4 195.6L494.6 195.6M494.9 193.1L493.4 191.4L493.6 189.2L490.5 188.0L489.5 186.3L490.9 184.3L489.5 182.9L488.5 180.9M485.1 216.1L485.8 214.4L488.0 214.4L492.2 215.1L494.2 213.0L500.7 211.7M500.7 211.7L505.7 210.0L506.9 206.6M500.7 211.7L502.5 215.7M506.9 206.6L506.1 205.4L501.7 205.1L500.0 203.0M506.9 206.6L507.4 203.2L507.8 201.7M507.6 199.7L507.4 200.3M498.6 202.0L499.3 202.2M503.9 180.7L507.4 179.4L509.6 179.0L513.0 180.4L516.2 181.9L516.2 183.6M516.2 183.6L515.2 185.8L515.6 190.5L517.2 190.7L515.7 193.2M515.7 193.2L517.2 195.4L518.9 196.1L519.6 197.8L519.8 198.8L517.2 199.5L516.9 201.2M515.7 193.2L518.4 194.1L521.1 194.1L524.9 193.2L525.0 191.5L527.7 190.4L529.9 189.9L530.3 187.8L531.6 187.3L531.1 186.3L533.0 185.6L533.8 183.8L533.1 182.8L535.3 181.6L538.9 181.2M516.2 183.6L519.3 183.9L521.8 182.4L525.2 180.6L527.4 180.9L529.9 181.1L531.5 180.2L532.0 179.2L533.5 179.5L533.8 181.7L536.7 180.4L539.4 180.9M528.1 203.7L529.1 202.7L532.8 202.5L531.1 200.3L531.8 198.8L530.3 198.1L531.8 196.5L534.3 196.6L536.0 194.8L536.9 193.1L538.9 191.2L538.7 188.5L537.9 185.1L543.0 183.8L544.3 183.8M539.4 180.9L541.1 181.9L544.3 183.8M544.3 183.8L546.2 185.8L545.8 188.7L546.7 188.8L546.0 190.9L549.7 192.7M549.7 192.7L548.2 195.1L551.4 196.6L554.8 197.3L557.8 198.8L561.7 199.2L561.7 196.6M549.7 192.7L551.8 192.9L554.6 194.3L557.7 195.9L559.7 196.5L561.7 196.6M561.7 196.6L562.9 196.5L563.1 197.6L564.6 196.1L567.7 196.8L568.5 198.3L564.6 198.7L563.1 197.6M567.7 196.8L570.9 195.3L574.1 194.6L577.3 196.1M563.3 206.9L562.9 204.9L562.8 202.9L561.7 201.9L561.7 199.2L562.9 199.3L564.6 199.8L564.6 201.0L569.0 201.5L568.7 202.4L567.2 203.2L567.0 204.6L567.7 205.1L568.8 203.7L569.4 207.8M577.3 196.1L575.4 197.6L573.6 198.8L572.7 201.2L572.9 203.2L570.5 203.2L570.7 204.9L569.4 207.8L568.8 208.8M577.3 196.1L579.7 197.3L579.7 200.0L577.8 202.0L578.0 203.4L580.0 204.6L581.0 205.1L580.5 206.4L582.0 207.4L583.9 208.0M583.9 208.0L582.0 209.5M582.0 209.5L578.5 210.5L577.5 212.5L579.3 215.4L578.8 218.1L580.5 221.8L581.2 223.8L579.8 226.9M582.0 209.5L582.9 210.8L583.9 210.8L583.7 214.2L585.4 213.0L587.6 212.7L589.8 214.4L590.0 216.1L591.3 217.3L591.2 219.4M591.2 219.4L586.9 219.6L586.1 220.8L586.8 224.0M591.2 219.4L594.6 218.9M594.6 218.9L594.6 223.0L592.0 223.8L591.9 225.2L589.3 226.2M594.6 218.9L594.6 216.7L592.9 215.1L590.7 212.7L588.6 210.7L589.5 209.1L586.9 208.6L585.4 205.9M583.9 208.0L584.9 208.0L585.4 205.9M585.4 205.9L588.5 205.6L590.8 204.4L593.0 205.2L593.2 206.6L595.4 207.4M582.0 232.8L583.7 234.2L585.4 233.3M598.1 240.4L599.6 242.3L602.2 241.4L605.6 241.4L607.2 239.1L608.3 236.7L611.6 236.7M605.6 236.0L606.9 237.0L607.8 235.5M651.2 248.2L651.2 259.2M624.2 259.4L624.5 259.9L624.0 259.2M561.2 160.6L566.5 164.5L566.6 167.4L574.1 168.9L575.8 171.6L583.2 171.8L590.2 173.5L598.8 171.8L602.0 169.9L604.9 168.0L609.3 166.5L615.2 165.0L615.4 164.2L611.3 163.1L608.3 162.8L610.1 159.6M561.2 160.6L564.3 159.4L569.0 157.9L572.2 158.2L578.3 159.4L579.0 155.9L585.6 157.1L585.8 158.2L593.2 158.7L596.2 160.4L600.0 160.6L606.1 158.7L610.1 159.6M610.1 159.6L612.2 160.1L614.4 158.7L616.9 155.0L621.8 153.3L625.9 154.5L628.4 159.6L633.8 161.1L634.3 163.1L640.6 162.1L637.9 167.5L634.5 168.0L634.8 170.4L633.6 172.1M633.6 172.1L632.1 172.1L629.2 172.8L627.4 173.1L623.1 176.0M627.0 179.9L629.9 178.5M495.8 165.3L491.4 162.0L493.1 158.6L498.6 156.4L505.7 158.2L514.2 157.6L516.9 152.7L522.7 151.8L528.1 150.8L532.8 152.1L537.0 152.5L542.6 151.8L544.3 153.7L548.0 157.9L553.8 157.6L557.0 159.9L560.4 160.6L561.2 160.6M560.4 160.6L557.7 162.0L557.8 164.2L553.1 164.0L551.9 166.9L548.0 167.9L548.5 172.3M548.5 172.3L545.5 173.5L542.8 174.5L539.2 175.3L537.4 177.0M537.4 177.0L539.4 180.9M548.5 172.3L546.7 171.4L540.9 171.3L537.0 171.1L537.2 171.9L532.8 172.3M532.8 172.3L531.1 174.0L527.9 174.5L525.2 171.1L522.5 169.9L516.1 168.7L511.8 166.7L507.4 167.7L507.4 174.0M507.4 174.0L505.4 172.8L501.5 173.1M507.4 174.0L509.3 174.0L511.8 171.6L514.2 172.4L514.4 173.8L517.4 174.3L518.3 176.2L521.3 178.0L525.2 180.6M527.4 180.9L528.4 179.2L527.2 176.8L529.9 174.8L532.1 175.8L531.8 174.5L532.8 172.3M529.9 175.8L532.1 176.8L534.5 177.2L537.4 177.0M532.1 175.8L535.3 175.3L536.4 174.8L534.0 173.6L532.8 172.3" fill="none" stroke="#000" stroke-width="0.9" stroke-linejoin="round"/>
</g>
<rect x="100.5" y="97.5" width="620" height="299" fill="none" stroke="#000" stroke-width="1"/>
<text x="122" y="90" font-size="20" textLength="577" lengthAdjust="spacing">Nequick-Galileo VTEC : 23 Hour of 259 DOY [2019/09/16]</text>
<rect x="100" y="468" width="620" height="31" fill="url(#jet)"/>
<rect x="100.5" y="468.5" width="620" height="31" fill="none" stroke="#000" stroke-width="1"/>
<line x1="167.60" x2="167.60" y1="493.5" y2="499" stroke="#000" stroke-width="0.7"/><text x="166.70" y="519" font-size="16.67" text-anchor="middle">0.4</text>
<line x1="235.47" x2="235.47" y1="493.5" y2="499" stroke="#000" stroke-width="0.7"/><text x="234.57" y="519" font-size="16.67" text-anchor="middle">0.8</text>
<line x1="303.33" x2="303.33" y1="493.5" y2="499" stroke="#000" stroke-width="0.7"/><text x="302.43" y="519" font-size="16.67" text-anchor="middle">1.2</text>
<line x1="371.20" x2="371.20" y1="493.5" y2="499" stroke="#000" stroke-width="0.7"/><text x="370.30" y="519" font-size="16.67" text-anchor="middle">1.6</text>
<line x1="439.06" x2="439.06" y1="493.5" y2="499" stroke="#000" stroke-width="0.7"/><text x="438.16" y="519" font-size="16.67" text-anchor="middle">2.0</text>
<line x1="506.92" x2="506.92" y1="493.5" y2="499" stroke="#000" stroke-width="0.7"/><text x="506.02" y="519" font-size="16.67" text-anchor="middle">2.4</text>
<line x1="574.79" x2="574.79" y1="493.5" y2="499" stroke="#000" stroke-width="0.7"/><text x="573.89" y="519" font-size="16.67" text-anchor="middle">2.8</text>
<line x1="642.65" x2="642.65" y1="493.5" y2="499" stroke="#000" stroke-width="0.7"/><text x="641.75" y="519" font-size="16.67" text-anchor="middle">3.2</text>
<line x1="710.52" x2="710.52" y1="493.5" y2="499" stroke="#000" stroke-width="0.7"/><text x="709.62" y="519" font-size="16.67" text-anchor="middle">3.6</text>
<text x="410" y="544" font-size="16.67" text-anchor="middle">VTEC</text>
<text x="720" y="541" font-size="16.67" text-anchor="end">1e17</text>
</svg>
</body></html>
